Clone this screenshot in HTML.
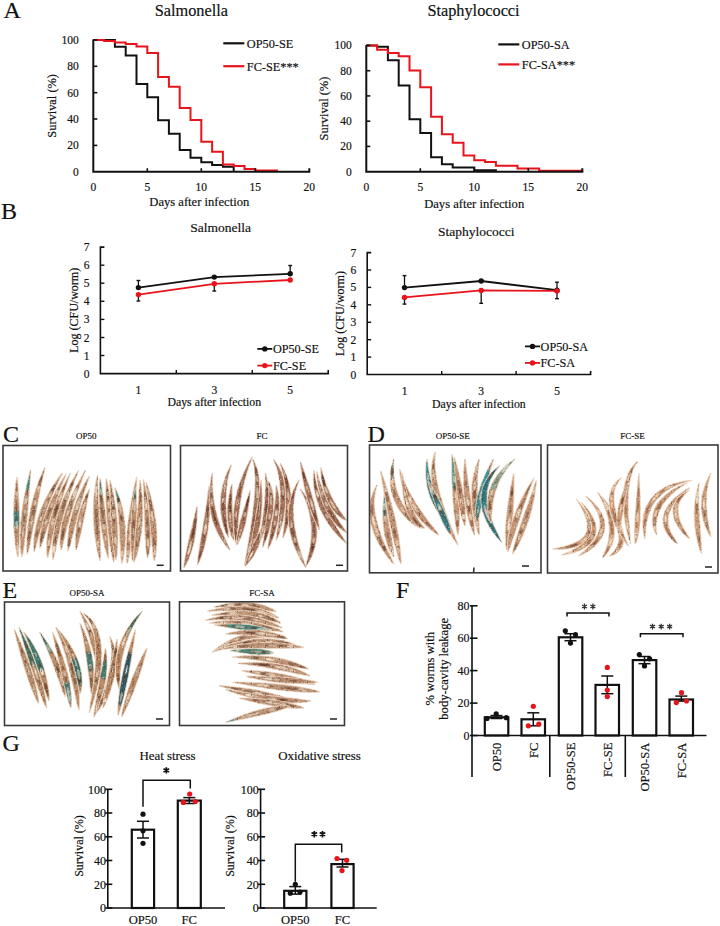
<!DOCTYPE html>
<html><head><meta charset="utf-8"><style>
html,body{margin:0;padding:0;background:#fff;}
svg{display:block;font-family:"Liberation Serif", serif;} text{stroke:#111;stroke-width:0.18px;}
</style></head><body>
<svg width="720" height="926" viewBox="0 0 720 926">
<defs><pattern id="spk" patternUnits="userSpaceOnUse" width="14" height="12"><ellipse cx="6.3" cy="6.7" rx="1.0" ry="0.6" fill="#4a2818" fill-opacity="0.38"/><ellipse cx="7.1" cy="7.0" rx="0.5" ry="0.7" fill="#4a2818" fill-opacity="0.38"/><ellipse cx="8.8" cy="9.5" rx="0.5" ry="0.6" fill="#4a2818" fill-opacity="0.38"/><ellipse cx="1.3" cy="9.7" rx="0.8" ry="0.4" fill="#4a2818" fill-opacity="0.38"/><ellipse cx="13.8" cy="11.6" rx="0.8" ry="0.7" fill="#4a2818" fill-opacity="0.38"/><ellipse cx="2.2" cy="0.2" rx="0.7" ry="0.4" fill="#4a2818" fill-opacity="0.38"/><ellipse cx="2.7" cy="2.9" rx="0.4" ry="0.6" fill="#4a2818" fill-opacity="0.38"/><ellipse cx="6.2" cy="10.1" rx="0.7" ry="0.7" fill="#4a2818" fill-opacity="0.38"/><ellipse cx="7.0" cy="7.9" rx="0.7" ry="0.5" fill="#4a2818" fill-opacity="0.38"/><ellipse cx="14.0" cy="11.9" rx="0.9" ry="0.8" fill="#4a2818" fill-opacity="0.38"/><ellipse cx="4.4" cy="2.8" rx="0.6" ry="0.4" fill="#4a2818" fill-opacity="0.38"/><ellipse cx="10.7" cy="4.8" rx="0.9" ry="0.6" fill="#4a2818" fill-opacity="0.38"/><ellipse cx="13.4" cy="10.2" rx="0.4" ry="0.5" fill="#4a2818" fill-opacity="0.38"/><ellipse cx="12.7" cy="5.6" rx="1.0" ry="0.6" fill="#4a2818" fill-opacity="0.38"/><ellipse cx="1.0" cy="7.6" rx="0.9" ry="0.5" fill="#4a2818" fill-opacity="0.38"/><ellipse cx="1.2" cy="4.0" rx="1.0" ry="0.8" fill="#4a2818" fill-opacity="0.38"/><ellipse cx="1.7" cy="3.0" rx="0.5" ry="0.4" fill="#4a2818" fill-opacity="0.38"/><ellipse cx="11.2" cy="2.1" rx="0.7" ry="0.6" fill="#4a2818" fill-opacity="0.38"/><ellipse cx="2.7" cy="8.8" rx="0.5" ry="0.7" fill="#4a2818" fill-opacity="0.38"/><ellipse cx="1.6" cy="5.0" rx="0.5" ry="0.5" fill="#4a2818" fill-opacity="0.38"/><ellipse cx="13.6" cy="9.6" rx="0.6" ry="0.8" fill="#4a2818" fill-opacity="0.38"/><ellipse cx="2.9" cy="4.7" rx="0.9" ry="0.7" fill="#4a2818" fill-opacity="0.38"/><ellipse cx="1.4" cy="11.9" rx="0.5" ry="0.4" fill="#fff" fill-opacity="0.45"/><ellipse cx="10.8" cy="3.9" rx="0.5" ry="0.3" fill="#fff" fill-opacity="0.45"/><ellipse cx="1.3" cy="7.0" rx="0.5" ry="0.6" fill="#fff" fill-opacity="0.45"/><ellipse cx="5.2" cy="5.4" rx="0.9" ry="0.5" fill="#fff" fill-opacity="0.45"/><ellipse cx="8.0" cy="10.4" rx="0.5" ry="0.4" fill="#fff" fill-opacity="0.45"/><ellipse cx="12.7" cy="9.8" rx="0.5" ry="0.4" fill="#fff" fill-opacity="0.45"/><ellipse cx="10.4" cy="11.3" rx="0.5" ry="0.8" fill="#fff" fill-opacity="0.45"/><ellipse cx="12.4" cy="7.2" rx="0.6" ry="0.4" fill="#fff" fill-opacity="0.45"/><ellipse cx="0.5" cy="11.6" rx="0.5" ry="0.7" fill="#fff" fill-opacity="0.45"/><ellipse cx="3.6" cy="9.9" rx="0.7" ry="0.4" fill="#fff" fill-opacity="0.45"/><ellipse cx="2.5" cy="8.6" rx="0.4" ry="0.4" fill="#fff" fill-opacity="0.45"/><ellipse cx="7.8" cy="10.2" rx="0.7" ry="0.4" fill="#fff" fill-opacity="0.45"/><ellipse cx="12.8" cy="2.4" rx="0.4" ry="0.4" fill="#fff" fill-opacity="0.45"/><ellipse cx="6.2" cy="0.7" rx="0.5" ry="0.5" fill="#fff" fill-opacity="0.45"/></pattern><linearGradient id="g1" gradientUnits="userSpaceOnUse" x1="17.2" y1="477.0" x2="17.9" y2="557.0"><stop offset="0" stop-color="#b88a68"/><stop offset="0.40" stop-color="#b88a68"/><stop offset="0.45" stop-color="#3f8078"/><stop offset="0.58" stop-color="#3f8078"/><stop offset="0.64" stop-color="#b88a68"/><stop offset="1" stop-color="#b88a68"/></linearGradient><linearGradient id="g2" gradientUnits="userSpaceOnUse" x1="30.7" y1="470.0" x2="21.9" y2="557.0"><stop offset="0" stop-color="#b88a68"/><stop offset="0.05" stop-color="#b88a68"/><stop offset="0.10" stop-color="#3f8078"/><stop offset="0.20" stop-color="#3f8078"/><stop offset="0.26" stop-color="#b88a68"/><stop offset="1" stop-color="#b88a68"/></linearGradient><linearGradient id="g3" gradientUnits="userSpaceOnUse" x1="100.2" y1="478.4" x2="108.3" y2="558.0"><stop offset="0" stop-color="#b88a68"/><stop offset="0.00" stop-color="#b88a68"/><stop offset="0.04" stop-color="#3f8078"/><stop offset="0.16" stop-color="#3f8078"/><stop offset="0.22" stop-color="#b88a68"/><stop offset="1" stop-color="#b88a68"/></linearGradient><linearGradient id="g4" gradientUnits="userSpaceOnUse" x1="115.0" y1="487.8" x2="121.8" y2="563.4"><stop offset="0" stop-color="#b88a68"/><stop offset="0.00" stop-color="#b88a68"/><stop offset="0.04" stop-color="#3f8078"/><stop offset="0.16" stop-color="#3f8078"/><stop offset="0.22" stop-color="#b88a68"/><stop offset="1" stop-color="#b88a68"/></linearGradient><linearGradient id="g5" gradientUnits="userSpaceOnUse" x1="135.3" y1="487.8" x2="132.6" y2="560.7"><stop offset="0" stop-color="#b88a68"/><stop offset="0.00" stop-color="#b88a68"/><stop offset="0.00" stop-color="#3f8078"/><stop offset="0.12" stop-color="#3f8078"/><stop offset="0.18" stop-color="#b88a68"/><stop offset="1" stop-color="#b88a68"/></linearGradient><linearGradient id="g6" gradientUnits="userSpaceOnUse" x1="384.3" y1="495.0" x2="393.8" y2="557.0"><stop offset="0" stop-color="#c08e6c"/><stop offset="0.00" stop-color="#c08e6c"/><stop offset="0.05" stop-color="#5a9a90"/><stop offset="0.30" stop-color="#5a9a90"/><stop offset="0.36" stop-color="#c08e6c"/><stop offset="1" stop-color="#c08e6c"/></linearGradient><linearGradient id="g7" gradientUnits="userSpaceOnUse" x1="393.8" y1="459.0" x2="419.9" y2="528.0"><stop offset="0" stop-color="#c08e6c"/><stop offset="0.00" stop-color="#c08e6c"/><stop offset="0.05" stop-color="#7aa090"/><stop offset="0.20" stop-color="#7aa090"/><stop offset="0.26" stop-color="#c08e6c"/><stop offset="1" stop-color="#c08e6c"/></linearGradient><linearGradient id="g8" gradientUnits="userSpaceOnUse" x1="427.0" y1="459.0" x2="448.4" y2="523.0"><stop offset="0" stop-color="#c08e6c"/><stop offset="0.00" stop-color="#c08e6c"/><stop offset="0.00" stop-color="#2a7a80"/><stop offset="0.75" stop-color="#2a7a80"/><stop offset="0.81" stop-color="#c08e6c"/><stop offset="1" stop-color="#c08e6c"/></linearGradient><linearGradient id="g9" gradientUnits="userSpaceOnUse" x1="428.0" y1="481.0" x2="451.0" y2="535.0"><stop offset="0" stop-color="#c08e6c"/><stop offset="0.15" stop-color="#c08e6c"/><stop offset="0.20" stop-color="#2a7a80"/><stop offset="0.90" stop-color="#2a7a80"/><stop offset="0.96" stop-color="#c08e6c"/><stop offset="1" stop-color="#c08e6c"/></linearGradient><linearGradient id="g10" gradientUnits="userSpaceOnUse" x1="452.0" y1="454.5" x2="457.9" y2="535.0"><stop offset="0" stop-color="#c08e6c"/><stop offset="0.00" stop-color="#c08e6c"/><stop offset="0.00" stop-color="#4a8f80"/><stop offset="0.40" stop-color="#4a8f80"/><stop offset="0.46" stop-color="#c08e6c"/><stop offset="1" stop-color="#c08e6c"/></linearGradient><linearGradient id="g11" gradientUnits="userSpaceOnUse" x1="493.5" y1="459.0" x2="476.9" y2="523.0"><stop offset="0" stop-color="#c08e6c"/><stop offset="0.15" stop-color="#c08e6c"/><stop offset="0.20" stop-color="#2f8a8a"/><stop offset="0.90" stop-color="#2f8a8a"/><stop offset="0.96" stop-color="#c08e6c"/><stop offset="1" stop-color="#c08e6c"/></linearGradient><linearGradient id="g12" gradientUnits="userSpaceOnUse" x1="499.5" y1="466.0" x2="501.8" y2="542.4"><stop offset="0" stop-color="#c08e6c"/><stop offset="0.00" stop-color="#c08e6c"/><stop offset="0.00" stop-color="#236e74"/><stop offset="1.00" stop-color="#236e74"/><stop offset="1.00" stop-color="#c08e6c"/><stop offset="1" stop-color="#c08e6c"/></linearGradient><linearGradient id="g13" gradientUnits="userSpaceOnUse" x1="514.9" y1="459.0" x2="491.0" y2="523.0"><stop offset="0" stop-color="#c08e6c"/><stop offset="0.00" stop-color="#c08e6c"/><stop offset="0.00" stop-color="#8aa088"/><stop offset="0.50" stop-color="#8aa088"/><stop offset="0.56" stop-color="#c08e6c"/><stop offset="1" stop-color="#c08e6c"/></linearGradient><linearGradient id="g14" gradientUnits="userSpaceOnUse" x1="19.0" y1="627.4" x2="46.6" y2="708.0"><stop offset="0" stop-color="#b5845e"/><stop offset="0.00" stop-color="#b5845e"/><stop offset="0.00" stop-color="#3a6a5a"/><stop offset="0.45" stop-color="#3a6a5a"/><stop offset="0.51" stop-color="#b5845e"/><stop offset="1" stop-color="#b5845e"/></linearGradient><linearGradient id="g15" gradientUnits="userSpaceOnUse" x1="23.6" y1="632.0" x2="49.0" y2="701.0"><stop offset="0" stop-color="#b5845e"/><stop offset="0.05" stop-color="#b5845e"/><stop offset="0.10" stop-color="#2f6a5e"/><stop offset="0.55" stop-color="#2f6a5e"/><stop offset="0.61" stop-color="#b5845e"/><stop offset="1" stop-color="#b5845e"/></linearGradient><linearGradient id="g16" gradientUnits="userSpaceOnUse" x1="39.7" y1="632.0" x2="65.1" y2="696.5"><stop offset="0" stop-color="#b5845e"/><stop offset="0.00" stop-color="#b5845e"/><stop offset="0.00" stop-color="#386e62"/><stop offset="0.30" stop-color="#386e62"/><stop offset="0.36" stop-color="#b5845e"/><stop offset="1" stop-color="#b5845e"/></linearGradient><linearGradient id="g17" gradientUnits="userSpaceOnUse" x1="52.4" y1="632.0" x2="70.9" y2="708.0"><stop offset="0" stop-color="#b5845e"/><stop offset="0.65" stop-color="#b5845e"/><stop offset="0.70" stop-color="#386e62"/><stop offset="0.90" stop-color="#386e62"/><stop offset="0.96" stop-color="#b5845e"/><stop offset="1" stop-color="#b5845e"/></linearGradient><linearGradient id="g18" gradientUnits="userSpaceOnUse" x1="58.2" y1="629.7" x2="80.0" y2="694.0"><stop offset="0" stop-color="#b5845e"/><stop offset="0.45" stop-color="#b5845e"/><stop offset="0.50" stop-color="#2a625a"/><stop offset="0.85" stop-color="#2a625a"/><stop offset="0.91" stop-color="#b5845e"/><stop offset="1" stop-color="#b5845e"/></linearGradient><linearGradient id="g19" gradientUnits="userSpaceOnUse" x1="80.0" y1="623.0" x2="91.6" y2="694.0"><stop offset="0" stop-color="#b5845e"/><stop offset="0.40" stop-color="#b5845e"/><stop offset="0.45" stop-color="#386e62"/><stop offset="0.65" stop-color="#386e62"/><stop offset="0.71" stop-color="#b5845e"/><stop offset="1" stop-color="#b5845e"/></linearGradient><linearGradient id="g20" gradientUnits="userSpaceOnUse" x1="105.4" y1="648.0" x2="94.0" y2="717.0"><stop offset="0" stop-color="#b5845e"/><stop offset="0.15" stop-color="#b5845e"/><stop offset="0.20" stop-color="#386e62"/><stop offset="0.40" stop-color="#386e62"/><stop offset="0.46" stop-color="#b5845e"/><stop offset="1" stop-color="#b5845e"/></linearGradient><linearGradient id="g21" gradientUnits="userSpaceOnUse" x1="142.3" y1="611.0" x2="119.3" y2="689.6"><stop offset="0" stop-color="#b5845e"/><stop offset="0.00" stop-color="#b5845e"/><stop offset="0.00" stop-color="#3a6e62"/><stop offset="0.25" stop-color="#3a6e62"/><stop offset="0.31" stop-color="#b5845e"/><stop offset="1" stop-color="#b5845e"/></linearGradient><linearGradient id="g22" gradientUnits="userSpaceOnUse" x1="135.4" y1="629.7" x2="118.1" y2="715.0"><stop offset="0" stop-color="#b5845e"/><stop offset="0.25" stop-color="#b5845e"/><stop offset="0.30" stop-color="#1f4e5e"/><stop offset="0.85" stop-color="#1f4e5e"/><stop offset="0.91" stop-color="#b5845e"/><stop offset="1" stop-color="#b5845e"/></linearGradient><linearGradient id="g23" gradientUnits="userSpaceOnUse" x1="214.4" y1="624.9" x2="271.7" y2="630.6"><stop offset="0" stop-color="#b88c6c"/><stop offset="0.20" stop-color="#b88c6c"/><stop offset="0.25" stop-color="#3f8078"/><stop offset="0.90" stop-color="#3f8078"/><stop offset="0.96" stop-color="#b88c6c"/><stop offset="1" stop-color="#b88c6c"/></linearGradient><linearGradient id="g24" gradientUnits="userSpaceOnUse" x1="230.4" y1="650.6" x2="274.0" y2="652.9"><stop offset="0" stop-color="#b88c6c"/><stop offset="0.00" stop-color="#b88c6c"/><stop offset="0.00" stop-color="#3f7a6a"/><stop offset="1.00" stop-color="#3f7a6a"/><stop offset="1.00" stop-color="#b88c6c"/><stop offset="1" stop-color="#b88c6c"/></linearGradient><linearGradient id="g25" gradientUnits="userSpaceOnUse" x1="225.8" y1="722.3" x2="290.0" y2="706.3"><stop offset="0" stop-color="#b88c6c"/><stop offset="0.00" stop-color="#b88c6c"/><stop offset="0.00" stop-color="#3f8078"/><stop offset="0.12" stop-color="#3f8078"/><stop offset="0.18" stop-color="#b88c6c"/><stop offset="1" stop-color="#b88c6c"/></linearGradient></defs>
<rect width="720" height="926" fill="#fff"/>
<text x="3.5" y="17.5" font-size="24" text-anchor="start" fill="#111">A</text>
<text x="1.0" y="218.5" font-size="24" text-anchor="start" fill="#111">B</text>
<text x="3.0" y="442.3" font-size="24" text-anchor="start" fill="#111">C</text>
<text x="367.5" y="442.4" font-size="24" text-anchor="start" fill="#111">D</text>
<text x="2.5" y="597.5" font-size="24" text-anchor="start" fill="#111">E</text>
<text x="396.0" y="597.5" font-size="24" text-anchor="start" fill="#111">F</text>
<text x="2.5" y="750.6" font-size="24" text-anchor="start" fill="#111">G</text>
<path d="M93.3,40.0 H114.9 V46.7 H125.7 V55.5 H136.5 V83.9 H147.3 V97.2 H158.1 V120.3 H168.9 V133.8 H179.7 V150.0 H190.5 V157.7 H201.3 V162.2 H212.1 V164.9 H222.9 V166.7 H233.7 V171.7" stroke="#111" stroke-width="2.0" fill="none" stroke-linejoin="miter"/>
<path d="M93.3,40.0 H104.1 V41.1 H114.9 V42.6 H125.7 V44.0 H136.5 V46.6 H147.3 V53.0 H158.1 V77.0 H168.9 V86.8 H179.7 V108.0 H190.5 V119.9 H201.3 V141.8 H212.1 V151.8 H222.9 V164.5 H233.7 V166.0 H244.5 V168.9 H255.3 V170.6 H276.9 V171.7" stroke="#e8141b" stroke-width="2.0" fill="none" stroke-linejoin="miter"/>
<path d="M93.3,39.5 V171.7 H309.3 v-3.5" stroke="#111" stroke-width="2.0" fill="none"/>
<line x1="93.3" y1="145.4" x2="97.3" y2="145.4" stroke="#111" stroke-width="1.6"/>
<line x1="93.3" y1="119.0" x2="97.3" y2="119.0" stroke="#111" stroke-width="1.6"/>
<line x1="93.3" y1="92.7" x2="97.3" y2="92.7" stroke="#111" stroke-width="1.6"/>
<line x1="93.3" y1="66.3" x2="97.3" y2="66.3" stroke="#111" stroke-width="1.6"/>
<line x1="93.3" y1="40.0" x2="97.3" y2="40.0" stroke="#111" stroke-width="1.6"/>
<line x1="147.3" y1="171.7" x2="147.3" y2="168.2" stroke="#111" stroke-width="1.6"/>
<line x1="201.3" y1="171.7" x2="201.3" y2="168.2" stroke="#111" stroke-width="1.6"/>
<line x1="255.3" y1="171.7" x2="255.3" y2="168.2" stroke="#111" stroke-width="1.6"/>
<text x="78.8" y="175.7" font-size="11.5" text-anchor="end" fill="#111">0</text>
<text x="78.8" y="149.4" font-size="11.5" text-anchor="end" fill="#111">20</text>
<text x="78.8" y="123.0" font-size="11.5" text-anchor="end" fill="#111">40</text>
<text x="78.8" y="96.7" font-size="11.5" text-anchor="end" fill="#111">60</text>
<text x="78.8" y="70.3" font-size="11.5" text-anchor="end" fill="#111">80</text>
<text x="78.8" y="44.0" font-size="11.5" text-anchor="end" fill="#111">100</text>
<text x="93.3" y="191.2" font-size="11.5" text-anchor="middle" fill="#111">0</text>
<text x="147.3" y="191.2" font-size="11.5" text-anchor="middle" fill="#111">5</text>
<text x="201.3" y="191.2" font-size="11.5" text-anchor="middle" fill="#111">10</text>
<text x="255.3" y="191.2" font-size="11.5" text-anchor="middle" fill="#111">15</text>
<text x="309.3" y="191.2" font-size="11.5" text-anchor="middle" fill="#111">20</text>
<text x="199.3" y="205.5" font-size="12.6" text-anchor="middle" fill="#111">Days after infection</text>
<text x="55.9" y="105.8" font-size="12.4" text-anchor="middle" fill="#111" transform="rotate(-90 55.9 105.85)">Survival (%)</text>
<text x="191.3" y="15.8" font-size="16.3" text-anchor="middle" fill="#111">Salmonella</text>
<line x1="223.3" y1="43.3" x2="244.3" y2="43.3" stroke="#111" stroke-width="2.2"/>
<text x="246.8" y="47.6" font-size="12.3" text-anchor="start" fill="#111">OP50-SE</text>
<line x1="223.3" y1="66.2" x2="244.3" y2="66.2" stroke="#e8141b" stroke-width="2.2"/>
<text x="246.8" y="70.5" font-size="12.3" text-anchor="start" fill="#111">FC-SE***</text>
<path d="M366.3,45.4 H377.1 V46.7 H387.9 V60.3 H398.7 V85.6 H409.5 V119.2 H420.3 V133.1 H431.1 V157.2 H441.9 V164.2 H452.7 V167.5 H474.3 V170.3 H495.9 V171.7" stroke="#111" stroke-width="2.0" fill="none" stroke-linejoin="miter"/>
<path d="M366.3,45.4 H377.1 V49.7 H387.9 V53.0 H398.7 V56.3 H409.5 V70.5 H420.3 V87.2 H431.1 V116.8 H441.9 V134.2 H452.7 V142.8 H463.5 V155.5 H474.3 V160.3 H485.1 V162.0 H495.9 V165.8 H517.5 V168.5 H539.1 V170.8 H582.3 V170.4" stroke="#e8141b" stroke-width="2.0" fill="none" stroke-linejoin="miter"/>
<path d="M366.3,44.9 V171.7 H582.3 v-3.5" stroke="#111" stroke-width="2.0" fill="none"/>
<line x1="366.3" y1="146.4" x2="370.3" y2="146.4" stroke="#111" stroke-width="1.6"/>
<line x1="366.3" y1="121.2" x2="370.3" y2="121.2" stroke="#111" stroke-width="1.6"/>
<line x1="366.3" y1="95.9" x2="370.3" y2="95.9" stroke="#111" stroke-width="1.6"/>
<line x1="366.3" y1="70.7" x2="370.3" y2="70.7" stroke="#111" stroke-width="1.6"/>
<line x1="366.3" y1="45.4" x2="370.3" y2="45.4" stroke="#111" stroke-width="1.6"/>
<line x1="420.3" y1="171.7" x2="420.3" y2="168.2" stroke="#111" stroke-width="1.6"/>
<line x1="474.3" y1="171.7" x2="474.3" y2="168.2" stroke="#111" stroke-width="1.6"/>
<line x1="528.3" y1="171.7" x2="528.3" y2="168.2" stroke="#111" stroke-width="1.6"/>
<text x="351.8" y="175.7" font-size="11.5" text-anchor="end" fill="#111">0</text>
<text x="351.8" y="150.4" font-size="11.5" text-anchor="end" fill="#111">20</text>
<text x="351.8" y="125.2" font-size="11.5" text-anchor="end" fill="#111">40</text>
<text x="351.8" y="99.9" font-size="11.5" text-anchor="end" fill="#111">60</text>
<text x="351.8" y="74.7" font-size="11.5" text-anchor="end" fill="#111">80</text>
<text x="351.8" y="49.4" font-size="11.5" text-anchor="end" fill="#111">100</text>
<text x="366.3" y="191.2" font-size="11.5" text-anchor="middle" fill="#111">0</text>
<text x="420.3" y="191.2" font-size="11.5" text-anchor="middle" fill="#111">5</text>
<text x="474.3" y="191.2" font-size="11.5" text-anchor="middle" fill="#111">10</text>
<text x="528.3" y="191.2" font-size="11.5" text-anchor="middle" fill="#111">15</text>
<text x="582.3" y="191.2" font-size="11.5" text-anchor="middle" fill="#111">20</text>
<text x="474.2" y="207.5" font-size="12.6" text-anchor="middle" fill="#111">Days after infection</text>
<text x="328.5" y="108.5" font-size="12.4" text-anchor="middle" fill="#111" transform="rotate(-90 328.5 108.55)">Survival (%)</text>
<text x="473.5" y="15.8" font-size="16.3" text-anchor="middle" fill="#111">Staphylococci</text>
<line x1="498.3" y1="44.4" x2="519.3" y2="44.4" stroke="#111" stroke-width="2.2"/>
<text x="521.8" y="48.7" font-size="12.3" text-anchor="start" fill="#111">OP50-SA</text>
<line x1="498.3" y1="64.4" x2="519.3" y2="64.4" stroke="#e8141b" stroke-width="2.2"/>
<text x="521.8" y="68.7" font-size="12.3" text-anchor="start" fill="#111">FC-SA***</text>
<path d="M104.4,247.1 H100.4 V373.6 H328.2 v-3.5" stroke="#111" stroke-width="1.6" fill="none"/>
<line x1="100.4" y1="355.5" x2="104.4" y2="355.5" stroke="#111" stroke-width="1.4"/>
<line x1="100.4" y1="337.5" x2="104.4" y2="337.5" stroke="#111" stroke-width="1.4"/>
<line x1="100.4" y1="319.4" x2="104.4" y2="319.4" stroke="#111" stroke-width="1.4"/>
<line x1="100.4" y1="301.3" x2="104.4" y2="301.3" stroke="#111" stroke-width="1.4"/>
<line x1="100.4" y1="283.2" x2="104.4" y2="283.2" stroke="#111" stroke-width="1.4"/>
<line x1="100.4" y1="265.2" x2="104.4" y2="265.2" stroke="#111" stroke-width="1.4"/>
<line x1="176.3" y1="373.6" x2="176.3" y2="370.1" stroke="#111" stroke-width="1.4"/>
<line x1="252.3" y1="373.6" x2="252.3" y2="370.1" stroke="#111" stroke-width="1.4"/>
<text x="89.4" y="377.6" font-size="11.5" text-anchor="end" fill="#111">0</text>
<text x="89.4" y="359.5" font-size="11.5" text-anchor="end" fill="#111">1</text>
<text x="89.4" y="341.5" font-size="11.5" text-anchor="end" fill="#111">2</text>
<text x="89.4" y="323.4" font-size="11.5" text-anchor="end" fill="#111">3</text>
<text x="89.4" y="305.3" font-size="11.5" text-anchor="end" fill="#111">4</text>
<text x="89.4" y="287.2" font-size="11.5" text-anchor="end" fill="#111">5</text>
<text x="89.4" y="269.2" font-size="11.5" text-anchor="end" fill="#111">6</text>
<text x="89.4" y="251.1" font-size="11.5" text-anchor="end" fill="#111">7</text>
<text x="138.4" y="393.6" font-size="11.5" text-anchor="middle" fill="#111">1</text>
<text x="214.3" y="393.6" font-size="11.5" text-anchor="middle" fill="#111">3</text>
<text x="290.2" y="393.6" font-size="11.5" text-anchor="middle" fill="#111">5</text>
<text x="214.3" y="405.5" font-size="11.8" text-anchor="middle" fill="#111">Days after infection</text>
<text x="77.5" y="310.4" font-size="12" text-anchor="middle" fill="#111" transform="rotate(-90 77.5 310.35)">Log (CFU/worm)</text>
<text x="220.6" y="232.2" font-size="13.5" text-anchor="middle" fill="#111">Salmonella</text>
<polyline points="138.4,287.6 214.3,277.1 290.2,273.8" stroke="#111" stroke-width="1.8" fill="none"/>
<polyline points="138.4,294.6 214.3,283.8 290.2,280.0" stroke="#e8141b" stroke-width="1.8" fill="none"/>
<line x1="138.4" y1="287.6" x2="138.4" y2="280.5" stroke="#111" stroke-width="1.3"/>
<line x1="136.5" y1="280.5" x2="140.3" y2="280.5" stroke="#111" stroke-width="1.4"/>
<line x1="290.2" y1="273.8" x2="290.2" y2="265.5" stroke="#111" stroke-width="1.3"/>
<line x1="288.3" y1="265.5" x2="292.1" y2="265.5" stroke="#111" stroke-width="1.4"/>
<line x1="138.4" y1="294.6" x2="138.4" y2="301.0" stroke="#111" stroke-width="1.3"/>
<line x1="136.5" y1="301.0" x2="140.3" y2="301.0" stroke="#111" stroke-width="1.4"/>
<line x1="214.3" y1="283.8" x2="214.3" y2="291.0" stroke="#111" stroke-width="1.3"/>
<line x1="212.4" y1="291.0" x2="216.2" y2="291.0" stroke="#111" stroke-width="1.4"/>
<circle cx="138.4" cy="287.6" r="2.7" fill="#111"/>
<circle cx="214.3" cy="277.1" r="2.7" fill="#111"/>
<circle cx="290.2" cy="273.8" r="2.7" fill="#111"/>
<circle cx="138.4" cy="294.6" r="2.7" fill="#e8141b"/>
<circle cx="214.3" cy="283.8" r="2.7" fill="#e8141b"/>
<circle cx="290.2" cy="280.0" r="2.7" fill="#e8141b"/>
<line x1="257.3" y1="348.9" x2="272.3" y2="348.9" stroke="#111" stroke-width="1.8"/>
<circle cx="264.8" cy="348.9" r="2.7" fill="#111"/>
<text x="272.9" y="353.1" font-size="12.2" text-anchor="start" fill="#111">OP50-SE</text>
<line x1="257.3" y1="365.6" x2="272.3" y2="365.6" stroke="#e8141b" stroke-width="1.8"/>
<circle cx="264.8" cy="365.6" r="2.7" fill="#e8141b"/>
<text x="272.9" y="369.8" font-size="12.2" text-anchor="start" fill="#111">FC-SE</text>
<path d="M371.2,252.6 H367.2 V374.5 H590.6 v-3.5" stroke="#111" stroke-width="1.6" fill="none"/>
<line x1="367.2" y1="357.1" x2="371.2" y2="357.1" stroke="#111" stroke-width="1.4"/>
<line x1="367.2" y1="339.7" x2="371.2" y2="339.7" stroke="#111" stroke-width="1.4"/>
<line x1="367.2" y1="322.3" x2="371.2" y2="322.3" stroke="#111" stroke-width="1.4"/>
<line x1="367.2" y1="304.8" x2="371.2" y2="304.8" stroke="#111" stroke-width="1.4"/>
<line x1="367.2" y1="287.4" x2="371.2" y2="287.4" stroke="#111" stroke-width="1.4"/>
<line x1="367.2" y1="270.0" x2="371.2" y2="270.0" stroke="#111" stroke-width="1.4"/>
<line x1="441.7" y1="374.5" x2="441.7" y2="371.0" stroke="#111" stroke-width="1.4"/>
<line x1="516.1" y1="374.5" x2="516.1" y2="371.0" stroke="#111" stroke-width="1.4"/>
<text x="356.2" y="378.5" font-size="11.5" text-anchor="end" fill="#111">0</text>
<text x="356.2" y="361.1" font-size="11.5" text-anchor="end" fill="#111">1</text>
<text x="356.2" y="343.7" font-size="11.5" text-anchor="end" fill="#111">2</text>
<text x="356.2" y="326.3" font-size="11.5" text-anchor="end" fill="#111">3</text>
<text x="356.2" y="308.8" font-size="11.5" text-anchor="end" fill="#111">4</text>
<text x="356.2" y="291.4" font-size="11.5" text-anchor="end" fill="#111">5</text>
<text x="356.2" y="274.0" font-size="11.5" text-anchor="end" fill="#111">6</text>
<text x="356.2" y="256.6" font-size="11.5" text-anchor="end" fill="#111">7</text>
<text x="404.5" y="394.5" font-size="11.5" text-anchor="middle" fill="#111">1</text>
<text x="481.2" y="394.5" font-size="11.5" text-anchor="middle" fill="#111">3</text>
<text x="557.0" y="394.5" font-size="11.5" text-anchor="middle" fill="#111">5</text>
<text x="478.9" y="408.2" font-size="11.8" text-anchor="middle" fill="#111">Days after infection</text>
<text x="344.0" y="313.6" font-size="12" text-anchor="middle" fill="#111" transform="rotate(-90 344 313.55)">Log (CFU/worm)</text>
<text x="476.2" y="236.0" font-size="13.5" text-anchor="middle" fill="#111">Staphylococci</text>
<polyline points="404.5,287.6 481.2,281.0 557.0,290.2" stroke="#111" stroke-width="1.8" fill="none"/>
<polyline points="404.5,297.4 481.2,290.4 557.0,290.9" stroke="#e8141b" stroke-width="1.8" fill="none"/>
<line x1="404.5" y1="287.6" x2="404.5" y2="275.6" stroke="#111" stroke-width="1.3"/>
<line x1="402.6" y1="275.6" x2="406.4" y2="275.6" stroke="#111" stroke-width="1.4"/>
<line x1="404.5" y1="297.4" x2="404.5" y2="304.1" stroke="#111" stroke-width="1.3"/>
<line x1="402.6" y1="304.1" x2="406.4" y2="304.1" stroke="#111" stroke-width="1.4"/>
<line x1="481.2" y1="290.4" x2="481.2" y2="303.3" stroke="#111" stroke-width="1.3"/>
<line x1="479.3" y1="303.3" x2="483.1" y2="303.3" stroke="#111" stroke-width="1.4"/>
<line x1="557.0" y1="290.9" x2="557.0" y2="282.2" stroke="#111" stroke-width="1.3"/>
<line x1="555.1" y1="282.2" x2="558.9" y2="282.2" stroke="#111" stroke-width="1.4"/>
<line x1="557.0" y1="290.9" x2="557.0" y2="298.7" stroke="#111" stroke-width="1.3"/>
<line x1="555.1" y1="298.7" x2="558.9" y2="298.7" stroke="#111" stroke-width="1.4"/>
<circle cx="404.5" cy="287.6" r="2.7" fill="#111"/>
<circle cx="481.2" cy="281.0" r="2.7" fill="#111"/>
<circle cx="557.0" cy="290.2" r="2.7" fill="#111"/>
<circle cx="404.5" cy="297.4" r="2.7" fill="#e8141b"/>
<circle cx="481.2" cy="290.4" r="2.7" fill="#e8141b"/>
<circle cx="557.0" cy="290.9" r="2.7" fill="#e8141b"/>
<line x1="525.0" y1="346.4" x2="540.0" y2="346.4" stroke="#111" stroke-width="1.8"/>
<circle cx="532.5" cy="346.4" r="2.7" fill="#111"/>
<text x="540.6" y="350.6" font-size="12.2" text-anchor="start" fill="#111">OP50-SA</text>
<line x1="525.0" y1="362.9" x2="540.0" y2="362.9" stroke="#e8141b" stroke-width="1.8"/>
<circle cx="532.5" cy="362.9" r="2.7" fill="#e8141b"/>
<text x="540.6" y="367.1" font-size="12.2" text-anchor="start" fill="#111">FC-SA</text>
<rect x="484.8" y="717.3" width="23.5" height="18.2" fill="#fff" stroke="#111" stroke-width="2.2"/>
<rect x="521.5" y="719.3" width="23.5" height="16.2" fill="#fff" stroke="#111" stroke-width="2.2"/>
<rect x="558.8" y="637.3" width="23.5" height="98.2" fill="#fff" stroke="#111" stroke-width="2.2"/>
<rect x="595.5" y="684.9" width="23.5" height="50.6" fill="#fff" stroke="#111" stroke-width="2.2"/>
<rect x="632.8" y="660.1" width="23.5" height="75.4" fill="#fff" stroke="#111" stroke-width="2.2"/>
<rect x="669.5" y="699.5" width="23.5" height="36.0" fill="#fff" stroke="#111" stroke-width="2.2"/>
<line x1="496.5" y1="718.5" x2="496.5" y2="715.6" stroke="#111" stroke-width="1.5"/>
<line x1="490.5" y1="715.6" x2="502.5" y2="715.6" stroke="#111" stroke-width="1.5"/>
<line x1="490.5" y1="718.5" x2="502.5" y2="718.5" stroke="#111" stroke-width="1.5"/>
<circle cx="487.0" cy="718.5" r="2.6" fill="#111"/>
<circle cx="496.2" cy="713.9" r="2.6" fill="#111"/>
<circle cx="506.3" cy="717.7" r="2.6" fill="#111"/>
<line x1="533.3" y1="725.8" x2="533.3" y2="712.8" stroke="#111" stroke-width="1.5"/>
<line x1="527.3" y1="712.8" x2="539.3" y2="712.8" stroke="#111" stroke-width="1.5"/>
<line x1="527.3" y1="725.8" x2="539.3" y2="725.8" stroke="#111" stroke-width="1.5"/>
<circle cx="533.3" cy="706.3" r="2.6" fill="#e8141b"/>
<circle cx="528.3" cy="725.8" r="2.6" fill="#e8141b"/>
<circle cx="538.8" cy="724.2" r="2.6" fill="#e8141b"/>
<line x1="570.5" y1="640.7" x2="570.5" y2="633.7" stroke="#111" stroke-width="1.5"/>
<line x1="564.5" y1="633.7" x2="576.5" y2="633.7" stroke="#111" stroke-width="1.5"/>
<line x1="564.5" y1="640.7" x2="576.5" y2="640.7" stroke="#111" stroke-width="1.5"/>
<circle cx="565.3" cy="630.8" r="2.6" fill="#111"/>
<circle cx="575.5" cy="634.5" r="2.6" fill="#111"/>
<circle cx="570.5" cy="643.1" r="2.6" fill="#111"/>
<line x1="607.3" y1="693.7" x2="607.3" y2="676.0" stroke="#111" stroke-width="1.5"/>
<line x1="601.3" y1="676.0" x2="613.3" y2="676.0" stroke="#111" stroke-width="1.5"/>
<line x1="601.3" y1="693.7" x2="613.3" y2="693.7" stroke="#111" stroke-width="1.5"/>
<circle cx="607.3" cy="667.4" r="2.6" fill="#e8141b"/>
<circle cx="607.3" cy="690.1" r="2.6" fill="#e8141b"/>
<circle cx="607.3" cy="696.6" r="2.6" fill="#e8141b"/>
<line x1="644.5" y1="663.7" x2="644.5" y2="656.5" stroke="#111" stroke-width="1.5"/>
<line x1="638.5" y1="656.5" x2="650.5" y2="656.5" stroke="#111" stroke-width="1.5"/>
<line x1="638.5" y1="663.7" x2="650.5" y2="663.7" stroke="#111" stroke-width="1.5"/>
<circle cx="639.3" cy="654.6" r="2.6" fill="#111"/>
<circle cx="649.6" cy="658.8" r="2.6" fill="#111"/>
<circle cx="644.5" cy="665.9" r="2.6" fill="#111"/>
<line x1="681.3" y1="701.1" x2="681.3" y2="696.1" stroke="#111" stroke-width="1.5"/>
<line x1="675.3" y1="696.1" x2="687.3" y2="696.1" stroke="#111" stroke-width="1.5"/>
<line x1="675.3" y1="701.1" x2="687.3" y2="701.1" stroke="#111" stroke-width="1.5"/>
<circle cx="681.5" cy="692.7" r="2.6" fill="#e8141b"/>
<circle cx="676.3" cy="702.6" r="2.6" fill="#e8141b"/>
<circle cx="686.5" cy="701.0" r="2.6" fill="#e8141b"/>
<path d="M472,605.8 V777 M472,735.5 H706.5 M549.8,735.5 V777 M625.3,735.5 V777" stroke="#111" stroke-width="1.6" fill="none"/>
<line x1="470.0" y1="735.5" x2="477.5" y2="735.5" stroke="#111" stroke-width="1.6"/>
<text x="469.5" y="739.7" font-size="12" text-anchor="end" fill="#111">0</text>
<line x1="470.0" y1="703.1" x2="477.5" y2="703.1" stroke="#111" stroke-width="1.6"/>
<text x="469.5" y="707.3" font-size="12" text-anchor="end" fill="#111">20</text>
<line x1="470.0" y1="670.6" x2="477.5" y2="670.6" stroke="#111" stroke-width="1.6"/>
<text x="469.5" y="674.9" font-size="12" text-anchor="end" fill="#111">40</text>
<line x1="470.0" y1="638.2" x2="477.5" y2="638.2" stroke="#111" stroke-width="1.6"/>
<text x="469.5" y="642.4" font-size="12" text-anchor="end" fill="#111">60</text>
<line x1="470.0" y1="605.8" x2="477.5" y2="605.8" stroke="#111" stroke-width="1.6"/>
<text x="469.5" y="610.0" font-size="12" text-anchor="end" fill="#111">80</text>
<text x="500.8" y="742.6" font-size="12.6" text-anchor="end" fill="#111" transform="rotate(-90 500.8 742.6)">OP50</text>
<text x="537.6" y="742.6" font-size="12.6" text-anchor="end" fill="#111" transform="rotate(-90 537.5999999999999 742.6)">FC</text>
<text x="574.8" y="742.6" font-size="12.6" text-anchor="end" fill="#111" transform="rotate(-90 574.8 742.6)">OP50-SE</text>
<text x="611.6" y="742.6" font-size="12.6" text-anchor="end" fill="#111" transform="rotate(-90 611.5999999999999 742.6)">FC-SE</text>
<text x="648.8" y="742.6" font-size="12.6" text-anchor="end" fill="#111" transform="rotate(-90 648.8 742.6)">OP50-SA</text>
<text x="685.6" y="742.6" font-size="12.6" text-anchor="end" fill="#111" transform="rotate(-90 685.5999999999999 742.6)">FC-SA</text>
<text x="434.5" y="668.8" font-size="12.6" text-anchor="middle" fill="#111" transform="rotate(-90 434.5 668.8)">% worms with</text>
<text x="448.5" y="668.8" font-size="12.6" text-anchor="middle" fill="#111" transform="rotate(-90 448.5 668.8)">body-cavity leakage</text>
<path d="M567,616.5 V613 H609 V616.5" stroke="#111" stroke-width="1.5" fill="none"/>
<path d="M640.4,637.3 V633.8 H683 V637.3" stroke="#111" stroke-width="1.5" fill="none"/>
<path d="M584.50,603.60 L584.50,609.40 M581.99,605.05 L587.01,607.95 M581.99,607.95 L587.01,605.05 " stroke="#333" stroke-width="1.3" fill="none"/>
<path d="M592.90,603.60 L592.90,609.40 M590.39,605.05 L595.41,607.95 M590.39,607.95 L595.41,605.05 " stroke="#333" stroke-width="1.3" fill="none"/>
<path d="M652.50,623.70 L652.50,629.50 M649.99,625.15 L655.01,628.05 M649.99,628.05 L655.01,625.15 " stroke="#333" stroke-width="1.3" fill="none"/>
<path d="M661.20,623.70 L661.20,629.50 M658.69,625.15 L663.71,628.05 M658.69,628.05 L663.71,625.15 " stroke="#333" stroke-width="1.3" fill="none"/>
<path d="M669.60,623.70 L669.60,629.50 M667.09,625.15 L672.11,628.05 M667.09,628.05 L672.11,625.15 " stroke="#333" stroke-width="1.3" fill="none"/>
<rect x="131.8" y="829.7" width="22.3" height="78.3" fill="#fff" stroke="#111" stroke-width="2.2"/>
<rect x="177.8" y="800.6" width="23.0" height="107.4" fill="#fff" stroke="#111" stroke-width="2.2"/>
<line x1="143.0" y1="838.0" x2="143.0" y2="821.3" stroke="#111" stroke-width="1.5"/>
<line x1="137.0" y1="821.3" x2="149.0" y2="821.3" stroke="#111" stroke-width="1.5"/>
<line x1="137.0" y1="838.0" x2="149.0" y2="838.0" stroke="#111" stroke-width="1.5"/>
<circle cx="143.0" cy="814.2" r="2.6" fill="#111"/>
<circle cx="143.0" cy="830.8" r="2.6" fill="#111"/>
<circle cx="143.0" cy="843.3" r="2.6" fill="#111"/>
<line x1="189.3" y1="803.5" x2="189.3" y2="797.6" stroke="#111" stroke-width="1.5"/>
<line x1="183.3" y1="797.6" x2="195.3" y2="797.6" stroke="#111" stroke-width="1.5"/>
<line x1="183.3" y1="803.5" x2="195.3" y2="803.5" stroke="#111" stroke-width="1.5"/>
<circle cx="189.7" cy="794.0" r="2.6" fill="#e8141b"/>
<circle cx="183.3" cy="802.4" r="2.6" fill="#e8141b"/>
<circle cx="195.3" cy="801.5" r="2.6" fill="#e8141b"/>
<path d="M107.8,789.3 V908.0 H225" stroke="#111" stroke-width="1.6" fill="none"/>
<line x1="105.3" y1="908.0" x2="112.3" y2="908.0" stroke="#111" stroke-width="1.6"/>
<text x="106.0" y="912.2" font-size="12" text-anchor="end" fill="#111">0</text>
<line x1="105.3" y1="884.3" x2="112.3" y2="884.3" stroke="#111" stroke-width="1.6"/>
<text x="106.0" y="888.5" font-size="12" text-anchor="end" fill="#111">20</text>
<line x1="105.3" y1="860.5" x2="112.3" y2="860.5" stroke="#111" stroke-width="1.6"/>
<text x="106.0" y="864.7" font-size="12" text-anchor="end" fill="#111">40</text>
<line x1="105.3" y1="836.8" x2="112.3" y2="836.8" stroke="#111" stroke-width="1.6"/>
<text x="106.0" y="841.0" font-size="12" text-anchor="end" fill="#111">60</text>
<line x1="105.3" y1="813.0" x2="112.3" y2="813.0" stroke="#111" stroke-width="1.6"/>
<text x="106.0" y="817.2" font-size="12" text-anchor="end" fill="#111">80</text>
<line x1="105.3" y1="789.3" x2="112.3" y2="789.3" stroke="#111" stroke-width="1.6"/>
<text x="106.0" y="793.5" font-size="12" text-anchor="end" fill="#111">100</text>
<text x="143.0" y="924.0" font-size="12.6" text-anchor="middle" fill="#111">OP50</text>
<text x="189.3" y="924.0" font-size="12.6" text-anchor="middle" fill="#111">FC</text>
<text x="167.5" y="760.3" font-size="12.9" text-anchor="middle" fill="#111">Heat stress</text>
<text x="83.0" y="846.0" font-size="12" text-anchor="middle" fill="#111" transform="rotate(-90 83 846)">Survival (%)</text>
<path d="M143,806.7 V780.3 H190.3 V788.6" stroke="#111" stroke-width="1.5" fill="none"/>
<path d="M166.30,767.20 L166.30,773.60 M163.53,768.80 L169.07,772.00 M163.53,772.00 L169.07,768.80 " stroke="#111" stroke-width="1.7" fill="none"/>
<rect x="284.2" y="890.8" width="22.2" height="17.2" fill="#fff" stroke="#111" stroke-width="2.2"/>
<rect x="331.4" y="864.1" width="22.2" height="43.9" fill="#fff" stroke="#111" stroke-width="2.2"/>
<line x1="295.3" y1="894.1" x2="295.3" y2="886.6" stroke="#111" stroke-width="1.5"/>
<line x1="289.3" y1="886.6" x2="301.3" y2="886.6" stroke="#111" stroke-width="1.5"/>
<line x1="289.3" y1="894.1" x2="301.3" y2="894.1" stroke="#111" stroke-width="1.5"/>
<circle cx="295.3" cy="884.3" r="2.6" fill="#111"/>
<circle cx="290.3" cy="893.2" r="2.6" fill="#111"/>
<circle cx="300.0" cy="892.1" r="2.6" fill="#111"/>
<line x1="342.5" y1="867.0" x2="342.5" y2="859.3" stroke="#111" stroke-width="1.5"/>
<line x1="336.5" y1="859.3" x2="348.5" y2="859.3" stroke="#111" stroke-width="1.5"/>
<line x1="336.5" y1="867.0" x2="348.5" y2="867.0" stroke="#111" stroke-width="1.5"/>
<circle cx="337.0" cy="858.5" r="2.6" fill="#e8141b"/>
<circle cx="346.7" cy="860.3" r="2.6" fill="#e8141b"/>
<circle cx="342.0" cy="870.6" r="2.6" fill="#e8141b"/>
<path d="M260.6,789.3 V908.0 H376.7" stroke="#111" stroke-width="1.6" fill="none"/>
<line x1="258.1" y1="908.0" x2="265.1" y2="908.0" stroke="#111" stroke-width="1.6"/>
<text x="258.8" y="912.2" font-size="12" text-anchor="end" fill="#111">0</text>
<line x1="258.1" y1="884.3" x2="265.1" y2="884.3" stroke="#111" stroke-width="1.6"/>
<text x="258.8" y="888.5" font-size="12" text-anchor="end" fill="#111">20</text>
<line x1="258.1" y1="860.5" x2="265.1" y2="860.5" stroke="#111" stroke-width="1.6"/>
<text x="258.8" y="864.7" font-size="12" text-anchor="end" fill="#111">40</text>
<line x1="258.1" y1="836.8" x2="265.1" y2="836.8" stroke="#111" stroke-width="1.6"/>
<text x="258.8" y="841.0" font-size="12" text-anchor="end" fill="#111">60</text>
<line x1="258.1" y1="813.0" x2="265.1" y2="813.0" stroke="#111" stroke-width="1.6"/>
<text x="258.8" y="817.2" font-size="12" text-anchor="end" fill="#111">80</text>
<line x1="258.1" y1="789.3" x2="265.1" y2="789.3" stroke="#111" stroke-width="1.6"/>
<text x="258.8" y="793.5" font-size="12" text-anchor="end" fill="#111">100</text>
<text x="295.3" y="924.0" font-size="12.6" text-anchor="middle" fill="#111">OP50</text>
<text x="342.5" y="924.0" font-size="12.6" text-anchor="middle" fill="#111">FC</text>
<text x="319.5" y="760.3" font-size="12.9" text-anchor="middle" fill="#111">Oxidative stress</text>
<text x="234.0" y="846.0" font-size="12" text-anchor="middle" fill="#111" transform="rotate(-90 234 846)">Survival (%)</text>
<path d="M295.3,881.7 V844.2 H341.7 V852.5" stroke="#111" stroke-width="1.5" fill="none"/>
<path d="M314.30,831.00 L314.30,837.40 M311.53,832.60 L317.07,835.80 M311.53,835.80 L317.07,832.60 " stroke="#111" stroke-width="1.7" fill="none"/>
<path d="M322.50,831.00 L322.50,837.40 M319.73,832.60 L325.27,835.80 M319.73,835.80 L325.27,832.60 " stroke="#111" stroke-width="1.7" fill="none"/>
<rect x="3" y="445.5" width="167.5" height="125.5" fill="#fff"/>
<g><polygon points="16.9,477.0 16.1,481.1 15.5,485.4 15.0,489.8 14.5,494.3 14.1,499.0 13.8,503.7 13.6,508.6 13.5,513.5 13.5,518.6 13.6,523.8 13.8,529.1 14.2,534.5 14.7,540.0 15.4,545.6 16.3,551.2 17.6,557.0 18.2,557.0 18.9,551.1 19.3,545.4 19.5,539.8 19.7,534.3 19.7,528.9 19.7,523.7 19.7,518.5 19.5,513.5 19.4,508.5 19.2,503.7 18.9,499.0 18.7,494.4 18.4,489.9 18.1,485.5 17.8,481.2 17.5,477.0" fill="url(#g1)" fill-opacity="0.92" stroke="#f2dcc8" stroke-width="0.8"/>
<ellipse cx="16.2" cy="505.6" rx="4.8" ry="0.9" transform="rotate(90 16.5 505.6)" fill="#5e3a26" fill-opacity="0.45"/>
<ellipse cx="16.4" cy="518.6" rx="2.7" ry="1.2" transform="rotate(89 16.6 518.6)" fill="#5e3a26" fill-opacity="0.45"/>
<ellipse cx="16.7" cy="489.3" rx="2.7" ry="0.9" transform="rotate(92 16.7 489.3)" fill="#5e3a26" fill-opacity="0.45"/>
<ellipse cx="16.8" cy="511.7" rx="2.9" ry="1.0" transform="rotate(90 16.5 511.7)" fill="#5e3a26" fill-opacity="0.45"/>
<ellipse cx="17.0" cy="524.4" rx="4.5" ry="1.1" transform="rotate(89 16.7 524.4)" fill="#fff6e0" fill-opacity="0.5"/>
<ellipse cx="17.1" cy="547.9" rx="5.5" ry="1.1" transform="rotate(87 17.5 547.9)" fill="#fff6e0" fill-opacity="0.5"/>
<ellipse cx="16.3" cy="495.2" rx="3.6" ry="1.4" transform="rotate(91 16.6 495.2)" fill="#fff6e0" fill-opacity="0.5"/>
<polygon points="16.9,477.0 16.1,481.1 15.5,485.4 15.0,489.8 14.5,494.3 14.1,499.0 13.8,503.7 13.6,508.6 13.5,513.5 13.5,518.6 13.6,523.8 13.8,529.1 14.2,534.5 14.7,540.0 15.4,545.6 16.3,551.2 17.6,557.0 18.2,557.0 18.9,551.1 19.3,545.4 19.5,539.8 19.7,534.3 19.7,528.9 19.7,523.7 19.7,518.5 19.5,513.5 19.4,508.5 19.2,503.7 18.9,499.0 18.7,494.4 18.4,489.9 18.1,485.5 17.8,481.2 17.5,477.0" fill="url(#spk)"/></g>
<g><polygon points="30.4,469.9 28.9,475.3 27.6,480.7 26.3,486.1 25.2,491.5 24.1,496.9 23.1,502.3 22.3,507.7 21.6,513.2 21.0,518.7 20.5,524.1 20.3,529.6 20.1,535.1 20.1,540.6 20.3,546.0 20.7,551.5 21.6,557.0 22.2,557.0 23.4,551.6 24.2,546.2 24.9,540.8 25.5,535.4 26.1,530.0 26.7,524.6 27.2,519.2 27.6,513.8 28.1,508.4 28.5,502.9 28.9,497.5 29.3,492.0 29.7,486.6 30.1,481.1 30.6,475.6 31.0,470.1" fill="url(#g2)" fill-opacity="0.92" stroke="#f2dcc8" stroke-width="0.8"/>
<ellipse cx="26.8" cy="495.2" rx="4.7" ry="1.1" transform="rotate(98 26.8 495.2)" fill="#5e3a26" fill-opacity="0.45"/>
<ellipse cx="23.6" cy="519.7" rx="2.7" ry="1.0" transform="rotate(95 24.0 519.7)" fill="#5e3a26" fill-opacity="0.45"/>
<ellipse cx="23.2" cy="528.6" rx="3.6" ry="1.3" transform="rotate(94 23.3 528.6)" fill="#5e3a26" fill-opacity="0.45"/>
<ellipse cx="24.4" cy="513.4" rx="5.3" ry="1.3" transform="rotate(96 24.6 513.4)" fill="#5e3a26" fill-opacity="0.45"/>
<ellipse cx="26.3" cy="499.4" rx="4.3" ry="1.5" transform="rotate(97 26.2 499.4)" fill="#fff6e0" fill-opacity="0.5"/>
<ellipse cx="22.9" cy="531.9" rx="5.9" ry="0.9" transform="rotate(94 23.0 531.9)" fill="#fff6e0" fill-opacity="0.5"/>
<ellipse cx="25.1" cy="511.1" rx="3.0" ry="1.2" transform="rotate(96 24.9 511.1)" fill="#fff6e0" fill-opacity="0.5"/>
<polygon points="30.4,469.9 28.9,475.3 27.6,480.7 26.3,486.1 25.2,491.5 24.1,496.9 23.1,502.3 22.3,507.7 21.6,513.2 21.0,518.7 20.5,524.1 20.3,529.6 20.1,535.1 20.1,540.6 20.3,546.0 20.7,551.5 21.6,557.0 22.2,557.0 23.4,551.6 24.2,546.2 24.9,540.8 25.5,535.4 26.1,530.0 26.7,524.6 27.2,519.2 27.6,513.8 28.1,508.4 28.5,502.9 28.9,497.5 29.3,492.0 29.7,486.6 30.1,481.1 30.6,475.6 31.0,470.1" fill="url(#spk)"/></g>
<g><polygon points="44.6,467.5 42.5,471.8 40.6,476.3 38.7,480.9 37.0,485.6 35.3,490.6 33.8,495.6 32.4,500.8 31.1,506.2 30.0,511.7 29.0,517.3 28.2,523.1 27.5,529.0 27.0,535.1 26.7,541.2 26.6,547.5 27.0,554.0 27.6,554.0 29.3,547.8 30.5,541.7 31.8,535.7 32.9,529.8 34.0,524.0 35.1,518.4 36.1,512.8 37.1,507.4 38.1,502.1 39.0,496.9 40.0,491.8 41.0,486.8 42.0,481.8 43.1,477.0 44.1,472.3 45.2,467.7" fill="#b88a68" fill-opacity="0.92" stroke="#f2dcc8" stroke-width="0.8"/>
<ellipse cx="40.7" cy="480.8" rx="5.2" ry="1.3" transform="rotate(107 40.5 480.8)" fill="#5e3a26" fill-opacity="0.45"/>
<ellipse cx="29.1" cy="536.5" rx="4.9" ry="1.3" transform="rotate(97 29.2 536.5)" fill="#5e3a26" fill-opacity="0.45"/>
<ellipse cx="32.4" cy="515.3" rx="5.4" ry="1.5" transform="rotate(100 32.5 515.3)" fill="#5e3a26" fill-opacity="0.45"/>
<ellipse cx="34.0" cy="508.1" rx="2.7" ry="1.4" transform="rotate(101 33.8 508.1)" fill="#5e3a26" fill-opacity="0.45"/>
<ellipse cx="32.1" cy="520.0" rx="5.4" ry="1.0" transform="rotate(99 31.7 520.0)" fill="#fff6e0" fill-opacity="0.5"/>
<ellipse cx="35.2" cy="502.3" rx="2.6" ry="1.2" transform="rotate(102 35.1 502.3)" fill="#fff6e0" fill-opacity="0.5"/>
<ellipse cx="38.1" cy="488.5" rx="2.7" ry="1.4" transform="rotate(105 38.4 488.5)" fill="#fff6e0" fill-opacity="0.5"/>
<polygon points="44.6,467.5 42.5,471.8 40.6,476.3 38.7,480.9 37.0,485.6 35.3,490.6 33.8,495.6 32.4,500.8 31.1,506.2 30.0,511.7 29.0,517.3 28.2,523.1 27.5,529.0 27.0,535.1 26.7,541.2 26.6,547.5 27.0,554.0 27.6,554.0 29.3,547.8 30.5,541.7 31.8,535.7 32.9,529.8 34.0,524.0 35.1,518.4 36.1,512.8 37.1,507.4 38.1,502.1 39.0,496.9 40.0,491.8 41.0,486.8 42.0,481.8 43.1,477.0 44.1,472.3 45.2,467.7" fill="url(#spk)"/></g>
<g><polygon points="62.1,472.8 58.8,477.1 55.7,481.5 52.7,486.0 49.9,490.6 47.3,495.3 44.9,500.0 42.6,504.9 40.6,509.8 38.9,514.8 37.3,519.8 36.0,524.9 35.0,530.1 34.2,535.4 33.7,540.7 33.4,546.0 33.8,551.4 34.4,551.4 36.1,546.4 37.5,541.3 38.9,536.3 40.3,531.4 41.7,526.4 43.2,521.6 44.7,516.7 46.4,511.8 48.0,507.0 49.8,502.1 51.7,497.3 53.6,492.5 55.7,487.7 57.9,482.8 60.2,478.0 62.7,473.2" fill="#b88a68" fill-opacity="0.92" stroke="#f2dcc8" stroke-width="0.8"/>
<ellipse cx="51.6" cy="491.5" rx="3.9" ry="1.5" transform="rotate(117 51.8 491.5)" fill="#5e3a26" fill-opacity="0.45"/>
<ellipse cx="53.2" cy="488.7" rx="4.4" ry="1.5" transform="rotate(118 53.2 488.7)" fill="#5e3a26" fill-opacity="0.45"/>
<ellipse cx="37.4" cy="533.3" rx="3.5" ry="1.1" transform="rotate(102 37.1 533.3)" fill="#5e3a26" fill-opacity="0.45"/>
<ellipse cx="46.0" cy="505.0" rx="5.9" ry="0.9" transform="rotate(112 45.7 505.0)" fill="#5e3a26" fill-opacity="0.45"/>
<ellipse cx="50.2" cy="494.3" rx="3.3" ry="1.2" transform="rotate(116 50.4 494.3)" fill="#fff6e0" fill-opacity="0.5"/>
<ellipse cx="40.6" cy="519.0" rx="2.5" ry="1.1" transform="rotate(107 40.8 519.0)" fill="#fff6e0" fill-opacity="0.5"/>
<ellipse cx="45.5" cy="505.7" rx="5.8" ry="1.3" transform="rotate(112 45.4 505.7)" fill="#fff6e0" fill-opacity="0.5"/>
<polygon points="62.1,472.8 58.8,477.1 55.7,481.5 52.7,486.0 49.9,490.6 47.3,495.3 44.9,500.0 42.6,504.9 40.6,509.8 38.9,514.8 37.3,519.8 36.0,524.9 35.0,530.1 34.2,535.4 33.7,540.7 33.4,546.0 33.8,551.4 34.4,551.4 36.1,546.4 37.5,541.3 38.9,536.3 40.3,531.4 41.7,526.4 43.2,521.6 44.7,516.7 46.4,511.8 48.0,507.0 49.8,502.1 51.7,497.3 53.6,492.5 55.7,487.7 57.9,482.8 60.2,478.0 62.7,473.2" fill="url(#spk)"/></g>
<g><polygon points="65.7,473.9 62.7,478.7 59.8,483.6 57.1,488.4 54.6,493.2 52.2,497.9 50.0,502.6 48.0,507.3 46.1,512.0 44.5,516.6 43.1,521.2 41.9,525.8 40.9,530.3 40.1,534.8 39.6,539.2 39.4,543.6 39.7,548.0 40.3,548.0 42.0,544.1 43.4,540.0 44.8,535.9 46.1,531.7 47.5,527.4 48.9,523.0 50.4,518.6 51.9,514.0 53.4,509.4 55.0,504.6 56.7,499.8 58.4,494.8 60.2,489.8 62.2,484.7 64.2,479.5 66.3,474.1" fill="#b88a68" fill-opacity="0.92" stroke="#f2dcc8" stroke-width="0.8"/>
<ellipse cx="47.9" cy="516.5" rx="4.9" ry="0.9" transform="rotate(108 47.8 516.5)" fill="#5e3a26" fill-opacity="0.45"/>
<ellipse cx="42.2" cy="537.4" rx="5.6" ry="1.4" transform="rotate(102 42.0 537.4)" fill="#5e3a26" fill-opacity="0.45"/>
<ellipse cx="50.2" cy="509.4" rx="2.9" ry="1.3" transform="rotate(110 50.3 509.4)" fill="#5e3a26" fill-opacity="0.45"/>
<ellipse cx="58.0" cy="489.9" rx="3.2" ry="1.0" transform="rotate(114 58.3 489.9)" fill="#5e3a26" fill-opacity="0.45"/>
<ellipse cx="51.0" cy="506.4" rx="2.5" ry="1.0" transform="rotate(111 51.4 506.4)" fill="#fff6e0" fill-opacity="0.5"/>
<ellipse cx="57.1" cy="492.3" rx="2.6" ry="1.5" transform="rotate(114 57.3 492.3)" fill="#fff6e0" fill-opacity="0.5"/>
<ellipse cx="45.8" cy="522.0" rx="3.4" ry="1.1" transform="rotate(107 46.0 522.0)" fill="#fff6e0" fill-opacity="0.5"/>
<polygon points="65.7,473.9 62.7,478.7 59.8,483.6 57.1,488.4 54.6,493.2 52.2,497.9 50.0,502.6 48.0,507.3 46.1,512.0 44.5,516.6 43.1,521.2 41.9,525.8 40.9,530.3 40.1,534.8 39.6,539.2 39.4,543.6 39.7,548.0 40.3,548.0 42.0,544.1 43.4,540.0 44.8,535.9 46.1,531.7 47.5,527.4 48.9,523.0 50.4,518.6 51.9,514.0 53.4,509.4 55.0,504.6 56.7,499.8 58.4,494.8 60.2,489.8 62.2,484.7 64.2,479.5 66.3,474.1" fill="url(#spk)"/></g>
<g><polygon points="70.2,472.9 67.2,478.1 64.4,483.4 61.7,488.7 59.3,494.0 57.0,499.4 54.9,504.7 53.0,510.1 51.4,515.4 49.9,520.8 48.7,526.1 47.8,531.5 47.1,536.8 46.6,542.2 46.5,547.5 46.6,552.8 47.3,558.0 47.9,558.0 49.2,553.0 50.3,547.9 51.4,542.8 52.4,537.7 53.6,532.6 54.7,527.4 56.0,522.2 57.2,517.0 58.6,511.7 60.0,506.4 61.5,501.0 63.2,495.5 64.9,490.0 66.8,484.4 68.7,478.8 70.8,473.1" fill="#b88a68" fill-opacity="0.92" stroke="#f2dcc8" stroke-width="0.8"/>
<ellipse cx="55.7" cy="510.3" rx="5.5" ry="1.6" transform="rotate(107 56.0 510.3)" fill="#5e3a26" fill-opacity="0.45"/>
<ellipse cx="54.1" cy="516.9" rx="2.8" ry="0.9" transform="rotate(105 54.1 516.9)" fill="#5e3a26" fill-opacity="0.45"/>
<ellipse cx="56.2" cy="508.9" rx="5.4" ry="1.0" transform="rotate(107 56.4 508.9)" fill="#5e3a26" fill-opacity="0.45"/>
<ellipse cx="64.4" cy="487.7" rx="4.3" ry="0.9" transform="rotate(112 64.0 487.7)" fill="#5e3a26" fill-opacity="0.45"/>
<ellipse cx="52.4" cy="522.0" rx="4.3" ry="1.6" transform="rotate(103 52.8 522.0)" fill="#fff6e0" fill-opacity="0.5"/>
<ellipse cx="49.1" cy="542.7" rx="3.4" ry="1.1" transform="rotate(97 49.0 542.7)" fill="#fff6e0" fill-opacity="0.5"/>
<ellipse cx="60.5" cy="497.2" rx="4.4" ry="1.4" transform="rotate(110 60.3 497.2)" fill="#fff6e0" fill-opacity="0.5"/>
<polygon points="70.2,472.9 67.2,478.1 64.4,483.4 61.7,488.7 59.3,494.0 57.0,499.4 54.9,504.7 53.0,510.1 51.4,515.4 49.9,520.8 48.7,526.1 47.8,531.5 47.1,536.8 46.6,542.2 46.5,547.5 46.6,552.8 47.3,558.0 47.9,558.0 49.2,553.0 50.3,547.9 51.4,542.8 52.4,537.7 53.6,532.6 54.7,527.4 56.0,522.2 57.2,517.0 58.6,511.7 60.0,506.4 61.5,501.0 63.2,495.5 64.9,490.0 66.8,484.4 68.7,478.8 70.8,473.1" fill="url(#spk)"/></g>
<g><polygon points="78.4,470.2 75.2,475.2 72.2,480.3 69.4,485.5 66.8,490.8 64.3,496.1 62.1,501.6 60.0,507.1 58.2,512.7 56.6,518.3 55.2,524.0 54.1,529.8 53.2,535.7 52.6,541.6 52.2,547.5 52.2,553.5 52.7,559.5 53.3,559.5 54.8,553.7 56.1,548.0 57.3,542.3 58.5,536.6 59.8,531.0 61.2,525.4 62.6,519.9 64.0,514.3 65.5,508.8 67.1,503.3 68.8,497.8 70.6,492.3 72.6,486.9 74.6,481.4 76.7,475.9 79.0,470.4" fill="#b88a68" fill-opacity="0.92" stroke="#f2dcc8" stroke-width="0.8"/>
<ellipse cx="63.5" cy="505.0" rx="5.3" ry="1.6" transform="rotate(108 63.7 505.0)" fill="#5e3a26" fill-opacity="0.45"/>
<ellipse cx="55.3" cy="541.4" rx="5.4" ry="1.4" transform="rotate(99 55.0 541.4)" fill="#5e3a26" fill-opacity="0.45"/>
<ellipse cx="66.2" cy="498.0" rx="3.7" ry="0.9" transform="rotate(110 66.2 498.0)" fill="#5e3a26" fill-opacity="0.45"/>
<ellipse cx="71.4" cy="484.8" rx="3.4" ry="1.3" transform="rotate(114 71.6 484.8)" fill="#5e3a26" fill-opacity="0.45"/>
<ellipse cx="54.0" cy="548.8" rx="5.8" ry="1.6" transform="rotate(97 54.0 548.8)" fill="#fff6e0" fill-opacity="0.5"/>
<ellipse cx="53.9" cy="548.7" rx="3.3" ry="1.0" transform="rotate(97 54.0 548.7)" fill="#fff6e0" fill-opacity="0.5"/>
<ellipse cx="66.7" cy="496.0" rx="4.7" ry="1.5" transform="rotate(111 67.0 496.0)" fill="#fff6e0" fill-opacity="0.5"/>
<polygon points="78.4,470.2 75.2,475.2 72.2,480.3 69.4,485.5 66.8,490.8 64.3,496.1 62.1,501.6 60.0,507.1 58.2,512.7 56.6,518.3 55.2,524.0 54.1,529.8 53.2,535.7 52.6,541.6 52.2,547.5 52.2,553.5 52.7,559.5 53.3,559.5 54.8,553.7 56.1,548.0 57.3,542.3 58.5,536.6 59.8,531.0 61.2,525.4 62.6,519.9 64.0,514.3 65.5,508.8 67.1,503.3 68.8,497.8 70.6,492.3 72.6,486.9 74.6,481.4 76.7,475.9 79.0,470.4" fill="url(#spk)"/></g>
<g><polygon points="85.1,470.2 81.8,475.7 78.8,481.2 75.9,486.6 73.3,491.9 70.9,497.2 68.6,502.4 66.7,507.6 64.9,512.6 63.4,517.6 62.1,522.5 61.1,527.4 60.4,532.1 60.0,536.7 59.8,541.3 60.0,545.7 60.8,550.0 61.4,550.0 62.7,545.9 63.7,541.7 64.7,537.5 65.8,533.1 66.9,528.6 68.1,524.0 69.4,519.3 70.7,514.4 72.2,509.4 73.7,504.2 75.4,498.9 77.2,493.5 79.1,488.0 81.2,482.3 83.4,476.4 85.7,470.4" fill="#b88a68" fill-opacity="0.92" stroke="#f2dcc8" stroke-width="0.8"/>
<ellipse cx="62.5" cy="536.0" rx="4.8" ry="1.4" transform="rotate(99 62.5 536.0)" fill="#5e3a26" fill-opacity="0.45"/>
<ellipse cx="76.6" cy="489.7" rx="5.7" ry="1.4" transform="rotate(113 76.5 489.7)" fill="#5e3a26" fill-opacity="0.45"/>
<ellipse cx="63.4" cy="530.9" rx="3.1" ry="1.4" transform="rotate(101 63.4 530.9)" fill="#5e3a26" fill-opacity="0.45"/>
<ellipse cx="70.5" cy="505.9" rx="5.9" ry="1.1" transform="rotate(109 70.3 505.9)" fill="#5e3a26" fill-opacity="0.45"/>
<ellipse cx="69.2" cy="510.2" rx="5.0" ry="1.0" transform="rotate(108 68.8 510.2)" fill="#fff6e0" fill-opacity="0.5"/>
<ellipse cx="75.0" cy="492.5" rx="5.7" ry="1.4" transform="rotate(112 75.3 492.5)" fill="#fff6e0" fill-opacity="0.5"/>
<ellipse cx="75.1" cy="493.8" rx="5.9" ry="1.3" transform="rotate(112 74.8 493.8)" fill="#fff6e0" fill-opacity="0.5"/>
<polygon points="85.1,470.2 81.8,475.7 78.8,481.2 75.9,486.6 73.3,491.9 70.9,497.2 68.6,502.4 66.7,507.6 64.9,512.6 63.4,517.6 62.1,522.5 61.1,527.4 60.4,532.1 60.0,536.7 59.8,541.3 60.0,545.7 60.8,550.0 61.4,550.0 62.7,545.9 63.7,541.7 64.7,537.5 65.8,533.1 66.9,528.6 68.1,524.0 69.4,519.3 70.7,514.4 72.2,509.4 73.7,504.2 75.4,498.9 77.2,493.5 79.1,488.0 81.2,482.3 83.4,476.4 85.7,470.4" fill="url(#spk)"/></g>
<g><polygon points="89.2,475.9 86.7,479.7 84.4,483.8 82.2,487.9 80.1,492.1 78.1,496.5 76.3,500.9 74.6,505.5 73.1,510.2 71.7,514.9 70.5,519.8 69.5,524.8 68.6,529.8 68.0,535.0 67.6,540.2 67.4,545.5 67.7,551.0 68.3,551.0 70.0,545.9 71.4,540.8 72.7,535.8 74.0,530.9 75.2,526.0 76.5,521.3 77.7,516.5 78.9,511.8 80.2,507.2 81.4,502.6 82.7,498.1 84.0,493.6 85.4,489.2 86.8,484.8 88.3,480.5 89.8,476.1" fill="#b88a68" fill-opacity="0.92" stroke="#f2dcc8" stroke-width="0.8"/>
<ellipse cx="77.8" cy="505.1" rx="3.0" ry="0.9" transform="rotate(108 77.8 505.1)" fill="#5e3a26" fill-opacity="0.45"/>
<ellipse cx="69.3" cy="542.4" rx="4.3" ry="1.5" transform="rotate(99 69.2 542.4)" fill="#5e3a26" fill-opacity="0.45"/>
<ellipse cx="76.7" cy="509.8" rx="5.4" ry="1.0" transform="rotate(106 76.3 509.8)" fill="#5e3a26" fill-opacity="0.45"/>
<ellipse cx="79.4" cy="499.5" rx="3.3" ry="1.3" transform="rotate(109 79.6 499.5)" fill="#5e3a26" fill-opacity="0.45"/>
<ellipse cx="79.4" cy="500.0" rx="3.0" ry="1.5" transform="rotate(109 79.5 500.0)" fill="#fff6e0" fill-opacity="0.5"/>
<ellipse cx="77.7" cy="505.2" rx="4.5" ry="1.5" transform="rotate(108 77.7 505.2)" fill="#fff6e0" fill-opacity="0.5"/>
<ellipse cx="76.9" cy="509.0" rx="4.3" ry="1.2" transform="rotate(107 76.6 509.0)" fill="#fff6e0" fill-opacity="0.5"/>
<polygon points="89.2,475.9 86.7,479.7 84.4,483.8 82.2,487.9 80.1,492.1 78.1,496.5 76.3,500.9 74.6,505.5 73.1,510.2 71.7,514.9 70.5,519.8 69.5,524.8 68.6,529.8 68.0,535.0 67.6,540.2 67.4,545.5 67.7,551.0 68.3,551.0 70.0,545.9 71.4,540.8 72.7,535.8 74.0,530.9 75.2,526.0 76.5,521.3 77.7,516.5 78.9,511.8 80.2,507.2 81.4,502.6 82.7,498.1 84.0,493.6 85.4,489.2 86.8,484.8 88.3,480.5 89.8,476.1" fill="url(#spk)"/></g>
<g><polygon points="89.2,488.9 87.6,491.7 86.0,494.7 84.6,497.8 83.2,501.0 81.9,504.4 80.7,507.9 79.5,511.6 78.5,515.3 77.6,519.2 76.9,523.3 76.2,527.4 75.8,531.7 75.4,536.1 75.2,540.6 75.2,545.2 75.7,550.0 76.3,550.0 77.9,545.5 79.1,541.1 80.1,536.8 81.1,532.6 82.0,528.4 82.9,524.4 83.7,520.5 84.5,516.7 85.2,512.9 85.9,509.3 86.5,505.7 87.2,502.2 87.8,498.8 88.5,495.5 89.2,492.3 89.8,489.1" fill="#b88a68" fill-opacity="0.92" stroke="#f2dcc8" stroke-width="0.8"/>
<ellipse cx="80.4" cy="519.3" rx="4.0" ry="1.0" transform="rotate(102 80.8 519.3)" fill="#5e3a26" fill-opacity="0.45"/>
<ellipse cx="87.0" cy="496.5" rx="3.1" ry="1.2" transform="rotate(108 86.8 496.5)" fill="#5e3a26" fill-opacity="0.45"/>
<ellipse cx="79.0" cy="529.3" rx="3.6" ry="1.2" transform="rotate(100 78.9 529.3)" fill="#5e3a26" fill-opacity="0.45"/>
<ellipse cx="80.7" cy="520.8" rx="2.9" ry="1.2" transform="rotate(101 80.5 520.8)" fill="#5e3a26" fill-opacity="0.45"/>
<ellipse cx="83.6" cy="506.7" rx="5.2" ry="1.2" transform="rotate(105 83.8 506.7)" fill="#fff6e0" fill-opacity="0.5"/>
<ellipse cx="80.6" cy="521.1" rx="5.7" ry="1.2" transform="rotate(101 80.4 521.1)" fill="#fff6e0" fill-opacity="0.5"/>
<ellipse cx="79.9" cy="523.6" rx="4.3" ry="1.3" transform="rotate(101 79.9 523.6)" fill="#fff6e0" fill-opacity="0.5"/>
<polygon points="89.2,488.9 87.6,491.7 86.0,494.7 84.6,497.8 83.2,501.0 81.9,504.4 80.7,507.9 79.5,511.6 78.5,515.3 77.6,519.2 76.9,523.3 76.2,527.4 75.8,531.7 75.4,536.1 75.2,540.6 75.2,545.2 75.7,550.0 76.3,550.0 77.9,545.5 79.1,541.1 80.1,536.8 81.1,532.6 82.0,528.4 82.9,524.4 83.7,520.5 84.5,516.7 85.2,512.9 85.9,509.3 86.5,505.7 87.2,502.2 87.8,498.8 88.5,495.5 89.2,492.3 89.8,489.1" fill="url(#spk)"/></g>
<g><polygon points="97.2,475.7 96.2,479.8 95.4,484.2 94.7,488.7 94.1,493.4 93.7,498.2 93.3,503.2 93.2,508.3 93.2,513.6 93.3,519.0 93.6,524.6 94.1,530.3 94.8,536.2 95.7,542.1 96.8,548.2 98.1,554.4 99.9,560.7 100.5,560.7 100.7,554.1 100.6,547.8 100.5,541.7 100.2,535.7 100.0,529.9 99.8,524.2 99.5,518.7 99.2,513.4 99.0,508.2 98.7,503.2 98.5,498.3 98.3,493.5 98.1,488.9 98.0,484.4 97.9,480.0 97.8,475.7" fill="#b88a68" fill-opacity="0.92" stroke="#f2dcc8" stroke-width="0.8"/>
<ellipse cx="96.2" cy="513.4" rx="4.2" ry="1.5" transform="rotate(88 96.2 513.4)" fill="#5e3a26" fill-opacity="0.45"/>
<ellipse cx="97.4" cy="530.2" rx="5.8" ry="1.0" transform="rotate(86 97.1 530.2)" fill="#5e3a26" fill-opacity="0.45"/>
<ellipse cx="96.9" cy="520.5" rx="5.4" ry="0.9" transform="rotate(87 96.5 520.5)" fill="#5e3a26" fill-opacity="0.45"/>
<ellipse cx="96.2" cy="492.9" rx="2.8" ry="1.0" transform="rotate(92 96.2 492.9)" fill="#5e3a26" fill-opacity="0.45"/>
<ellipse cx="96.5" cy="490.2" rx="5.2" ry="1.5" transform="rotate(93 96.3 490.2)" fill="#fff6e0" fill-opacity="0.5"/>
<ellipse cx="96.3" cy="494.9" rx="4.8" ry="0.9" transform="rotate(92 96.1 494.9)" fill="#fff6e0" fill-opacity="0.5"/>
<ellipse cx="98.6" cy="543.6" rx="3.3" ry="1.5" transform="rotate(84 98.2 543.6)" fill="#fff6e0" fill-opacity="0.5"/>
<polygon points="97.2,475.7 96.2,479.8 95.4,484.2 94.7,488.7 94.1,493.4 93.7,498.2 93.3,503.2 93.2,508.3 93.2,513.6 93.3,519.0 93.6,524.6 94.1,530.3 94.8,536.2 95.7,542.1 96.8,548.2 98.1,554.4 99.9,560.7 100.5,560.7 100.7,554.1 100.6,547.8 100.5,541.7 100.2,535.7 100.0,529.9 99.8,524.2 99.5,518.7 99.2,513.4 99.0,508.2 98.7,503.2 98.5,498.3 98.3,493.5 98.1,488.9 98.0,484.4 97.9,480.0 97.8,475.7" fill="url(#spk)"/></g>
<g><polygon points="99.9,478.4 99.5,482.9 99.3,487.5 99.2,492.2 99.1,496.9 99.2,501.7 99.3,506.6 99.5,511.5 99.9,516.5 100.3,521.5 100.9,526.6 101.7,531.8 102.6,536.9 103.6,542.2 104.8,547.4 106.2,552.8 108.0,558.0 108.6,558.0 108.8,552.4 108.6,546.9 108.3,541.5 108.0,536.3 107.5,531.0 107.0,525.9 106.5,520.9 105.9,515.9 105.3,511.0 104.7,506.1 104.0,501.4 103.3,496.7 102.6,492.0 101.9,487.4 101.2,482.9 100.5,478.4" fill="url(#g3)" fill-opacity="0.92" stroke="#f2dcc8" stroke-width="0.8"/>
<ellipse cx="102.5" cy="512.8" rx="6.0" ry="1.4" transform="rotate(84 102.6 512.8)" fill="#5e3a26" fill-opacity="0.45"/>
<ellipse cx="101.3" cy="498.6" rx="4.3" ry="1.1" transform="rotate(86 101.3 498.6)" fill="#5e3a26" fill-opacity="0.45"/>
<ellipse cx="101.3" cy="500.7" rx="5.0" ry="0.9" transform="rotate(86 101.5 500.7)" fill="#5e3a26" fill-opacity="0.45"/>
<ellipse cx="103.5" cy="522.3" rx="2.6" ry="1.1" transform="rotate(84 103.6 522.3)" fill="#5e3a26" fill-opacity="0.45"/>
<ellipse cx="104.1" cy="526.7" rx="2.7" ry="1.6" transform="rotate(83 104.0 526.7)" fill="#fff6e0" fill-opacity="0.5"/>
<ellipse cx="105.7" cy="537.2" rx="2.9" ry="1.0" transform="rotate(83 105.3 537.2)" fill="#fff6e0" fill-opacity="0.5"/>
<ellipse cx="101.1" cy="491.6" rx="3.4" ry="0.9" transform="rotate(86 100.9 491.6)" fill="#fff6e0" fill-opacity="0.5"/>
<polygon points="99.9,478.4 99.5,482.9 99.3,487.5 99.2,492.2 99.1,496.9 99.2,501.7 99.3,506.6 99.5,511.5 99.9,516.5 100.3,521.5 100.9,526.6 101.7,531.8 102.6,536.9 103.6,542.2 104.8,547.4 106.2,552.8 108.0,558.0 108.6,558.0 108.8,552.4 108.6,546.9 108.3,541.5 108.0,536.3 107.5,531.0 107.0,525.9 106.5,520.9 105.9,515.9 105.3,511.0 104.7,506.1 104.0,501.4 103.3,496.7 102.6,492.0 101.9,487.4 101.2,482.9 100.5,478.4" fill="url(#spk)"/></g>
<g><polygon points="106.0,478.4 105.8,482.8 105.8,487.2 105.8,491.8 105.8,496.5 105.9,501.3 106.1,506.2 106.4,511.3 106.7,516.5 107.1,521.8 107.6,527.2 108.2,532.7 108.9,538.3 109.7,544.1 110.7,550.0 111.8,556.0 113.4,562.0 114.0,562.0 114.5,555.7 114.6,549.6 114.5,543.7 114.3,537.9 114.1,532.2 113.7,526.6 113.3,521.2 112.7,515.9 112.1,510.8 111.5,505.8 110.8,500.9 110.0,496.1 109.2,491.5 108.4,487.0 107.5,482.6 106.6,478.4" fill="#b88a68" fill-opacity="0.92" stroke="#f2dcc8" stroke-width="0.8"/>
<ellipse cx="109.9" cy="514.1" rx="5.4" ry="1.0" transform="rotate(85 109.5 514.1)" fill="#5e3a26" fill-opacity="0.45"/>
<ellipse cx="108.4" cy="497.4" rx="4.5" ry="1.3" transform="rotate(85 108.0 497.4)" fill="#5e3a26" fill-opacity="0.45"/>
<ellipse cx="107.3" cy="494.0" rx="4.9" ry="1.1" transform="rotate(85 107.7 494.0)" fill="#5e3a26" fill-opacity="0.45"/>
<ellipse cx="108.0" cy="493.0" rx="4.7" ry="1.4" transform="rotate(85 107.6 493.0)" fill="#5e3a26" fill-opacity="0.45"/>
<ellipse cx="108.0" cy="493.6" rx="2.7" ry="1.5" transform="rotate(85 107.7 493.6)" fill="#fff6e0" fill-opacity="0.5"/>
<ellipse cx="109.6" cy="516.2" rx="4.4" ry="1.5" transform="rotate(85 109.7 516.2)" fill="#fff6e0" fill-opacity="0.5"/>
<ellipse cx="108.3" cy="504.5" rx="4.3" ry="1.0" transform="rotate(85 108.7 504.5)" fill="#fff6e0" fill-opacity="0.5"/>
<polygon points="106.0,478.4 105.8,482.8 105.8,487.2 105.8,491.8 105.8,496.5 105.9,501.3 106.1,506.2 106.4,511.3 106.7,516.5 107.1,521.8 107.6,527.2 108.2,532.7 108.9,538.3 109.7,544.1 110.7,550.0 111.8,556.0 113.4,562.0 114.0,562.0 114.5,555.7 114.6,549.6 114.5,543.7 114.3,537.9 114.1,532.2 113.7,526.6 113.3,521.2 112.7,515.9 112.1,510.8 111.5,505.8 110.8,500.9 110.0,496.1 109.2,491.5 108.4,487.0 107.5,482.6 106.6,478.4" fill="url(#spk)"/></g>
<g><polygon points="109.7,480.0 109.8,484.6 109.9,489.3 110.0,494.0 110.2,498.7 110.3,503.5 110.5,508.4 110.7,513.3 111.0,518.2 111.3,523.2 111.6,528.3 112.0,533.4 112.5,538.6 113.1,543.9 113.8,549.2 114.5,554.6 115.7,560.0 116.3,560.0 117.2,554.5 117.6,549.1 117.9,543.7 118.0,538.4 117.9,533.1 117.8,527.9 117.5,522.8 117.0,517.8 116.5,512.8 115.9,507.9 115.1,503.0 114.3,498.3 113.4,493.6 112.5,489.0 111.5,484.4 110.3,480.0" fill="#b88a68" fill-opacity="0.92" stroke="#f2dcc8" stroke-width="0.8"/>
<ellipse cx="111.8" cy="497.3" rx="2.7" ry="1.0" transform="rotate(84 112.1 497.3)" fill="#5e3a26" fill-opacity="0.45"/>
<ellipse cx="113.1" cy="509.3" rx="5.2" ry="1.1" transform="rotate(85 113.3 509.3)" fill="#5e3a26" fill-opacity="0.45"/>
<ellipse cx="113.9" cy="520.8" rx="3.7" ry="0.9" transform="rotate(86 114.2 520.8)" fill="#5e3a26" fill-opacity="0.45"/>
<ellipse cx="112.6" cy="505.6" rx="5.1" ry="1.2" transform="rotate(85 113.0 505.6)" fill="#5e3a26" fill-opacity="0.45"/>
<ellipse cx="112.6" cy="502.0" rx="5.8" ry="0.9" transform="rotate(84 112.6 502.0)" fill="#fff6e0" fill-opacity="0.5"/>
<ellipse cx="115.3" cy="541.1" rx="4.2" ry="1.4" transform="rotate(87 115.4 541.1)" fill="#fff6e0" fill-opacity="0.5"/>
<ellipse cx="113.7" cy="514.2" rx="4.9" ry="1.6" transform="rotate(85 113.7 514.2)" fill="#fff6e0" fill-opacity="0.5"/>
<polygon points="109.7,480.0 109.8,484.6 109.9,489.3 110.0,494.0 110.2,498.7 110.3,503.5 110.5,508.4 110.7,513.3 111.0,518.2 111.3,523.2 111.6,528.3 112.0,533.4 112.5,538.6 113.1,543.9 113.8,549.2 114.5,554.6 115.7,560.0 116.3,560.0 117.2,554.5 117.6,549.1 117.9,543.7 118.0,538.4 117.9,533.1 117.8,527.9 117.5,522.8 117.0,517.8 116.5,512.8 115.9,507.9 115.1,503.0 114.3,498.3 113.4,493.6 112.5,489.0 111.5,484.4 110.3,480.0" fill="url(#spk)"/></g>
<g><polygon points="114.7,487.9 115.4,491.8 116.1,495.8 116.7,499.9 117.2,504.1 117.7,508.4 118.1,512.8 118.4,517.3 118.8,521.9 119.1,526.6 119.4,531.4 119.7,536.4 119.9,541.5 120.2,546.7 120.5,552.1 120.8,557.7 121.5,563.4 122.1,563.4 123.5,557.8 124.4,552.3 125.0,546.8 125.4,541.5 125.5,536.3 125.5,531.2 125.3,526.2 124.8,521.3 124.2,516.6 123.4,512.0 122.4,507.6 121.3,503.3 120.0,499.1 118.6,495.2 117.0,491.3 115.3,487.7" fill="url(#g4)" fill-opacity="0.92" stroke="#f2dcc8" stroke-width="0.8"/>
<ellipse cx="121.4" cy="515.2" rx="5.0" ry="1.3" transform="rotate(83 121.1 515.2)" fill="#5e3a26" fill-opacity="0.45"/>
<ellipse cx="121.4" cy="518.7" rx="2.7" ry="0.9" transform="rotate(84 121.5 518.7)" fill="#5e3a26" fill-opacity="0.45"/>
<ellipse cx="118.8" cy="500.7" rx="3.4" ry="1.0" transform="rotate(77 118.6 500.7)" fill="#5e3a26" fill-opacity="0.45"/>
<ellipse cx="119.0" cy="501.4" rx="5.5" ry="1.3" transform="rotate(78 118.8 501.4)" fill="#5e3a26" fill-opacity="0.45"/>
<ellipse cx="120.4" cy="511.8" rx="3.5" ry="1.2" transform="rotate(82 120.7 511.8)" fill="#fff6e0" fill-opacity="0.5"/>
<ellipse cx="119.5" cy="505.1" rx="3.4" ry="1.5" transform="rotate(79 119.5 505.1)" fill="#fff6e0" fill-opacity="0.5"/>
<ellipse cx="122.4" cy="554.3" rx="3.4" ry="1.5" transform="rotate(93 122.3 554.3)" fill="#fff6e0" fill-opacity="0.5"/>
<polygon points="114.7,487.9 115.4,491.8 116.1,495.8 116.7,499.9 117.2,504.1 117.7,508.4 118.1,512.8 118.4,517.3 118.8,521.9 119.1,526.6 119.4,531.4 119.7,536.4 119.9,541.5 120.2,546.7 120.5,552.1 120.8,557.7 121.5,563.4 122.1,563.4 123.5,557.8 124.4,552.3 125.0,546.8 125.4,541.5 125.5,536.3 125.5,531.2 125.3,526.2 124.8,521.3 124.2,516.6 123.4,512.0 122.4,507.6 121.3,503.3 120.0,499.1 118.6,495.2 117.0,491.3 115.3,487.7" fill="url(#spk)"/></g>
<g><polygon points="136.4,477.0 135.1,482.3 133.9,487.6 132.8,493.0 131.8,498.3 130.8,503.7 129.9,509.1 129.0,514.5 128.3,519.9 127.6,525.3 127.1,530.7 126.7,536.1 126.4,541.5 126.2,547.0 126.2,552.4 126.3,557.9 126.9,563.4 127.5,563.4 129.0,558.1 130.0,552.8 131.0,547.4 131.8,542.1 132.5,536.7 133.2,531.3 133.8,525.9 134.3,520.5 134.8,515.1 135.2,509.7 135.6,504.3 135.9,498.9 136.2,493.4 136.5,488.0 136.8,482.5 137.0,477.0" fill="#b88a68" fill-opacity="0.92" stroke="#f2dcc8" stroke-width="0.8"/>
<ellipse cx="132.3" cy="510.6" rx="2.5" ry="1.1" transform="rotate(97 132.4 510.6)" fill="#5e3a26" fill-opacity="0.45"/>
<ellipse cx="131.2" cy="521.5" rx="3.2" ry="1.2" transform="rotate(96 131.2 521.5)" fill="#5e3a26" fill-opacity="0.45"/>
<ellipse cx="134.7" cy="490.3" rx="2.8" ry="1.1" transform="rotate(97 134.9 490.3)" fill="#5e3a26" fill-opacity="0.45"/>
<ellipse cx="134.2" cy="492.7" rx="3.6" ry="1.0" transform="rotate(97 134.6 492.7)" fill="#5e3a26" fill-opacity="0.45"/>
<ellipse cx="130.4" cy="528.9" rx="5.1" ry="1.3" transform="rotate(96 130.4 528.9)" fill="#fff6e0" fill-opacity="0.5"/>
<ellipse cx="129.8" cy="537.6" rx="3.9" ry="1.1" transform="rotate(96 129.5 537.6)" fill="#fff6e0" fill-opacity="0.5"/>
<ellipse cx="127.6" cy="555.5" rx="5.0" ry="1.3" transform="rotate(95 127.9 555.5)" fill="#fff6e0" fill-opacity="0.5"/>
<polygon points="136.4,477.0 135.1,482.3 133.9,487.6 132.8,493.0 131.8,498.3 130.8,503.7 129.9,509.1 129.0,514.5 128.3,519.9 127.6,525.3 127.1,530.7 126.7,536.1 126.4,541.5 126.2,547.0 126.2,552.4 126.3,557.9 126.9,563.4 127.5,563.4 129.0,558.1 130.0,552.8 131.0,547.4 131.8,542.1 132.5,536.7 133.2,531.3 133.8,525.9 134.3,520.5 134.8,515.1 135.2,509.7 135.6,504.3 135.9,498.9 136.2,493.4 136.5,488.0 136.8,482.5 137.0,477.0" fill="url(#spk)"/></g>
<g><polygon points="135.0,487.8 134.3,491.7 133.7,495.7 133.1,499.8 132.6,504.0 132.1,508.2 131.6,512.6 131.3,517.0 131.0,521.5 130.7,526.1 130.6,530.8 130.5,535.5 130.6,540.4 130.7,545.3 131.0,550.4 131.4,555.5 132.3,560.7 132.9,560.7 134.1,555.6 134.9,550.5 135.5,545.5 136.0,540.6 136.4,535.7 136.7,531.0 136.9,526.3 137.0,521.7 137.1,517.2 137.0,512.8 136.9,508.4 136.7,504.1 136.5,499.9 136.3,495.8 136.0,491.8 135.6,487.8" fill="url(#g5)" fill-opacity="0.92" stroke="#f2dcc8" stroke-width="0.8"/>
<ellipse cx="135.1" cy="499.6" rx="5.6" ry="1.3" transform="rotate(92 134.8 499.6)" fill="#5e3a26" fill-opacity="0.45"/>
<ellipse cx="133.7" cy="537.8" rx="3.0" ry="1.2" transform="rotate(92 133.4 537.8)" fill="#5e3a26" fill-opacity="0.45"/>
<ellipse cx="134.2" cy="524.4" rx="5.3" ry="1.4" transform="rotate(92 133.9 524.4)" fill="#5e3a26" fill-opacity="0.45"/>
<ellipse cx="134.1" cy="529.0" rx="4.9" ry="1.3" transform="rotate(92 133.7 529.0)" fill="#5e3a26" fill-opacity="0.45"/>
<ellipse cx="134.1" cy="509.3" rx="3.0" ry="1.1" transform="rotate(92 134.5 509.3)" fill="#fff6e0" fill-opacity="0.5"/>
<ellipse cx="135.0" cy="502.7" rx="4.5" ry="1.3" transform="rotate(92 134.7 502.7)" fill="#fff6e0" fill-opacity="0.5"/>
<ellipse cx="133.8" cy="531.4" rx="4.2" ry="0.8" transform="rotate(92 133.6 531.4)" fill="#fff6e0" fill-opacity="0.5"/>
<polygon points="135.0,487.8 134.3,491.7 133.7,495.7 133.1,499.8 132.6,504.0 132.1,508.2 131.6,512.6 131.3,517.0 131.0,521.5 130.7,526.1 130.6,530.8 130.5,535.5 130.6,540.4 130.7,545.3 131.0,550.4 131.4,555.5 132.3,560.7 132.9,560.7 134.1,555.6 134.9,550.5 135.5,545.5 136.0,540.6 136.4,535.7 136.7,531.0 136.9,526.3 137.0,521.7 137.1,517.2 137.0,512.8 136.9,508.4 136.7,504.1 136.5,499.9 136.3,495.8 136.0,491.8 135.6,487.8" fill="url(#spk)"/></g>
<g><polygon points="139.7,480.0 139.4,485.2 139.0,490.3 138.7,495.4 138.3,500.5 137.9,505.6 137.4,510.6 136.9,515.7 136.5,520.8 136.0,525.9 135.5,530.9 135.1,536.0 134.7,541.1 134.3,546.3 133.9,551.4 133.6,556.6 133.7,561.9 134.3,562.1 136.3,557.1 137.8,552.1 139.0,547.0 140.1,541.9 140.9,536.7 141.6,531.6 142.2,526.4 142.5,521.2 142.7,516.0 142.8,510.9 142.7,505.7 142.5,500.5 142.1,495.4 141.6,490.2 141.1,485.1 140.3,480.0" fill="#b88a68" fill-opacity="0.92" stroke="#f2dcc8" stroke-width="0.8"/>
<ellipse cx="137.4" cy="542.7" rx="4.3" ry="1.2" transform="rotate(98 137.2 542.7)" fill="#5e3a26" fill-opacity="0.45"/>
<ellipse cx="137.9" cy="533.9" rx="5.1" ry="1.0" transform="rotate(96 138.3 533.9)" fill="#5e3a26" fill-opacity="0.45"/>
<ellipse cx="140.2" cy="497.0" rx="5.1" ry="1.0" transform="rotate(90 140.4 497.0)" fill="#5e3a26" fill-opacity="0.45"/>
<ellipse cx="138.1" cy="539.0" rx="4.2" ry="1.1" transform="rotate(97 137.7 539.0)" fill="#5e3a26" fill-opacity="0.45"/>
<ellipse cx="139.5" cy="522.5" rx="5.2" ry="1.3" transform="rotate(94 139.4 522.5)" fill="#fff6e0" fill-opacity="0.5"/>
<ellipse cx="138.1" cy="532.9" rx="3.0" ry="1.0" transform="rotate(96 138.4 532.9)" fill="#fff6e0" fill-opacity="0.5"/>
<ellipse cx="137.5" cy="539.2" rx="4.5" ry="0.8" transform="rotate(97 137.7 539.2)" fill="#fff6e0" fill-opacity="0.5"/>
<polygon points="139.7,480.0 139.4,485.2 139.0,490.3 138.7,495.4 138.3,500.5 137.9,505.6 137.4,510.6 136.9,515.7 136.5,520.8 136.0,525.9 135.5,530.9 135.1,536.0 134.7,541.1 134.3,546.3 133.9,551.4 133.6,556.6 133.7,561.9 134.3,562.1 136.3,557.1 137.8,552.1 139.0,547.0 140.1,541.9 140.9,536.7 141.6,531.6 142.2,526.4 142.5,521.2 142.7,516.0 142.8,510.9 142.7,505.7 142.5,500.5 142.1,495.4 141.6,490.2 141.1,485.1 140.3,480.0" fill="url(#spk)"/></g>
<g><polygon points="143.1,479.7 143.3,485.3 143.5,490.8 143.7,496.2 143.9,501.5 144.0,506.7 144.2,511.8 144.3,516.8 144.5,521.8 144.6,526.6 144.8,531.3 145.0,535.9 145.3,540.5 145.6,545.0 145.9,549.4 146.4,553.7 147.2,558.0 147.8,558.0 149.1,553.8 149.8,549.5 150.4,545.0 150.7,540.5 150.9,535.9 151.0,531.1 150.8,526.3 150.5,521.4 150.1,516.5 149.5,511.4 148.8,506.3 148.0,501.1 147.1,495.9 146.1,490.5 145.0,485.1 143.7,479.7" fill="#b88a68" fill-opacity="0.92" stroke="#f2dcc8" stroke-width="0.8"/>
<ellipse cx="145.3" cy="496.8" rx="4.9" ry="1.3" transform="rotate(84 145.5 496.8)" fill="#5e3a26" fill-opacity="0.45"/>
<ellipse cx="147.8" cy="534.6" rx="4.3" ry="1.2" transform="rotate(89 148.0 534.6)" fill="#5e3a26" fill-opacity="0.45"/>
<ellipse cx="147.2" cy="522.3" rx="5.6" ry="1.0" transform="rotate(87 147.5 522.3)" fill="#5e3a26" fill-opacity="0.45"/>
<ellipse cx="148.2" cy="551.4" rx="2.6" ry="1.2" transform="rotate(92 147.8 551.4)" fill="#5e3a26" fill-opacity="0.45"/>
<ellipse cx="148.4" cy="542.8" rx="4.1" ry="1.0" transform="rotate(90 148.0 542.8)" fill="#fff6e0" fill-opacity="0.5"/>
<ellipse cx="146.8" cy="506.5" rx="3.2" ry="1.3" transform="rotate(85 146.4 506.5)" fill="#fff6e0" fill-opacity="0.5"/>
<ellipse cx="146.1" cy="502.1" rx="5.8" ry="0.9" transform="rotate(84 146.0 502.1)" fill="#fff6e0" fill-opacity="0.5"/>
<polygon points="143.1,479.7 143.3,485.3 143.5,490.8 143.7,496.2 143.9,501.5 144.0,506.7 144.2,511.8 144.3,516.8 144.5,521.8 144.6,526.6 144.8,531.3 145.0,535.9 145.3,540.5 145.6,545.0 145.9,549.4 146.4,553.7 147.2,558.0 147.8,558.0 149.1,553.8 149.8,549.5 150.4,545.0 150.7,540.5 150.9,535.9 151.0,531.1 150.8,526.3 150.5,521.4 150.1,516.5 149.5,511.4 148.8,506.3 148.0,501.1 147.1,495.9 146.1,490.5 145.0,485.1 143.7,479.7" fill="url(#spk)"/></g>
<g><polygon points="145.8,482.5 146.4,487.5 147.0,492.5 147.6,497.4 148.1,502.4 148.6,507.3 149.1,512.2 149.5,517.1 149.9,521.9 150.3,526.8 150.7,531.6 151.1,536.4 151.5,541.3 152.0,546.1 152.5,550.9 153.0,555.8 153.9,560.7 154.5,560.7 155.7,555.8 156.3,550.9 156.7,546.0 157.0,541.1 157.0,536.1 156.8,531.2 156.5,526.2 155.9,521.3 155.2,516.4 154.4,511.4 153.4,506.5 152.2,501.7 151.0,496.8 149.6,491.9 148.1,487.1 146.4,482.3" fill="#b88a68" fill-opacity="0.92" stroke="#f2dcc8" stroke-width="0.8"/>
<ellipse cx="154.3" cy="543.6" rx="5.6" ry="1.4" transform="rotate(89 154.3 543.6)" fill="#5e3a26" fill-opacity="0.45"/>
<ellipse cx="151.5" cy="508.1" rx="4.2" ry="0.9" transform="rotate(81 151.2 508.1)" fill="#5e3a26" fill-opacity="0.45"/>
<ellipse cx="148.8" cy="494.4" rx="4.1" ry="1.1" transform="rotate(79 148.8 494.4)" fill="#5e3a26" fill-opacity="0.45"/>
<ellipse cx="150.2" cy="502.7" rx="3.6" ry="1.5" transform="rotate(80 150.3 502.7)" fill="#5e3a26" fill-opacity="0.45"/>
<ellipse cx="148.9" cy="494.3" rx="5.4" ry="0.9" transform="rotate(79 148.7 494.3)" fill="#fff6e0" fill-opacity="0.5"/>
<ellipse cx="154.6" cy="550.0" rx="5.7" ry="1.1" transform="rotate(90 154.4 550.0)" fill="#fff6e0" fill-opacity="0.5"/>
<ellipse cx="152.3" cy="516.6" rx="6.0" ry="1.3" transform="rotate(83 152.3 516.6)" fill="#fff6e0" fill-opacity="0.5"/>
<polygon points="145.8,482.5 146.4,487.5 147.0,492.5 147.6,497.4 148.1,502.4 148.6,507.3 149.1,512.2 149.5,517.1 149.9,521.9 150.3,526.8 150.7,531.6 151.1,536.4 151.5,541.3 152.0,546.1 152.5,550.9 153.0,555.8 153.9,560.7 154.5,560.7 155.7,555.8 156.3,550.9 156.7,546.0 157.0,541.1 157.0,536.1 156.8,531.2 156.5,526.2 155.9,521.3 155.2,516.4 154.4,511.4 153.4,506.5 152.2,501.7 151.0,496.8 149.6,491.9 148.1,487.1 146.4,482.3" fill="url(#spk)"/></g>
<rect x="3" y="445.5" width="167.5" height="125.5" fill="none" stroke="#3a3a3a" stroke-width="1.6"/>
<text x="86.3" y="438.8" font-size="9" text-anchor="middle" fill="#111">OP50</text>
<line x1="156.7" y1="565.3" x2="163.7" y2="565.3" stroke="#222" stroke-width="1.5"/>
<rect x="180.5" y="445.5" width="167.0" height="125.5" fill="#fff"/>
<g><polygon points="196.6,506.7 195.7,510.6 194.8,514.5 193.9,518.3 193.0,522.1 192.1,525.9 191.1,529.7 190.2,533.5 189.3,537.2 188.4,540.9 187.6,544.7 186.8,548.4 186.0,552.2 185.3,555.9 184.6,559.7 184.0,563.5 183.7,567.4 184.3,567.6 186.4,564.2 188.1,560.7 189.6,557.1 190.9,553.5 192.1,549.8 193.2,546.0 194.1,542.2 194.9,538.4 195.5,534.5 196.1,530.6 196.5,526.7 196.9,522.7 197.1,518.8 197.2,514.8 197.3,510.8 197.2,506.7" fill="#a06a50" fill-opacity="0.92" stroke="#f0dccc" stroke-width="0.8"/>
<ellipse cx="192.9" cy="533.4" rx="3.5" ry="0.8" transform="rotate(101 193.0 533.4)" fill="#552a1c" fill-opacity="0.45"/>
<ellipse cx="195.4" cy="521.1" rx="3.5" ry="1.4" transform="rotate(98 195.1 521.1)" fill="#552a1c" fill-opacity="0.45"/>
<ellipse cx="193.8" cy="528.1" rx="4.3" ry="0.9" transform="rotate(100 194.0 528.1)" fill="#552a1c" fill-opacity="0.45"/>
<ellipse cx="193.2" cy="534.0" rx="5.6" ry="1.3" transform="rotate(101 192.9 534.0)" fill="#552a1c" fill-opacity="0.45"/>
<ellipse cx="190.5" cy="546.0" rx="5.8" ry="1.2" transform="rotate(104 190.2 546.0)" fill="#fff6e0" fill-opacity="0.5"/>
<ellipse cx="188.8" cy="550.1" rx="5.1" ry="1.1" transform="rotate(105 189.2 550.1)" fill="#fff6e0" fill-opacity="0.5"/>
<ellipse cx="188.9" cy="551.6" rx="3.5" ry="0.8" transform="rotate(105 188.8 551.6)" fill="#fff6e0" fill-opacity="0.5"/>
<polygon points="196.6,506.7 195.7,510.6 194.8,514.5 193.9,518.3 193.0,522.1 192.1,525.9 191.1,529.7 190.2,533.5 189.3,537.2 188.4,540.9 187.6,544.7 186.8,548.4 186.0,552.2 185.3,555.9 184.6,559.7 184.0,563.5 183.7,567.4 184.3,567.6 186.4,564.2 188.1,560.7 189.6,557.1 190.9,553.5 192.1,549.8 193.2,546.0 194.1,542.2 194.9,538.4 195.5,534.5 196.1,530.6 196.5,526.7 196.9,522.7 197.1,518.8 197.2,514.8 197.3,510.8 197.2,506.7" fill="url(#spk)"/></g>
<g><polygon points="208.7,486.5 208.0,491.7 207.4,496.8 206.7,501.9 205.9,506.9 205.2,511.9 204.4,516.8 203.6,521.7 202.8,526.6 202.0,531.4 201.2,536.2 200.4,541.0 199.6,545.7 198.9,550.4 198.2,555.2 197.6,559.9 197.2,564.7 197.8,564.9 200.0,560.5 201.7,556.0 203.3,551.4 204.6,546.8 205.8,542.0 206.8,537.2 207.7,532.3 208.4,527.4 209.0,522.4 209.4,517.4 209.7,512.4 209.8,507.3 209.9,502.1 209.8,496.9 209.6,491.7 209.3,486.5" fill="#a06a50" fill-opacity="0.92" stroke="#f0dccc" stroke-width="0.8"/>
<ellipse cx="199.9" cy="554.8" rx="4.2" ry="1.0" transform="rotate(104 200.2 554.8)" fill="#552a1c" fill-opacity="0.45"/>
<ellipse cx="207.0" cy="517.5" rx="5.9" ry="1.0" transform="rotate(97 206.9 517.5)" fill="#552a1c" fill-opacity="0.45"/>
<ellipse cx="203.4" cy="539.0" rx="4.5" ry="1.0" transform="rotate(101 203.6 539.0)" fill="#552a1c" fill-opacity="0.45"/>
<ellipse cx="207.4" cy="509.4" rx="3.2" ry="1.4" transform="rotate(95 207.7 509.4)" fill="#552a1c" fill-opacity="0.45"/>
<ellipse cx="205.0" cy="529.6" rx="5.7" ry="1.5" transform="rotate(99 205.2 529.6)" fill="#fff6e0" fill-opacity="0.5"/>
<ellipse cx="205.4" cy="526.7" rx="3.2" ry="0.8" transform="rotate(98 205.6 526.7)" fill="#fff6e0" fill-opacity="0.5"/>
<ellipse cx="206.2" cy="520.2" rx="3.3" ry="1.0" transform="rotate(97 206.5 520.2)" fill="#fff6e0" fill-opacity="0.5"/>
<polygon points="208.7,486.5 208.0,491.7 207.4,496.8 206.7,501.9 205.9,506.9 205.2,511.9 204.4,516.8 203.6,521.7 202.8,526.6 202.0,531.4 201.2,536.2 200.4,541.0 199.6,545.7 198.9,550.4 198.2,555.2 197.6,559.9 197.2,564.7 197.8,564.9 200.0,560.5 201.7,556.0 203.3,551.4 204.6,546.8 205.8,542.0 206.8,537.2 207.7,532.3 208.4,527.4 209.0,522.4 209.4,517.4 209.7,512.4 209.8,507.3 209.9,502.1 209.8,496.9 209.6,491.7 209.3,486.5" fill="url(#spk)"/></g>
<g><polygon points="212.1,473.0 210.9,478.2 210.1,483.4 209.5,488.6 209.2,493.8 209.2,499.0 209.5,504.1 210.1,509.1 210.9,514.1 212.1,519.1 213.6,523.9 215.5,528.7 217.6,533.3 220.1,537.8 222.9,542.1 226.0,546.3 229.6,550.2 230.2,549.8 228.1,545.0 226.0,540.4 224.1,535.8 222.3,531.2 220.6,526.7 219.1,522.1 217.7,517.5 216.5,512.9 215.4,508.2 214.5,503.4 213.7,498.6 213.1,493.7 212.8,488.7 212.6,483.6 212.6,478.4 212.7,473.0" fill="#a06a50" fill-opacity="0.92" stroke="#f0dccc" stroke-width="0.8"/>
<ellipse cx="215.8" cy="520.3" rx="5.1" ry="1.1" transform="rotate(73 215.5 520.3)" fill="#552a1c" fill-opacity="0.45"/>
<ellipse cx="213.2" cy="511.1" rx="3.8" ry="1.0" transform="rotate(79 213.2 511.1)" fill="#552a1c" fill-opacity="0.45"/>
<ellipse cx="211.0" cy="489.5" rx="5.9" ry="0.9" transform="rotate(90 211.1 489.5)" fill="#552a1c" fill-opacity="0.45"/>
<ellipse cx="214.5" cy="516.4" rx="5.5" ry="0.9" transform="rotate(76 214.4 516.4)" fill="#552a1c" fill-opacity="0.45"/>
<ellipse cx="211.6" cy="502.5" rx="3.9" ry="1.1" transform="rotate(83 211.8 502.5)" fill="#fff6e0" fill-opacity="0.5"/>
<ellipse cx="225.1" cy="541.9" rx="5.6" ry="0.8" transform="rotate(60 224.8 541.9)" fill="#fff6e0" fill-opacity="0.5"/>
<ellipse cx="211.3" cy="487.6" rx="5.6" ry="1.1" transform="rotate(91 211.2 487.6)" fill="#fff6e0" fill-opacity="0.5"/>
<polygon points="212.1,473.0 210.9,478.2 210.1,483.4 209.5,488.6 209.2,493.8 209.2,499.0 209.5,504.1 210.1,509.1 210.9,514.1 212.1,519.1 213.6,523.9 215.5,528.7 217.6,533.3 220.1,537.8 222.9,542.1 226.0,546.3 229.6,550.2 230.2,549.8 228.1,545.0 226.0,540.4 224.1,535.8 222.3,531.2 220.6,526.7 219.1,522.1 217.7,517.5 216.5,512.9 215.4,508.2 214.5,503.4 213.7,498.6 213.1,493.7 212.8,488.7 212.6,483.6 212.6,478.4 212.7,473.0" fill="url(#spk)"/></g>
<g><polygon points="231.0,464.8 228.8,468.8 226.8,473.0 225.1,477.3 223.7,481.7 222.4,486.1 221.5,490.6 220.8,495.2 220.4,499.9 220.2,504.6 220.4,509.4 220.9,514.1 221.7,518.9 222.8,523.7 224.2,528.5 226.0,533.3 228.3,537.9 228.9,537.7 228.4,532.6 227.8,527.7 227.2,522.9 226.7,518.2 226.4,513.6 226.2,509.0 226.0,504.6 226.0,500.1 226.2,495.7 226.5,491.3 226.9,486.9 227.5,482.6 228.2,478.2 229.2,473.8 230.3,469.4 231.6,465.0" fill="#a06a50" fill-opacity="0.92" stroke="#f0dccc" stroke-width="0.8"/>
<ellipse cx="222.8" cy="507.5" rx="3.9" ry="1.4" transform="rotate(88 223.2 507.5)" fill="#552a1c" fill-opacity="0.45"/>
<ellipse cx="224.9" cy="521.3" rx="5.9" ry="0.9" transform="rotate(80 224.6 521.3)" fill="#552a1c" fill-opacity="0.45"/>
<ellipse cx="225.6" cy="481.0" rx="4.3" ry="1.2" transform="rotate(104 225.8 481.0)" fill="#552a1c" fill-opacity="0.45"/>
<ellipse cx="226.2" cy="528.1" rx="4.8" ry="1.3" transform="rotate(77 226.0 528.1)" fill="#552a1c" fill-opacity="0.45"/>
<ellipse cx="223.2" cy="500.2" rx="2.6" ry="1.3" transform="rotate(92 223.2 500.2)" fill="#fff6e0" fill-opacity="0.5"/>
<ellipse cx="224.8" cy="487.7" rx="4.8" ry="1.0" transform="rotate(100 224.5 487.7)" fill="#fff6e0" fill-opacity="0.5"/>
<ellipse cx="225.4" cy="482.0" rx="4.7" ry="1.3" transform="rotate(103 225.6 482.0)" fill="#fff6e0" fill-opacity="0.5"/>
<polygon points="231.0,464.8 228.8,468.8 226.8,473.0 225.1,477.3 223.7,481.7 222.4,486.1 221.5,490.6 220.8,495.2 220.4,499.9 220.2,504.6 220.4,509.4 220.9,514.1 221.7,518.9 222.8,523.7 224.2,528.5 226.0,533.3 228.3,537.9 228.9,537.7 228.4,532.6 227.8,527.7 227.2,522.9 226.7,518.2 226.4,513.6 226.2,509.0 226.0,504.6 226.0,500.1 226.2,495.7 226.5,491.3 226.9,486.9 227.5,482.6 228.2,478.2 229.2,473.8 230.3,469.4 231.6,465.0" fill="url(#spk)"/></g>
<g><polygon points="231.7,484.0 230.6,487.7 229.7,491.5 228.9,495.2 228.3,498.9 227.8,502.6 227.4,506.3 227.2,510.0 227.2,513.6 227.3,517.2 227.6,520.7 228.1,524.2 228.7,527.7 229.6,531.1 230.7,534.4 231.9,537.6 233.7,540.6 234.3,540.4 234.4,537.0 234.2,533.6 234.0,530.3 233.8,526.9 233.5,523.6 233.3,520.2 233.1,516.8 232.8,513.4 232.6,509.9 232.5,506.4 232.3,502.8 232.2,499.2 232.2,495.5 232.2,491.8 232.2,487.9 232.3,484.0" fill="#a06a50" fill-opacity="0.92" stroke="#f0dccc" stroke-width="0.8"/>
<ellipse cx="230.0" cy="498.3" rx="4.3" ry="1.2" transform="rotate(94 230.3 498.3)" fill="#552a1c" fill-opacity="0.45"/>
<ellipse cx="229.7" cy="510.6" rx="4.6" ry="0.8" transform="rotate(89 229.9 510.6)" fill="#552a1c" fill-opacity="0.45"/>
<ellipse cx="229.9" cy="506.8" rx="5.9" ry="1.2" transform="rotate(91 229.9 506.8)" fill="#552a1c" fill-opacity="0.45"/>
<ellipse cx="232.0" cy="531.6" rx="3.3" ry="0.9" transform="rotate(79 232.0 531.6)" fill="#552a1c" fill-opacity="0.45"/>
<ellipse cx="232.8" cy="534.8" rx="3.6" ry="0.8" transform="rotate(78 232.6 534.8)" fill="#fff6e0" fill-opacity="0.5"/>
<ellipse cx="230.2" cy="515.4" rx="4.0" ry="1.0" transform="rotate(87 230.1 515.4)" fill="#fff6e0" fill-opacity="0.5"/>
<ellipse cx="231.0" cy="522.6" rx="3.3" ry="0.8" transform="rotate(84 230.6 522.6)" fill="#fff6e0" fill-opacity="0.5"/>
<polygon points="231.7,484.0 230.6,487.7 229.7,491.5 228.9,495.2 228.3,498.9 227.8,502.6 227.4,506.3 227.2,510.0 227.2,513.6 227.3,517.2 227.6,520.7 228.1,524.2 228.7,527.7 229.6,531.1 230.7,534.4 231.9,537.6 233.7,540.6 234.3,540.4 234.4,537.0 234.2,533.6 234.0,530.3 233.8,526.9 233.5,523.6 233.3,520.2 233.1,516.8 232.8,513.4 232.6,509.9 232.5,506.4 232.3,502.8 232.2,499.2 232.2,495.5 232.2,491.8 232.2,487.9 232.3,484.0" fill="url(#spk)"/></g>
<g><polygon points="251.9,456.7 249.0,461.8 246.3,467.0 243.8,472.2 241.6,477.6 239.6,483.0 237.9,488.4 236.4,493.9 235.2,499.5 234.3,505.1 233.6,510.8 233.2,516.5 233.2,522.2 233.4,527.9 234.0,533.7 234.9,539.4 236.4,545.0 237.0,545.0 237.4,539.2 237.6,533.5 237.9,527.9 238.3,522.3 238.8,516.8 239.3,511.4 240.0,505.9 240.8,500.5 241.7,495.1 242.8,489.6 244.0,484.2 245.4,478.8 246.9,473.3 248.6,467.9 250.5,462.4 252.5,456.9" fill="#a06a50" fill-opacity="0.92" stroke="#f0dccc" stroke-width="0.8"/>
<ellipse cx="239.5" cy="492.1" rx="4.9" ry="0.9" transform="rotate(103 239.6 492.1)" fill="#552a1c" fill-opacity="0.45"/>
<ellipse cx="235.9" cy="523.5" rx="4.3" ry="0.9" transform="rotate(91 235.7 523.5)" fill="#552a1c" fill-opacity="0.45"/>
<ellipse cx="235.8" cy="535.6" rx="5.4" ry="0.9" transform="rotate(87 235.9 535.6)" fill="#552a1c" fill-opacity="0.45"/>
<ellipse cx="241.8" cy="484.3" rx="3.5" ry="1.4" transform="rotate(106 241.6 484.3)" fill="#552a1c" fill-opacity="0.45"/>
<ellipse cx="237.3" cy="502.8" rx="3.3" ry="1.1" transform="rotate(99 237.5 502.8)" fill="#fff6e0" fill-opacity="0.5"/>
<ellipse cx="236.5" cy="514.4" rx="3.0" ry="1.0" transform="rotate(95 236.2 514.4)" fill="#fff6e0" fill-opacity="0.5"/>
<ellipse cx="242.1" cy="483.7" rx="3.0" ry="0.8" transform="rotate(106 241.8 483.7)" fill="#fff6e0" fill-opacity="0.5"/>
<polygon points="251.9,456.7 249.0,461.8 246.3,467.0 243.8,472.2 241.6,477.6 239.6,483.0 237.9,488.4 236.4,493.9 235.2,499.5 234.3,505.1 233.6,510.8 233.2,516.5 233.2,522.2 233.4,527.9 234.0,533.7 234.9,539.4 236.4,545.0 237.0,545.0 237.4,539.2 237.6,533.5 237.9,527.9 238.3,522.3 238.8,516.8 239.3,511.4 240.0,505.9 240.8,500.5 241.7,495.1 242.8,489.6 244.0,484.2 245.4,478.8 246.9,473.3 248.6,467.9 250.5,462.4 252.5,456.9" fill="url(#spk)"/></g>
<g><polygon points="252.6,459.6 253.5,463.5 254.2,467.6 254.7,472.1 255.0,476.9 255.0,482.1 254.9,487.6 254.6,493.5 254.1,499.8 253.4,506.5 252.5,513.5 251.5,521.0 250.4,528.9 249.0,537.2 247.6,545.9 246.0,555.1 244.5,564.7 245.1,564.9 248.4,555.7 251.1,546.7 253.4,538.1 255.4,529.8 257.0,521.9 258.2,514.3 259.1,507.1 259.7,500.2 260.0,493.7 259.9,487.6 259.5,481.9 258.9,476.5 257.9,471.6 256.6,467.1 255.1,463.0 253.2,459.4" fill="#a06a50" fill-opacity="0.92" stroke="#f0dccc" stroke-width="0.8"/>
<ellipse cx="256.3" cy="472.5" rx="5.6" ry="1.4" transform="rotate(81 256.4 472.5)" fill="#552a1c" fill-opacity="0.45"/>
<ellipse cx="254.1" cy="524.8" rx="5.8" ry="1.0" transform="rotate(100 253.7 524.8)" fill="#552a1c" fill-opacity="0.45"/>
<ellipse cx="257.5" cy="480.3" rx="5.1" ry="0.8" transform="rotate(86 257.2 480.3)" fill="#552a1c" fill-opacity="0.45"/>
<ellipse cx="254.7" cy="518.3" rx="3.8" ry="1.0" transform="rotate(99 254.7 518.3)" fill="#552a1c" fill-opacity="0.45"/>
<ellipse cx="256.7" cy="479.2" rx="3.5" ry="1.0" transform="rotate(86 257.1 479.2)" fill="#fff6e0" fill-opacity="0.5"/>
<ellipse cx="248.7" cy="547.9" rx="5.9" ry="0.9" transform="rotate(103 249.0 547.9)" fill="#fff6e0" fill-opacity="0.5"/>
<ellipse cx="257.6" cy="492.3" rx="5.4" ry="1.1" transform="rotate(92 257.3 492.3)" fill="#fff6e0" fill-opacity="0.5"/>
<polygon points="252.6,459.6 253.5,463.5 254.2,467.6 254.7,472.1 255.0,476.9 255.0,482.1 254.9,487.6 254.6,493.5 254.1,499.8 253.4,506.5 252.5,513.5 251.5,521.0 250.4,528.9 249.0,537.2 247.6,545.9 246.0,555.1 244.5,564.7 245.1,564.9 248.4,555.7 251.1,546.7 253.4,538.1 255.4,529.8 257.0,521.9 258.2,514.3 259.1,507.1 259.7,500.2 260.0,493.7 259.9,487.6 259.5,481.9 258.9,476.5 257.9,471.6 256.6,467.1 255.1,463.0 253.2,459.4" fill="url(#spk)"/></g>
<g><polygon points="249.9,490.4 248.6,494.3 247.3,498.1 246.1,501.9 244.9,505.5 243.7,509.1 242.6,512.7 241.6,516.1 240.6,519.5 239.7,522.9 238.9,526.1 238.2,529.4 237.6,532.5 237.0,535.7 236.6,538.8 236.3,541.8 236.4,544.9 237.0,545.1 238.7,542.5 240.1,539.8 241.4,536.9 242.5,533.9 243.5,530.8 244.5,527.6 245.4,524.3 246.2,520.9 246.9,517.4 247.5,513.8 248.1,510.2 248.7,506.4 249.2,502.6 249.7,498.7 250.1,494.7 250.5,490.6" fill="#a06a50" fill-opacity="0.92" stroke="#f0dccc" stroke-width="0.8"/>
<ellipse cx="247.6" cy="502.2" rx="3.8" ry="1.4" transform="rotate(103 247.6 502.2)" fill="#552a1c" fill-opacity="0.45"/>
<ellipse cx="246.0" cy="508.8" rx="5.6" ry="0.8" transform="rotate(103 246.1 508.8)" fill="#552a1c" fill-opacity="0.45"/>
<ellipse cx="244.1" cy="518.4" rx="5.2" ry="0.8" transform="rotate(104 243.9 518.4)" fill="#552a1c" fill-opacity="0.45"/>
<ellipse cx="247.4" cy="501.6" rx="5.7" ry="1.0" transform="rotate(103 247.8 501.6)" fill="#552a1c" fill-opacity="0.45"/>
<ellipse cx="240.7" cy="532.0" rx="3.7" ry="1.0" transform="rotate(105 240.4 532.0)" fill="#fff6e0" fill-opacity="0.5"/>
<ellipse cx="238.3" cy="539.8" rx="3.4" ry="1.3" transform="rotate(106 238.2 539.8)" fill="#fff6e0" fill-opacity="0.5"/>
<ellipse cx="244.7" cy="514.3" rx="2.5" ry="1.3" transform="rotate(103 244.8 514.3)" fill="#fff6e0" fill-opacity="0.5"/>
<polygon points="249.9,490.4 248.6,494.3 247.3,498.1 246.1,501.9 244.9,505.5 243.7,509.1 242.6,512.7 241.6,516.1 240.6,519.5 239.7,522.9 238.9,526.1 238.2,529.4 237.6,532.5 237.0,535.7 236.6,538.8 236.3,541.8 236.4,544.9 237.0,545.1 238.7,542.5 240.1,539.8 241.4,536.9 242.5,533.9 243.5,530.8 244.5,527.6 245.4,524.3 246.2,520.9 246.9,517.4 247.5,513.8 248.1,510.2 248.7,506.4 249.2,502.6 249.7,498.7 250.1,494.7 250.5,490.6" fill="url(#spk)"/></g>
<g><polygon points="260.7,480.0 260.1,485.0 259.6,490.0 259.0,494.9 258.3,499.9 257.6,504.8 256.8,509.7 256.0,514.6 255.2,519.6 254.3,524.5 253.5,529.5 252.6,534.4 251.8,539.4 250.9,544.5 250.1,549.5 249.2,554.7 248.7,559.9 249.3,560.1 251.7,555.3 253.6,550.5 255.3,545.5 256.7,540.6 258.0,535.6 259.1,530.5 260.1,525.5 260.8,520.4 261.4,515.4 261.8,510.3 262.1,505.2 262.2,500.1 262.2,495.1 262.0,490.0 261.8,485.0 261.3,480.0" fill="#a06a50" fill-opacity="0.92" stroke="#f0dccc" stroke-width="0.8"/>
<ellipse cx="252.3" cy="548.5" rx="5.8" ry="0.8" transform="rotate(104 252.2 548.5)" fill="#552a1c" fill-opacity="0.45"/>
<ellipse cx="259.7" cy="506.4" rx="5.8" ry="1.4" transform="rotate(96 259.7 506.4)" fill="#552a1c" fill-opacity="0.45"/>
<ellipse cx="258.4" cy="515.8" rx="4.0" ry="1.1" transform="rotate(98 258.6 515.8)" fill="#552a1c" fill-opacity="0.45"/>
<ellipse cx="251.8" cy="549.2" rx="5.3" ry="1.3" transform="rotate(105 252.0 549.2)" fill="#552a1c" fill-opacity="0.45"/>
<ellipse cx="253.8" cy="542.7" rx="4.6" ry="1.0" transform="rotate(103 253.6 542.7)" fill="#fff6e0" fill-opacity="0.5"/>
<ellipse cx="259.0" cy="511.7" rx="5.2" ry="0.8" transform="rotate(97 259.1 511.7)" fill="#fff6e0" fill-opacity="0.5"/>
<ellipse cx="260.1" cy="504.2" rx="3.4" ry="0.8" transform="rotate(95 259.9 504.2)" fill="#fff6e0" fill-opacity="0.5"/>
<polygon points="260.7,480.0 260.1,485.0 259.6,490.0 259.0,494.9 258.3,499.9 257.6,504.8 256.8,509.7 256.0,514.6 255.2,519.6 254.3,524.5 253.5,529.5 252.6,534.4 251.8,539.4 250.9,544.5 250.1,549.5 249.2,554.7 248.7,559.9 249.3,560.1 251.7,555.3 253.6,550.5 255.3,545.5 256.7,540.6 258.0,535.6 259.1,530.5 260.1,525.5 260.8,520.4 261.4,515.4 261.8,510.3 262.1,505.2 262.2,500.1 262.2,495.1 262.0,490.0 261.8,485.0 261.3,480.0" fill="url(#spk)"/></g>
<g><polygon points="265.7,519.9 264.0,523.1 262.4,526.2 260.9,529.3 259.3,532.3 257.8,535.2 256.3,538.1 254.8,541.0 253.4,543.8 252.1,546.6 250.8,549.4 249.5,552.1 248.4,554.8 247.3,557.5 246.3,560.2 245.3,563.0 244.7,565.8 245.3,566.2 247.5,564.2 249.4,562.0 251.2,559.7 252.9,557.2 254.5,554.6 255.9,551.9 257.3,549.1 258.6,546.2 259.8,543.2 260.9,540.1 262.0,537.0 262.9,533.7 263.9,530.4 264.7,527.1 265.6,523.6 266.3,520.1" fill="#a06a50" fill-opacity="0.92" stroke="#f0dccc" stroke-width="0.8"/>
<ellipse cx="262.6" cy="529.3" rx="3.6" ry="1.4" transform="rotate(111 262.6 529.3)" fill="#552a1c" fill-opacity="0.45"/>
<ellipse cx="249.2" cy="559.3" rx="3.4" ry="0.8" transform="rotate(119 248.8 559.3)" fill="#552a1c" fill-opacity="0.45"/>
<ellipse cx="261.6" cy="531.7" rx="5.0" ry="1.1" transform="rotate(112 261.6 531.7)" fill="#552a1c" fill-opacity="0.45"/>
<ellipse cx="259.4" cy="537.0" rx="4.7" ry="1.2" transform="rotate(113 259.5 537.0)" fill="#552a1c" fill-opacity="0.45"/>
<ellipse cx="251.4" cy="555.0" rx="4.8" ry="0.9" transform="rotate(117 251.2 555.0)" fill="#fff6e0" fill-opacity="0.5"/>
<ellipse cx="249.4" cy="558.0" rx="4.5" ry="1.0" transform="rotate(118 249.6 558.0)" fill="#fff6e0" fill-opacity="0.5"/>
<ellipse cx="251.1" cy="554.7" rx="3.4" ry="0.9" transform="rotate(117 251.3 554.7)" fill="#fff6e0" fill-opacity="0.5"/>
<polygon points="265.7,519.9 264.0,523.1 262.4,526.2 260.9,529.3 259.3,532.3 257.8,535.2 256.3,538.1 254.8,541.0 253.4,543.8 252.1,546.6 250.8,549.4 249.5,552.1 248.4,554.8 247.3,557.5 246.3,560.2 245.3,563.0 244.7,565.8 245.3,566.2 247.5,564.2 249.4,562.0 251.2,559.7 252.9,557.2 254.5,554.6 255.9,551.9 257.3,549.1 258.6,546.2 259.8,543.2 260.9,540.1 262.0,537.0 262.9,533.7 263.9,530.4 264.7,527.1 265.6,523.6 266.3,520.1" fill="url(#spk)"/></g>
<g><polygon points="265.1,473.0 265.2,477.3 265.3,481.6 265.3,485.8 265.2,490.0 265.0,494.2 264.7,498.3 264.4,502.4 264.0,506.6 263.5,510.7 263.0,514.9 262.5,519.0 261.9,523.2 261.3,527.4 260.7,531.7 260.1,536.0 259.7,540.5 260.3,540.7 262.5,536.7 264.2,532.6 265.7,528.4 266.9,524.2 267.9,519.9 268.7,515.6 269.3,511.3 269.6,507.0 269.8,502.7 269.7,498.4 269.5,494.1 269.1,489.8 268.5,485.6 267.7,481.3 266.8,477.1 265.7,473.0" fill="#a06a50" fill-opacity="0.92" stroke="#f0dccc" stroke-width="0.8"/>
<ellipse cx="267.5" cy="491.1" rx="4.5" ry="1.0" transform="rotate(88 267.2 491.1)" fill="#552a1c" fill-opacity="0.45"/>
<ellipse cx="267.4" cy="503.8" rx="4.3" ry="0.9" transform="rotate(93 267.0 503.8)" fill="#552a1c" fill-opacity="0.45"/>
<ellipse cx="264.2" cy="525.2" rx="6.0" ry="0.8" transform="rotate(102 264.1 525.2)" fill="#552a1c" fill-opacity="0.45"/>
<ellipse cx="267.0" cy="507.9" rx="5.4" ry="1.4" transform="rotate(95 266.7 507.9)" fill="#552a1c" fill-opacity="0.45"/>
<ellipse cx="266.7" cy="485.2" rx="2.9" ry="0.9" transform="rotate(86 266.9 485.2)" fill="#fff6e0" fill-opacity="0.5"/>
<ellipse cx="262.1" cy="533.8" rx="5.8" ry="1.0" transform="rotate(105 262.0 533.8)" fill="#fff6e0" fill-opacity="0.5"/>
<ellipse cx="263.4" cy="528.2" rx="3.4" ry="1.3" transform="rotate(103 263.4 528.2)" fill="#fff6e0" fill-opacity="0.5"/>
<polygon points="265.1,473.0 265.2,477.3 265.3,481.6 265.3,485.8 265.2,490.0 265.0,494.2 264.7,498.3 264.4,502.4 264.0,506.6 263.5,510.7 263.0,514.9 262.5,519.0 261.9,523.2 261.3,527.4 260.7,531.7 260.1,536.0 259.7,540.5 260.3,540.7 262.5,536.7 264.2,532.6 265.7,528.4 266.9,524.2 267.9,519.9 268.7,515.6 269.3,511.3 269.6,507.0 269.8,502.7 269.7,498.4 269.5,494.1 269.1,489.8 268.5,485.6 267.7,481.3 266.8,477.1 265.7,473.0" fill="url(#spk)"/></g>
<g><polygon points="267.8,481.1 268.3,483.7 268.6,486.4 268.8,489.2 268.8,492.3 268.8,495.5 268.6,499.0 268.3,502.7 268.0,506.6 267.5,510.7 266.9,515.1 266.3,519.8 265.6,524.7 264.8,529.9 264.0,535.4 263.1,541.1 262.4,547.2 263.0,547.4 265.5,541.8 267.5,536.2 269.2,530.9 270.6,525.7 271.7,520.7 272.6,516.0 273.3,511.4 273.6,507.0 273.8,502.9 273.7,499.0 273.3,495.3 272.8,491.9 272.0,488.7 271.0,485.8 269.8,483.2 268.4,480.9" fill="#a06a50" fill-opacity="0.92" stroke="#f0dccc" stroke-width="0.8"/>
<ellipse cx="265.4" cy="536.1" rx="4.6" ry="1.2" transform="rotate(104 265.7 536.1)" fill="#552a1c" fill-opacity="0.45"/>
<ellipse cx="271.0" cy="495.7" rx="3.0" ry="0.9" transform="rotate(87 271.1 495.7)" fill="#552a1c" fill-opacity="0.45"/>
<ellipse cx="271.2" cy="497.3" rx="4.8" ry="0.9" transform="rotate(89 271.1 497.3)" fill="#552a1c" fill-opacity="0.45"/>
<ellipse cx="270.0" cy="487.6" rx="4.9" ry="0.9" transform="rotate(79 270.1 487.6)" fill="#552a1c" fill-opacity="0.45"/>
<ellipse cx="270.9" cy="499.9" rx="5.3" ry="1.2" transform="rotate(91 271.1 499.9)" fill="#fff6e0" fill-opacity="0.5"/>
<ellipse cx="270.2" cy="489.5" rx="3.9" ry="1.2" transform="rotate(81 270.5 489.5)" fill="#fff6e0" fill-opacity="0.5"/>
<ellipse cx="269.3" cy="516.8" rx="3.1" ry="1.3" transform="rotate(99 269.6 516.8)" fill="#fff6e0" fill-opacity="0.5"/>
<polygon points="267.8,481.1 268.3,483.7 268.6,486.4 268.8,489.2 268.8,492.3 268.8,495.5 268.6,499.0 268.3,502.7 268.0,506.6 267.5,510.7 266.9,515.1 266.3,519.8 265.6,524.7 264.8,529.9 264.0,535.4 263.1,541.1 262.4,547.2 263.0,547.4 265.5,541.8 267.5,536.2 269.2,530.9 270.6,525.7 271.7,520.7 272.6,516.0 273.3,511.4 273.6,507.0 273.8,502.9 273.7,499.0 273.3,495.3 272.8,491.9 272.0,488.7 271.0,485.8 269.8,483.2 268.4,480.9" fill="url(#spk)"/></g>
<g><polygon points="275.9,485.2 275.8,488.5 275.7,491.7 275.5,495.1 275.3,498.5 274.9,502.0 274.4,505.6 273.9,509.3 273.4,513.1 272.8,517.1 272.1,521.1 271.4,525.3 270.7,529.7 269.9,534.1 269.1,538.8 268.3,543.6 267.8,548.6 268.4,548.8 270.8,544.3 272.6,539.7 274.3,535.2 275.6,530.8 276.8,526.4 277.8,522.2 278.5,518.0 279.0,513.9 279.3,509.9 279.5,505.9 279.4,502.2 279.2,498.5 278.8,494.9 278.2,491.5 277.4,488.3 276.5,485.2" fill="#a06a50" fill-opacity="0.92" stroke="#f0dccc" stroke-width="0.8"/>
<ellipse cx="276.3" cy="511.3" rx="3.6" ry="1.4" transform="rotate(96 276.5 511.3)" fill="#552a1c" fill-opacity="0.45"/>
<ellipse cx="276.9" cy="506.7" rx="3.8" ry="1.1" transform="rotate(94 276.9 506.7)" fill="#552a1c" fill-opacity="0.45"/>
<ellipse cx="272.4" cy="534.9" rx="3.8" ry="0.9" transform="rotate(104 272.0 534.9)" fill="#552a1c" fill-opacity="0.45"/>
<ellipse cx="273.5" cy="527.5" rx="2.5" ry="1.4" transform="rotate(102 273.8 527.5)" fill="#552a1c" fill-opacity="0.45"/>
<ellipse cx="276.6" cy="512.0" rx="3.9" ry="1.4" transform="rotate(97 276.4 512.0)" fill="#fff6e0" fill-opacity="0.5"/>
<ellipse cx="275.9" cy="513.8" rx="2.6" ry="1.2" transform="rotate(97 276.2 513.8)" fill="#fff6e0" fill-opacity="0.5"/>
<ellipse cx="275.0" cy="522.9" rx="2.8" ry="1.2" transform="rotate(101 274.7 522.9)" fill="#fff6e0" fill-opacity="0.5"/>
<polygon points="275.9,485.2 275.8,488.5 275.7,491.7 275.5,495.1 275.3,498.5 274.9,502.0 274.4,505.6 273.9,509.3 273.4,513.1 272.8,517.1 272.1,521.1 271.4,525.3 270.7,529.7 269.9,534.1 269.1,538.8 268.3,543.6 267.8,548.6 268.4,548.8 270.8,544.3 272.6,539.7 274.3,535.2 275.6,530.8 276.8,526.4 277.8,522.2 278.5,518.0 279.0,513.9 279.3,509.9 279.5,505.9 279.4,502.2 279.2,498.5 278.8,494.9 278.2,491.5 277.4,488.3 276.5,485.2" fill="url(#spk)"/></g>
<g><polygon points="273.2,459.7 274.9,463.4 276.3,467.2 277.5,471.1 278.4,475.2 279.1,479.5 279.7,483.9 280.0,488.6 280.2,493.4 280.1,498.4 280.0,503.7 279.6,509.2 279.1,514.9 278.5,520.9 277.6,527.1 276.7,533.6 275.9,540.5 276.5,540.7 279.2,534.3 281.2,527.9 282.9,521.7 284.2,515.6 285.1,509.7 285.7,504.0 285.9,498.5 285.8,493.2 285.4,488.1 284.6,483.2 283.6,478.6 282.2,474.2 280.5,470.0 278.5,466.2 276.3,462.6 273.8,459.3" fill="#a06a50" fill-opacity="0.92" stroke="#f0dccc" stroke-width="0.8"/>
<ellipse cx="282.7" cy="488.2" rx="3.0" ry="1.0" transform="rotate(85 282.7 488.2)" fill="#552a1c" fill-opacity="0.45"/>
<ellipse cx="283.4" cy="497.5" rx="2.9" ry="1.1" transform="rotate(90 283.1 497.5)" fill="#552a1c" fill-opacity="0.45"/>
<ellipse cx="281.7" cy="517.1" rx="3.2" ry="0.9" transform="rotate(99 281.4 517.1)" fill="#552a1c" fill-opacity="0.45"/>
<ellipse cx="279.8" cy="527.6" rx="4.2" ry="0.8" transform="rotate(102 279.4 527.6)" fill="#552a1c" fill-opacity="0.45"/>
<ellipse cx="279.6" cy="526.3" rx="5.7" ry="1.2" transform="rotate(102 279.7 526.3)" fill="#fff6e0" fill-opacity="0.5"/>
<ellipse cx="280.9" cy="518.6" rx="5.3" ry="0.9" transform="rotate(99 281.1 518.6)" fill="#fff6e0" fill-opacity="0.5"/>
<ellipse cx="283.1" cy="490.2" rx="5.4" ry="0.9" transform="rotate(86 282.8 490.2)" fill="#fff6e0" fill-opacity="0.5"/>
<polygon points="273.2,459.7 274.9,463.4 276.3,467.2 277.5,471.1 278.4,475.2 279.1,479.5 279.7,483.9 280.0,488.6 280.2,493.4 280.1,498.4 280.0,503.7 279.6,509.2 279.1,514.9 278.5,520.9 277.6,527.1 276.7,533.6 275.9,540.5 276.5,540.7 279.2,534.3 281.2,527.9 282.9,521.7 284.2,515.6 285.1,509.7 285.7,504.0 285.9,498.5 285.8,493.2 285.4,488.1 284.6,483.2 283.6,478.6 282.2,474.2 280.5,470.0 278.5,466.2 276.3,462.6 273.8,459.3" fill="url(#spk)"/></g>
<g><polygon points="280.0,463.7 281.3,467.8 282.4,471.8 283.4,475.9 284.1,480.0 284.7,484.3 285.1,488.6 285.4,492.9 285.6,497.4 285.6,502.0 285.4,506.7 285.2,511.5 284.9,516.4 284.4,521.5 283.8,526.7 283.2,532.2 282.7,537.8 283.3,538.0 285.6,532.7 287.4,527.5 288.8,522.2 289.9,517.1 290.7,512.0 291.2,507.0 291.4,502.0 291.2,497.2 290.8,492.5 290.1,487.9 289.2,483.4 287.9,479.1 286.5,475.0 284.8,471.0 282.8,467.1 280.6,463.5" fill="#a06a50" fill-opacity="0.92" stroke="#f0dccc" stroke-width="0.8"/>
<ellipse cx="286.9" cy="484.2" rx="4.3" ry="1.0" transform="rotate(80 287.0 484.2)" fill="#552a1c" fill-opacity="0.45"/>
<ellipse cx="285.8" cy="479.2" rx="5.0" ry="1.4" transform="rotate(76 286.0 479.2)" fill="#552a1c" fill-opacity="0.45"/>
<ellipse cx="284.9" cy="475.0" rx="5.2" ry="0.8" transform="rotate(73 284.8 475.0)" fill="#552a1c" fill-opacity="0.45"/>
<ellipse cx="286.5" cy="520.5" rx="4.6" ry="1.2" transform="rotate(99 286.8 520.5)" fill="#552a1c" fill-opacity="0.45"/>
<ellipse cx="288.1" cy="507.4" rx="4.0" ry="1.2" transform="rotate(93 288.3 507.4)" fill="#fff6e0" fill-opacity="0.5"/>
<ellipse cx="288.5" cy="495.7" rx="4.1" ry="1.1" transform="rotate(87 288.3 495.7)" fill="#fff6e0" fill-opacity="0.5"/>
<ellipse cx="284.6" cy="474.2" rx="4.2" ry="0.9" transform="rotate(72 284.5 474.2)" fill="#fff6e0" fill-opacity="0.5"/>
<polygon points="280.0,463.7 281.3,467.8 282.4,471.8 283.4,475.9 284.1,480.0 284.7,484.3 285.1,488.6 285.4,492.9 285.6,497.4 285.6,502.0 285.4,506.7 285.2,511.5 284.9,516.4 284.4,521.5 283.8,526.7 283.2,532.2 282.7,537.8 283.3,538.0 285.6,532.7 287.4,527.5 288.8,522.2 289.9,517.1 290.7,512.0 291.2,507.0 291.4,502.0 291.2,497.2 290.8,492.5 290.1,487.9 289.2,483.4 287.9,479.1 286.5,475.0 284.8,471.0 282.8,467.1 280.6,463.5" fill="url(#spk)"/></g>
<g><polygon points="298.9,479.7 296.2,484.2 293.9,488.9 291.9,493.8 290.4,498.8 289.2,504.0 288.5,509.4 288.1,514.9 288.3,520.5 288.8,526.2 289.8,532.0 291.3,537.9 293.2,543.9 295.6,549.8 298.4,555.8 301.7,561.9 305.6,567.7 306.2,567.5 303.9,560.8 301.7,554.4 299.8,548.3 298.1,542.3 296.6,536.6 295.5,530.9 294.6,525.4 293.9,520.1 293.6,514.8 293.5,509.7 293.7,504.6 294.2,499.6 295.0,494.6 296.2,489.7 297.7,484.8 299.5,479.9" fill="#a06a50" fill-opacity="0.92" stroke="#f0dccc" stroke-width="0.8"/>
<ellipse cx="295.5" cy="542.0" rx="4.1" ry="0.9" transform="rotate(73 295.3 542.0)" fill="#552a1c" fill-opacity="0.45"/>
<ellipse cx="290.9" cy="521.6" rx="2.9" ry="1.1" transform="rotate(85 291.2 521.6)" fill="#552a1c" fill-opacity="0.45"/>
<ellipse cx="292.8" cy="496.8" rx="4.3" ry="0.8" transform="rotate(103 292.8 496.8)" fill="#552a1c" fill-opacity="0.45"/>
<ellipse cx="292.6" cy="532.9" rx="5.1" ry="1.3" transform="rotate(78 292.9 532.9)" fill="#552a1c" fill-opacity="0.45"/>
<ellipse cx="291.1" cy="524.2" rx="4.3" ry="1.0" transform="rotate(83 291.5 524.2)" fill="#fff6e0" fill-opacity="0.5"/>
<ellipse cx="300.1" cy="555.8" rx="5.5" ry="1.5" transform="rotate(67 300.3 555.8)" fill="#fff6e0" fill-opacity="0.5"/>
<ellipse cx="294.9" cy="539.7" rx="3.2" ry="1.4" transform="rotate(74 294.6 539.7)" fill="#fff6e0" fill-opacity="0.5"/>
<polygon points="298.9,479.7 296.2,484.2 293.9,488.9 291.9,493.8 290.4,498.8 289.2,504.0 288.5,509.4 288.1,514.9 288.3,520.5 288.8,526.2 289.8,532.0 291.3,537.9 293.2,543.9 295.6,549.8 298.4,555.8 301.7,561.9 305.6,567.7 306.2,567.5 303.9,560.8 301.7,554.4 299.8,548.3 298.1,542.3 296.6,536.6 295.5,530.9 294.6,525.4 293.9,520.1 293.6,514.8 293.5,509.7 293.7,504.6 294.2,499.6 295.0,494.6 296.2,489.7 297.7,484.8 299.5,479.9" fill="url(#spk)"/></g>
<g><polygon points="300.2,489.4 302.7,494.3 304.8,499.1 306.6,503.8 308.1,508.6 309.3,513.3 310.2,517.9 310.8,522.6 311.2,527.2 311.3,531.8 311.1,536.5 310.8,541.2 310.2,545.9 309.3,550.7 308.2,555.7 306.9,560.7 305.6,566.1 306.2,566.3 309.3,561.7 311.7,556.9 313.6,551.9 315.1,546.9 316.2,541.9 316.9,536.9 317.1,531.8 316.8,526.8 316.2,521.8 315.1,516.9 313.6,512.0 311.8,507.3 309.6,502.6 307.0,498.0 304.1,493.4 300.8,489.0" fill="#a06a50" fill-opacity="0.92" stroke="#f0dccc" stroke-width="0.8"/>
<ellipse cx="314.5" cy="529.2" rx="5.7" ry="0.9" transform="rotate(88 314.1 529.2)" fill="#552a1c" fill-opacity="0.45"/>
<ellipse cx="312.9" cy="547.0" rx="2.7" ry="1.0" transform="rotate(102 312.5 547.0)" fill="#552a1c" fill-opacity="0.45"/>
<ellipse cx="312.7" cy="545.0" rx="5.6" ry="1.0" transform="rotate(101 312.9 545.0)" fill="#552a1c" fill-opacity="0.45"/>
<ellipse cx="311.9" cy="548.6" rx="4.3" ry="1.4" transform="rotate(103 312.2 548.6)" fill="#552a1c" fill-opacity="0.45"/>
<ellipse cx="311.2" cy="512.5" rx="4.3" ry="1.0" transform="rotate(74 311.4 512.5)" fill="#fff6e0" fill-opacity="0.5"/>
<ellipse cx="307.5" cy="502.5" rx="3.1" ry="1.4" transform="rotate(66 307.8 502.5)" fill="#fff6e0" fill-opacity="0.5"/>
<ellipse cx="313.9" cy="540.4" rx="3.1" ry="1.3" transform="rotate(97 313.6 540.4)" fill="#fff6e0" fill-opacity="0.5"/>
<polygon points="300.2,489.4 302.7,494.3 304.8,499.1 306.6,503.8 308.1,508.6 309.3,513.3 310.2,517.9 310.8,522.6 311.2,527.2 311.3,531.8 311.1,536.5 310.8,541.2 310.2,545.9 309.3,550.7 308.2,555.7 306.9,560.7 305.6,566.1 306.2,566.3 309.3,561.7 311.7,556.9 313.6,551.9 315.1,546.9 316.2,541.9 316.9,536.9 317.1,531.8 316.8,526.8 316.2,521.8 315.1,516.9 313.6,512.0 311.8,507.3 309.6,502.6 307.0,498.0 304.1,493.4 300.8,489.0" fill="url(#spk)"/></g>
<g><polygon points="300.2,462.3 300.6,466.0 301.1,469.8 301.7,473.6 302.3,477.6 303.1,481.6 303.9,485.7 304.8,489.8 305.9,494.1 307.0,498.4 308.3,502.7 309.7,507.1 311.2,511.6 312.9,516.1 314.7,520.7 316.7,525.3 319.1,529.9 319.7,529.7 319.1,524.6 318.2,519.6 317.2,514.8 316.1,510.2 315.0,505.6 313.8,501.1 312.6,496.8 311.3,492.5 310.1,488.4 308.8,484.4 307.4,480.4 306.1,476.6 304.8,472.8 303.5,469.2 302.2,465.6 300.8,462.1" fill="#a06a50" fill-opacity="0.92" stroke="#f0dccc" stroke-width="0.8"/>
<ellipse cx="304.1" cy="476.4" rx="4.7" ry="1.0" transform="rotate(75 304.0 476.4)" fill="#552a1c" fill-opacity="0.45"/>
<ellipse cx="315.3" cy="516.2" rx="4.5" ry="1.4" transform="rotate(73 315.2 516.2)" fill="#552a1c" fill-opacity="0.45"/>
<ellipse cx="304.3" cy="475.9" rx="4.7" ry="1.0" transform="rotate(75 303.9 475.9)" fill="#552a1c" fill-opacity="0.45"/>
<ellipse cx="313.8" cy="511.9" rx="6.0" ry="1.2" transform="rotate(73 314.0 511.9)" fill="#552a1c" fill-opacity="0.45"/>
<ellipse cx="307.5" cy="488.4" rx="4.0" ry="0.9" transform="rotate(75 307.3 488.4)" fill="#fff6e0" fill-opacity="0.5"/>
<ellipse cx="312.7" cy="508.9" rx="5.4" ry="1.0" transform="rotate(74 313.1 508.9)" fill="#fff6e0" fill-opacity="0.5"/>
<ellipse cx="311.8" cy="503.1" rx="4.6" ry="1.2" transform="rotate(74 311.4 503.1)" fill="#fff6e0" fill-opacity="0.5"/>
<polygon points="300.2,462.3 300.6,466.0 301.1,469.8 301.7,473.6 302.3,477.6 303.1,481.6 303.9,485.7 304.8,489.8 305.9,494.1 307.0,498.4 308.3,502.7 309.7,507.1 311.2,511.6 312.9,516.1 314.7,520.7 316.7,525.3 319.1,529.9 319.7,529.7 319.1,524.6 318.2,519.6 317.2,514.8 316.1,510.2 315.0,505.6 313.8,501.1 312.6,496.8 311.3,492.5 310.1,488.4 308.8,484.4 307.4,480.4 306.1,476.6 304.8,472.8 303.5,469.2 302.2,465.6 300.8,462.1" fill="url(#spk)"/></g>
<g><polygon points="313.7,470.3 313.3,474.9 313.3,479.6 313.5,484.3 314.1,489.0 315.0,493.7 316.2,498.5 317.7,503.2 319.5,508.0 321.7,512.7 324.2,517.3 327.0,521.9 330.1,526.5 333.6,530.9 337.4,535.3 341.6,539.5 346.3,543.5 346.7,543.1 343.5,537.9 340.3,533.1 337.3,528.3 334.4,523.6 331.7,519.0 329.2,514.5 326.9,510.1 324.7,505.6 322.7,501.3 320.9,496.9 319.3,492.5 317.9,488.1 316.7,483.7 315.7,479.3 314.9,474.8 314.3,470.3" fill="#a06a50" fill-opacity="0.92" stroke="#f0dccc" stroke-width="0.8"/>
<ellipse cx="318.5" cy="498.8" rx="2.6" ry="0.9" transform="rotate(71 318.9 498.8)" fill="#552a1c" fill-opacity="0.45"/>
<ellipse cx="326.6" cy="515.9" rx="4.3" ry="1.4" transform="rotate(61 326.6 515.9)" fill="#552a1c" fill-opacity="0.45"/>
<ellipse cx="315.8" cy="488.7" rx="4.8" ry="0.8" transform="rotate(77 316.0 488.7)" fill="#552a1c" fill-opacity="0.45"/>
<ellipse cx="314.6" cy="481.4" rx="2.9" ry="1.0" transform="rotate(82 314.7 481.4)" fill="#552a1c" fill-opacity="0.45"/>
<ellipse cx="317.4" cy="493.9" rx="4.6" ry="0.9" transform="rotate(74 317.4 493.9)" fill="#fff6e0" fill-opacity="0.5"/>
<ellipse cx="326.9" cy="516.3" rx="3.0" ry="1.4" transform="rotate(61 326.9 516.3)" fill="#fff6e0" fill-opacity="0.5"/>
<ellipse cx="317.4" cy="494.9" rx="2.8" ry="1.2" transform="rotate(73 317.7 494.9)" fill="#fff6e0" fill-opacity="0.5"/>
<polygon points="313.7,470.3 313.3,474.9 313.3,479.6 313.5,484.3 314.1,489.0 315.0,493.7 316.2,498.5 317.7,503.2 319.5,508.0 321.7,512.7 324.2,517.3 327.0,521.9 330.1,526.5 333.6,530.9 337.4,535.3 341.6,539.5 346.3,543.5 346.7,543.1 343.5,537.9 340.3,533.1 337.3,528.3 334.4,523.6 331.7,519.0 329.2,514.5 326.9,510.1 324.7,505.6 322.7,501.3 320.9,496.9 319.3,492.5 317.9,488.1 316.7,483.7 315.7,479.3 314.9,474.8 314.3,470.3" fill="url(#spk)"/></g>
<g><polygon points="316.4,471.8 316.8,476.8 317.4,481.6 318.2,486.4 319.2,491.0 320.4,495.5 321.7,499.8 323.2,504.0 324.9,508.1 326.9,511.9 329.0,515.6 331.4,519.1 333.9,522.3 336.7,525.4 339.6,528.2 342.8,530.7 346.3,532.7 346.7,532.3 344.6,528.9 342.3,525.7 340.1,522.5 338.0,519.3 336.0,516.0 333.9,512.6 332.0,509.1 330.1,505.5 328.2,501.8 326.4,498.0 324.6,494.0 322.9,489.8 321.3,485.5 319.8,481.1 318.4,476.4 317.0,471.6" fill="#a06a50" fill-opacity="0.92" stroke="#f0dccc" stroke-width="0.8"/>
<ellipse cx="339.0" cy="524.4" rx="3.9" ry="1.0" transform="rotate(50 338.8 524.4)" fill="#552a1c" fill-opacity="0.45"/>
<ellipse cx="319.4" cy="483.9" rx="4.5" ry="1.0" transform="rotate(76 319.2 483.9)" fill="#552a1c" fill-opacity="0.45"/>
<ellipse cx="332.2" cy="515.3" rx="5.8" ry="1.3" transform="rotate(58 332.2 515.3)" fill="#552a1c" fill-opacity="0.45"/>
<ellipse cx="323.5" cy="496.7" rx="2.7" ry="1.1" transform="rotate(70 323.2 496.7)" fill="#552a1c" fill-opacity="0.45"/>
<ellipse cx="326.2" cy="504.5" rx="2.7" ry="1.3" transform="rotate(65 326.4 504.5)" fill="#fff6e0" fill-opacity="0.5"/>
<ellipse cx="319.3" cy="483.9" rx="5.8" ry="0.9" transform="rotate(76 319.3 483.9)" fill="#fff6e0" fill-opacity="0.5"/>
<ellipse cx="322.4" cy="494.1" rx="4.3" ry="1.2" transform="rotate(71 322.3 494.1)" fill="#fff6e0" fill-opacity="0.5"/>
<polygon points="316.4,471.8 316.8,476.8 317.4,481.6 318.2,486.4 319.2,491.0 320.4,495.5 321.7,499.8 323.2,504.0 324.9,508.1 326.9,511.9 329.0,515.6 331.4,519.1 333.9,522.3 336.7,525.4 339.6,528.2 342.8,530.7 346.3,532.7 346.7,532.3 344.6,528.9 342.3,525.7 340.1,522.5 338.0,519.3 336.0,516.0 333.9,512.6 332.0,509.1 330.1,505.5 328.2,501.8 326.4,498.0 324.6,494.0 322.9,489.8 321.3,485.5 319.8,481.1 318.4,476.4 317.0,471.6" fill="url(#spk)"/></g>
<g><polygon points="320.5,467.7 320.8,472.5 321.3,477.1 321.9,481.6 322.8,485.9 323.7,490.0 324.8,493.9 326.2,497.7 327.6,501.2 329.3,504.6 331.2,507.7 333.3,510.6 335.5,513.3 337.9,515.6 340.5,517.7 343.3,519.4 346.3,520.5 346.7,520.1 344.9,517.5 343.0,515.0 341.2,512.6 339.5,510.1 337.8,507.4 336.1,504.7 334.4,501.8 332.8,498.8 331.1,495.5 329.6,492.1 328.0,488.6 326.5,484.8 325.1,480.8 323.7,476.6 322.4,472.2 321.1,467.5" fill="#a06a50" fill-opacity="0.92" stroke="#f0dccc" stroke-width="0.8"/>
<ellipse cx="338.1" cy="512.7" rx="3.6" ry="1.0" transform="rotate(50 338.4 512.7)" fill="#552a1c" fill-opacity="0.45"/>
<ellipse cx="323.8" cy="481.2" rx="5.2" ry="1.3" transform="rotate(76 323.5 481.2)" fill="#552a1c" fill-opacity="0.45"/>
<ellipse cx="323.2" cy="478.9" rx="5.1" ry="1.1" transform="rotate(77 323.0 478.9)" fill="#552a1c" fill-opacity="0.45"/>
<ellipse cx="336.5" cy="510.5" rx="3.3" ry="0.9" transform="rotate(53 336.6 510.5)" fill="#552a1c" fill-opacity="0.45"/>
<ellipse cx="325.8" cy="490.3" rx="3.7" ry="1.3" transform="rotate(71 326.2 490.3)" fill="#fff6e0" fill-opacity="0.5"/>
<ellipse cx="335.7" cy="508.9" rx="5.0" ry="1.0" transform="rotate(55 335.4 508.9)" fill="#fff6e0" fill-opacity="0.5"/>
<ellipse cx="332.2" cy="503.9" rx="5.3" ry="1.1" transform="rotate(60 332.2 503.9)" fill="#fff6e0" fill-opacity="0.5"/>
<polygon points="320.5,467.7 320.8,472.5 321.3,477.1 321.9,481.6 322.8,485.9 323.7,490.0 324.8,493.9 326.2,497.7 327.6,501.2 329.3,504.6 331.2,507.7 333.3,510.6 335.5,513.3 337.9,515.6 340.5,517.7 343.3,519.4 346.3,520.5 346.7,520.1 344.9,517.5 343.0,515.0 341.2,512.6 339.5,510.1 337.8,507.4 336.1,504.7 334.4,501.8 332.8,498.8 331.1,495.5 329.6,492.1 328.0,488.6 326.5,484.8 325.1,480.8 323.7,476.6 322.4,472.2 321.1,467.5" fill="url(#spk)"/></g>
<rect x="180.5" y="445.5" width="167.0" height="125.5" fill="none" stroke="#3a3a3a" stroke-width="1.6"/>
<text x="262.0" y="438.8" font-size="9" text-anchor="middle" fill="#111">FC</text>
<line x1="336.0" y1="565.3" x2="343.0" y2="565.3" stroke="#222" stroke-width="1.5"/>
<rect x="369.5" y="445" width="171.5" height="127.5" fill="#fff"/>
<g><polygon points="376.7,484.9 374.5,488.8 372.6,493.0 371.2,497.4 370.2,501.9 369.6,506.6 369.5,511.5 369.8,516.5 370.5,521.7 371.8,526.9 373.4,532.1 375.6,537.5 378.2,542.8 381.3,548.2 384.8,553.6 388.8,559.0 393.5,564.2 394.1,563.8 391.1,557.5 388.3,551.6 385.6,545.9 383.3,540.4 381.2,535.2 379.4,530.1 377.9,525.1 376.7,520.3 375.7,515.7 375.0,511.2 374.6,506.7 374.5,502.3 374.7,498.0 375.2,493.7 376.1,489.4 377.3,485.1" fill="#c08e6c" fill-opacity="0.92" stroke="#f2dcc8" stroke-width="0.8"/>
<ellipse cx="372.3" cy="509.8" rx="5.9" ry="1.0" transform="rotate(88 372.2 509.8)" fill="#6a4030" fill-opacity="0.45"/>
<ellipse cx="383.7" cy="548.4" rx="3.4" ry="1.0" transform="rotate(62 384.2 548.4)" fill="#6a4030" fill-opacity="0.45"/>
<ellipse cx="380.1" cy="539.3" rx="5.1" ry="1.1" transform="rotate(66 379.7 539.3)" fill="#6a4030" fill-opacity="0.45"/>
<ellipse cx="384.0" cy="548.4" rx="3.3" ry="1.6" transform="rotate(62 384.2 548.4)" fill="#6a4030" fill-opacity="0.45"/>
<ellipse cx="376.9" cy="532.0" rx="4.8" ry="1.6" transform="rotate(70 376.7 532.0)" fill="#fff6e0" fill-opacity="0.5"/>
<ellipse cx="374.1" cy="521.9" rx="4.9" ry="1.5" transform="rotate(77 373.8 521.9)" fill="#fff6e0" fill-opacity="0.5"/>
<ellipse cx="373.6" cy="519.9" rx="4.5" ry="1.1" transform="rotate(79 373.4 519.9)" fill="#fff6e0" fill-opacity="0.5"/>
<polygon points="376.7,484.9 374.5,488.8 372.6,493.0 371.2,497.4 370.2,501.9 369.6,506.6 369.5,511.5 369.8,516.5 370.5,521.7 371.8,526.9 373.4,532.1 375.6,537.5 378.2,542.8 381.3,548.2 384.8,553.6 388.8,559.0 393.5,564.2 394.1,563.8 391.1,557.5 388.3,551.6 385.6,545.9 383.3,540.4 381.2,535.2 379.4,530.1 377.9,525.1 376.7,520.3 375.7,515.7 375.0,511.2 374.6,506.7 374.5,502.3 374.7,498.0 375.2,493.7 376.1,489.4 377.3,485.1" fill="url(#spk)"/></g>
<g><polygon points="380.4,471.1 381.3,476.7 382.2,482.3 383.1,487.9 384.1,493.6 385.1,499.3 386.1,505.1 387.2,510.9 388.3,516.7 389.5,522.5 390.8,528.4 392.1,534.3 393.5,540.2 395.1,546.1 396.7,552.1 398.4,558.1 400.6,564.1 401.2,563.9 401.1,557.6 400.6,551.3 399.9,545.2 399.1,539.1 398.1,533.0 397.0,527.1 395.8,521.2 394.5,515.3 393.0,509.6 391.5,503.9 390.0,498.2 388.3,492.6 386.6,487.1 384.8,481.6 382.9,476.2 381.0,470.9" fill="#c08e6c" fill-opacity="0.92" stroke="#f2dcc8" stroke-width="0.8"/>
<ellipse cx="387.6" cy="498.8" rx="2.8" ry="1.6" transform="rotate(77 387.5 498.8)" fill="#6a4030" fill-opacity="0.45"/>
<ellipse cx="386.0" cy="494.1" rx="2.9" ry="1.6" transform="rotate(77 386.4 494.1)" fill="#6a4030" fill-opacity="0.45"/>
<ellipse cx="389.4" cy="508.2" rx="2.6" ry="0.9" transform="rotate(77 389.7 508.2)" fill="#6a4030" fill-opacity="0.45"/>
<ellipse cx="395.1" cy="533.3" rx="4.9" ry="1.4" transform="rotate(79 395.0 533.3)" fill="#6a4030" fill-opacity="0.45"/>
<ellipse cx="385.2" cy="488.7" rx="3.8" ry="1.5" transform="rotate(76 385.1 488.7)" fill="#fff6e0" fill-opacity="0.5"/>
<ellipse cx="397.2" cy="542.6" rx="2.7" ry="1.5" transform="rotate(79 396.9 542.6)" fill="#fff6e0" fill-opacity="0.5"/>
<ellipse cx="398.6" cy="549.7" rx="2.9" ry="1.0" transform="rotate(79 398.3 549.7)" fill="#fff6e0" fill-opacity="0.5"/>
<polygon points="380.4,471.1 381.3,476.7 382.2,482.3 383.1,487.9 384.1,493.6 385.1,499.3 386.1,505.1 387.2,510.9 388.3,516.7 389.5,522.5 390.8,528.4 392.1,534.3 393.5,540.2 395.1,546.1 396.7,552.1 398.4,558.1 400.6,564.1 401.2,563.9 401.1,557.6 400.6,551.3 399.9,545.2 399.1,539.1 398.1,533.0 397.0,527.1 395.8,521.2 394.5,515.3 393.0,509.6 391.5,503.9 390.0,498.2 388.3,492.6 386.6,487.1 384.8,481.6 382.9,476.2 381.0,470.9" fill="url(#spk)"/></g>
<g><polygon points="384.0,495.0 383.4,499.4 383.1,503.7 382.8,507.9 382.7,512.1 382.7,516.3 382.8,520.4 383.1,524.5 383.5,528.5 384.1,532.4 384.8,536.2 385.8,540.0 386.9,543.7 388.1,547.2 389.6,550.7 391.3,554.0 393.5,557.1 394.1,556.9 393.9,553.2 393.5,549.6 392.9,545.9 392.3,542.3 391.7,538.7 391.0,535.0 390.4,531.3 389.7,527.5 389.0,523.7 388.3,519.8 387.6,515.9 387.0,511.9 386.4,507.8 385.8,503.6 385.2,499.3 384.6,495.0" fill="url(#g6)" fill-opacity="0.92" stroke="#f2dcc8" stroke-width="0.8"/>
<ellipse cx="384.4" cy="511.1" rx="5.5" ry="1.5" transform="rotate(86 384.8 511.1)" fill="#6a4030" fill-opacity="0.45"/>
<ellipse cx="388.4" cy="536.4" rx="4.7" ry="1.1" transform="rotate(78 388.1 536.4)" fill="#6a4030" fill-opacity="0.45"/>
<ellipse cx="384.4" cy="510.5" rx="5.2" ry="1.0" transform="rotate(86 384.7 510.5)" fill="#6a4030" fill-opacity="0.45"/>
<ellipse cx="385.6" cy="521.4" rx="2.6" ry="1.1" transform="rotate(83 385.7 521.4)" fill="#6a4030" fill-opacity="0.45"/>
<ellipse cx="385.7" cy="519.7" rx="3.8" ry="1.1" transform="rotate(84 385.5 519.7)" fill="#fff6e0" fill-opacity="0.5"/>
<ellipse cx="391.8" cy="551.1" rx="5.5" ry="1.3" transform="rotate(73 391.8 551.1)" fill="#fff6e0" fill-opacity="0.5"/>
<ellipse cx="384.5" cy="506.9" rx="4.0" ry="1.5" transform="rotate(87 384.5 506.9)" fill="#fff6e0" fill-opacity="0.5"/>
<polygon points="384.0,495.0 383.4,499.4 383.1,503.7 382.8,507.9 382.7,512.1 382.7,516.3 382.8,520.4 383.1,524.5 383.5,528.5 384.1,532.4 384.8,536.2 385.8,540.0 386.9,543.7 388.1,547.2 389.6,550.7 391.3,554.0 393.5,557.1 394.1,556.9 393.9,553.2 393.5,549.6 392.9,545.9 392.3,542.3 391.7,538.7 391.0,535.0 390.4,531.3 389.7,527.5 389.0,523.7 388.3,519.8 387.6,515.9 387.0,511.9 386.4,507.8 385.8,503.6 385.2,499.3 384.6,495.0" fill="url(#spk)"/></g>
<g><polygon points="393.5,458.9 392.0,464.0 391.0,469.1 390.4,474.1 390.1,479.0 390.2,483.9 390.8,488.7 391.8,493.5 393.2,498.1 395.0,502.6 397.3,507.0 400.0,511.1 403.1,515.1 406.6,518.8 410.5,522.3 414.8,525.5 419.7,528.2 420.1,527.8 416.7,523.5 413.3,519.5 410.3,515.6 407.5,511.7 405.0,507.8 402.8,503.9 400.8,499.9 399.0,495.9 397.5,491.8 396.2,487.6 395.2,483.2 394.4,478.7 393.9,474.1 393.7,469.3 393.8,464.3 394.1,459.1" fill="url(#g7)" fill-opacity="0.92" stroke="#f2dcc8" stroke-width="0.8"/>
<ellipse cx="394.4" cy="491.2" rx="4.4" ry="1.0" transform="rotate(75 394.2 491.2)" fill="#6a4030" fill-opacity="0.45"/>
<ellipse cx="408.2" cy="517.3" rx="5.4" ry="1.0" transform="rotate(49 408.5 517.3)" fill="#6a4030" fill-opacity="0.45"/>
<ellipse cx="392.0" cy="471.2" rx="5.2" ry="1.6" transform="rotate(93 392.2 471.2)" fill="#6a4030" fill-opacity="0.45"/>
<ellipse cx="392.2" cy="471.4" rx="4.2" ry="1.5" transform="rotate(93 392.2 471.4)" fill="#6a4030" fill-opacity="0.45"/>
<ellipse cx="392.5" cy="482.0" rx="3.7" ry="1.5" transform="rotate(84 392.5 482.0)" fill="#fff6e0" fill-opacity="0.5"/>
<ellipse cx="393.5" cy="486.4" rx="3.5" ry="1.0" transform="rotate(80 393.2 486.4)" fill="#fff6e0" fill-opacity="0.5"/>
<ellipse cx="402.6" cy="509.5" rx="2.9" ry="1.3" transform="rotate(56 402.6 509.5)" fill="#fff6e0" fill-opacity="0.5"/>
<polygon points="393.5,458.9 392.0,464.0 391.0,469.1 390.4,474.1 390.1,479.0 390.2,483.9 390.8,488.7 391.8,493.5 393.2,498.1 395.0,502.6 397.3,507.0 400.0,511.1 403.1,515.1 406.6,518.8 410.5,522.3 414.8,525.5 419.7,528.2 420.1,527.8 416.7,523.5 413.3,519.5 410.3,515.6 407.5,511.7 405.0,507.8 402.8,503.9 400.8,499.9 399.0,495.9 397.5,491.8 396.2,487.6 395.2,483.2 394.4,478.7 393.9,474.1 393.7,469.3 393.8,464.3 394.1,459.1" fill="url(#spk)"/></g>
<g><polygon points="399.4,469.1 399.8,473.8 400.5,478.5 401.4,483.1 402.6,487.8 404.1,492.3 405.8,496.8 407.8,501.3 410.1,505.6 412.7,509.8 415.5,514.0 418.7,518.0 422.1,521.8 425.8,525.5 429.7,529.0 434.0,532.3 438.7,535.2 439.1,534.8 435.9,530.4 432.6,526.2 429.4,522.2 426.4,518.2 423.5,514.2 420.7,510.3 418.0,506.3 415.5,502.4 413.1,498.4 410.8,494.4 408.7,490.4 406.6,486.2 404.8,482.1 403.0,477.8 401.5,473.4 400.0,468.9" fill="#c08e6c" fill-opacity="0.92" stroke="#f2dcc8" stroke-width="0.8"/>
<ellipse cx="403.9" cy="484.3" rx="4.9" ry="1.5" transform="rotate(71 403.7 484.3)" fill="#6a4030" fill-opacity="0.45"/>
<ellipse cx="418.4" cy="512.7" rx="3.9" ry="1.2" transform="rotate(54 418.5 512.7)" fill="#6a4030" fill-opacity="0.45"/>
<ellipse cx="428.5" cy="525.2" rx="5.6" ry="0.9" transform="rotate(47 428.9 525.2)" fill="#6a4030" fill-opacity="0.45"/>
<ellipse cx="406.0" cy="491.1" rx="5.7" ry="1.2" transform="rotate(67 406.3 491.1)" fill="#6a4030" fill-opacity="0.45"/>
<ellipse cx="411.0" cy="500.1" rx="3.3" ry="1.2" transform="rotate(62 410.6 500.1)" fill="#fff6e0" fill-opacity="0.5"/>
<ellipse cx="415.4" cy="507.9" rx="5.1" ry="1.4" transform="rotate(57 415.2 507.9)" fill="#fff6e0" fill-opacity="0.5"/>
<ellipse cx="409.6" cy="498.6" rx="3.0" ry="1.5" transform="rotate(63 409.8 498.6)" fill="#fff6e0" fill-opacity="0.5"/>
<polygon points="399.4,469.1 399.8,473.8 400.5,478.5 401.4,483.1 402.6,487.8 404.1,492.3 405.8,496.8 407.8,501.3 410.1,505.6 412.7,509.8 415.5,514.0 418.7,518.0 422.1,521.8 425.8,525.5 429.7,529.0 434.0,532.3 438.7,535.2 439.1,534.8 435.9,530.4 432.6,526.2 429.4,522.2 426.4,518.2 423.5,514.2 420.7,510.3 418.0,506.3 415.5,502.4 413.1,498.4 410.8,494.4 408.7,490.4 406.6,486.2 404.8,482.1 403.0,477.8 401.5,473.4 400.0,468.9" fill="url(#spk)"/></g>
<g><polygon points="401.7,473.0 401.8,479.0 402.1,484.7 402.5,490.0 403.1,495.1 403.8,499.8 404.7,504.3 405.8,508.4 407.1,512.2 408.6,515.7 410.3,518.8 412.2,521.6 414.3,524.0 416.7,525.9 419.2,527.3 421.8,528.2 424.5,528.3 424.7,527.7 423.1,525.8 421.5,524.1 420.0,522.3 418.6,520.3 417.2,518.1 415.8,515.6 414.3,512.9 412.9,509.8 411.5,506.4 410.0,502.7 408.6,498.6 407.3,494.2 406.0,489.4 404.7,484.3 403.5,478.8 402.3,473.0" fill="#c08e6c" fill-opacity="0.92" stroke="#f2dcc8" stroke-width="0.8"/>
<ellipse cx="414.2" cy="518.7" rx="3.1" ry="1.2" transform="rotate(57 413.9 518.7)" fill="#6a4030" fill-opacity="0.45"/>
<ellipse cx="416.4" cy="522.0" rx="2.9" ry="1.2" transform="rotate(50 416.3 522.0)" fill="#6a4030" fill-opacity="0.45"/>
<ellipse cx="418.7" cy="524.6" rx="3.2" ry="1.1" transform="rotate(41 418.9 524.6)" fill="#6a4030" fill-opacity="0.45"/>
<ellipse cx="415.1" cy="520.0" rx="3.0" ry="1.0" transform="rotate(55 414.8 520.0)" fill="#6a4030" fill-opacity="0.45"/>
<ellipse cx="406.6" cy="501.2" rx="4.3" ry="1.0" transform="rotate(75 406.7 501.2)" fill="#fff6e0" fill-opacity="0.5"/>
<ellipse cx="407.7" cy="505.2" rx="5.9" ry="1.4" transform="rotate(72 407.9 505.2)" fill="#fff6e0" fill-opacity="0.5"/>
<ellipse cx="405.2" cy="493.0" rx="2.9" ry="1.2" transform="rotate(79 404.8 493.0)" fill="#fff6e0" fill-opacity="0.5"/>
<polygon points="401.7,473.0 401.8,479.0 402.1,484.7 402.5,490.0 403.1,495.1 403.8,499.8 404.7,504.3 405.8,508.4 407.1,512.2 408.6,515.7 410.3,518.8 412.2,521.6 414.3,524.0 416.7,525.9 419.2,527.3 421.8,528.2 424.5,528.3 424.7,527.7 423.1,525.8 421.5,524.1 420.0,522.3 418.6,520.3 417.2,518.1 415.8,515.6 414.3,512.9 412.9,509.8 411.5,506.4 410.0,502.7 408.6,498.6 407.3,494.2 406.0,489.4 404.7,484.3 403.5,478.8 402.3,473.0" fill="url(#spk)"/></g>
<g><polygon points="426.7,459.0 426.1,463.4 425.8,467.7 425.7,472.1 425.8,476.4 426.2,480.8 426.8,485.0 427.7,489.3 428.8,493.5 430.2,497.6 431.9,501.7 433.9,505.6 436.2,509.5 438.7,513.2 441.5,516.8 444.6,520.1 448.2,523.2 448.6,522.8 446.8,518.6 444.8,514.6 442.9,510.6 441.1,506.8 439.4,503.0 437.7,499.1 436.2,495.3 434.8,491.5 433.4,487.7 432.2,483.8 431.1,479.8 430.1,475.8 429.2,471.7 428.4,467.6 427.8,463.3 427.3,459.0" fill="url(#g8)" fill-opacity="0.92" stroke="#f2dcc8" stroke-width="0.8"/>
<ellipse cx="444.7" cy="517.6" rx="5.1" ry="1.2" transform="rotate(55 444.4 517.6)" fill="#6a4030" fill-opacity="0.45"/>
<ellipse cx="428.6" cy="479.5" rx="2.9" ry="1.0" transform="rotate(80 428.5 479.5)" fill="#6a4030" fill-opacity="0.45"/>
<ellipse cx="430.4" cy="489.2" rx="3.9" ry="1.5" transform="rotate(74 430.8 489.2)" fill="#6a4030" fill-opacity="0.45"/>
<ellipse cx="436.5" cy="504.1" rx="4.7" ry="1.2" transform="rotate(64 436.5 504.1)" fill="#6a4030" fill-opacity="0.45"/>
<ellipse cx="428.1" cy="476.7" rx="3.9" ry="1.4" transform="rotate(81 428.0 476.7)" fill="#fff6e0" fill-opacity="0.5"/>
<ellipse cx="442.1" cy="514.1" rx="4.5" ry="1.4" transform="rotate(58 442.1 514.1)" fill="#fff6e0" fill-opacity="0.5"/>
<ellipse cx="431.0" cy="490.9" rx="5.0" ry="1.5" transform="rotate(73 431.3 490.9)" fill="#fff6e0" fill-opacity="0.5"/>
<polygon points="426.7,459.0 426.1,463.4 425.8,467.7 425.7,472.1 425.8,476.4 426.2,480.8 426.8,485.0 427.7,489.3 428.8,493.5 430.2,497.6 431.9,501.7 433.9,505.6 436.2,509.5 438.7,513.2 441.5,516.8 444.6,520.1 448.2,523.2 448.6,522.8 446.8,518.6 444.8,514.6 442.9,510.6 441.1,506.8 439.4,503.0 437.7,499.1 436.2,495.3 434.8,491.5 433.4,487.7 432.2,483.8 431.1,479.8 430.1,475.8 429.2,471.7 428.4,467.6 427.8,463.3 427.3,459.0" fill="url(#spk)"/></g>
<g><polygon points="435.0,451.9 433.5,456.3 432.4,460.9 431.6,465.7 431.2,470.8 431.2,476.1 431.6,481.6 432.3,487.4 433.5,493.2 435.0,499.3 436.9,505.5 439.3,511.8 442.1,518.3 445.3,524.9 448.9,531.6 452.9,538.4 457.6,545.1 458.2,544.9 455.3,537.2 452.5,529.9 449.8,522.9 447.3,516.2 445.0,509.7 443.0,503.5 441.1,497.5 439.5,491.8 438.2,486.2 437.1,480.9 436.2,475.7 435.5,470.7 435.1,465.8 435.0,461.1 435.2,456.6 435.6,452.1" fill="#c08e6c" fill-opacity="0.92" stroke="#f2dcc8" stroke-width="0.8"/>
<ellipse cx="444.7" cy="516.8" rx="5.5" ry="1.4" transform="rotate(68 444.5 516.8)" fill="#6a4030" fill-opacity="0.45"/>
<ellipse cx="440.6" cy="506.4" rx="3.6" ry="1.3" transform="rotate(71 440.6 506.4)" fill="#6a4030" fill-opacity="0.45"/>
<ellipse cx="433.3" cy="468.8" rx="5.2" ry="1.4" transform="rotate(90 433.3 468.8)" fill="#6a4030" fill-opacity="0.45"/>
<ellipse cx="440.1" cy="505.5" rx="4.0" ry="1.2" transform="rotate(71 440.3 505.5)" fill="#6a4030" fill-opacity="0.45"/>
<ellipse cx="440.0" cy="504.9" rx="4.9" ry="1.6" transform="rotate(72 440.1 504.9)" fill="#fff6e0" fill-opacity="0.5"/>
<ellipse cx="433.7" cy="474.1" rx="5.2" ry="1.2" transform="rotate(86 433.5 474.1)" fill="#fff6e0" fill-opacity="0.5"/>
<ellipse cx="437.6" cy="495.0" rx="2.6" ry="1.3" transform="rotate(75 437.1 495.0)" fill="#fff6e0" fill-opacity="0.5"/>
<polygon points="435.0,451.9 433.5,456.3 432.4,460.9 431.6,465.7 431.2,470.8 431.2,476.1 431.6,481.6 432.3,487.4 433.5,493.2 435.0,499.3 436.9,505.5 439.3,511.8 442.1,518.3 445.3,524.9 448.9,531.6 452.9,538.4 457.6,545.1 458.2,544.9 455.3,537.2 452.5,529.9 449.8,522.9 447.3,516.2 445.0,509.7 443.0,503.5 441.1,497.5 439.5,491.8 438.2,486.2 437.1,480.9 436.2,475.7 435.5,470.7 435.1,465.8 435.0,461.1 435.2,456.6 435.6,452.1" fill="url(#spk)"/></g>
<g><polygon points="427.7,481.1 429.0,485.4 430.3,489.6 431.6,493.7 432.9,497.6 434.2,501.4 435.5,505.2 436.8,508.8 438.1,512.2 439.5,515.6 440.9,518.8 442.3,521.9 443.8,524.8 445.3,527.6 446.9,530.3 448.6,532.8 450.7,535.1 451.3,534.9 451.2,531.8 450.6,528.8 449.9,525.8 449.0,522.7 447.9,519.5 446.7,516.3 445.4,513.1 443.9,509.8 442.3,506.4 440.6,503.0 438.8,499.5 436.9,495.9 434.8,492.2 432.8,488.5 430.6,484.7 428.3,480.9" fill="url(#g9)" fill-opacity="0.92" stroke="#f2dcc8" stroke-width="0.8"/>
<ellipse cx="435.7" cy="498.2" rx="5.8" ry="1.3" transform="rotate(67 435.5 498.2)" fill="#6a4030" fill-opacity="0.45"/>
<ellipse cx="434.4" cy="495.4" rx="4.4" ry="1.4" transform="rotate(67 434.3 495.4)" fill="#6a4030" fill-opacity="0.45"/>
<ellipse cx="442.1" cy="513.4" rx="5.4" ry="1.3" transform="rotate(67 442.0 513.4)" fill="#6a4030" fill-opacity="0.45"/>
<ellipse cx="440.6" cy="509.1" rx="3.2" ry="1.4" transform="rotate(67 440.2 509.1)" fill="#6a4030" fill-opacity="0.45"/>
<ellipse cx="440.1" cy="508.4" rx="2.9" ry="1.6" transform="rotate(67 439.9 508.4)" fill="#fff6e0" fill-opacity="0.5"/>
<ellipse cx="438.8" cy="506.8" rx="3.5" ry="1.2" transform="rotate(67 439.2 506.8)" fill="#fff6e0" fill-opacity="0.5"/>
<ellipse cx="432.4" cy="491.3" rx="4.0" ry="1.4" transform="rotate(66 432.5 491.3)" fill="#fff6e0" fill-opacity="0.5"/>
<polygon points="427.7,481.1 429.0,485.4 430.3,489.6 431.6,493.7 432.9,497.6 434.2,501.4 435.5,505.2 436.8,508.8 438.1,512.2 439.5,515.6 440.9,518.8 442.3,521.9 443.8,524.8 445.3,527.6 446.9,530.3 448.6,532.8 450.7,535.1 451.3,534.9 451.2,531.8 450.6,528.8 449.9,525.8 449.0,522.7 447.9,519.5 446.7,516.3 445.4,513.1 443.9,509.8 442.3,506.4 440.6,503.0 438.8,499.5 436.9,495.9 434.8,492.2 432.8,488.5 430.6,484.7 428.3,480.9" fill="url(#spk)"/></g>
<g><polygon points="451.7,454.5 451.6,459.1 451.6,463.7 451.7,468.4 451.7,473.1 451.8,477.9 452.0,482.8 452.1,487.7 452.4,492.7 452.7,497.8 453.0,502.9 453.5,508.1 454.0,513.3 454.7,518.7 455.4,524.1 456.3,529.5 457.6,535.0 458.2,535.0 459.0,529.4 459.4,523.9 459.6,518.4 459.6,513.0 459.6,507.7 459.4,502.5 459.1,497.3 458.6,492.3 458.1,487.3 457.5,482.4 456.8,477.5 456.0,472.7 455.2,468.1 454.3,463.4 453.4,458.9 452.3,454.5" fill="url(#g10)" fill-opacity="0.92" stroke="#f2dcc8" stroke-width="0.8"/>
<ellipse cx="454.8" cy="486.2" rx="3.3" ry="1.4" transform="rotate(85 455.0 486.2)" fill="#6a4030" fill-opacity="0.45"/>
<ellipse cx="457.4" cy="523.8" rx="3.3" ry="1.5" transform="rotate(87 457.4 523.8)" fill="#6a4030" fill-opacity="0.45"/>
<ellipse cx="455.0" cy="488.6" rx="3.0" ry="1.5" transform="rotate(86 455.2 488.6)" fill="#6a4030" fill-opacity="0.45"/>
<ellipse cx="457.1" cy="515.2" rx="4.1" ry="1.3" transform="rotate(87 456.9 515.2)" fill="#6a4030" fill-opacity="0.45"/>
<ellipse cx="454.8" cy="478.6" rx="3.7" ry="1.4" transform="rotate(85 454.4 478.6)" fill="#fff6e0" fill-opacity="0.5"/>
<ellipse cx="457.3" cy="515.8" rx="4.1" ry="1.1" transform="rotate(87 457.0 515.8)" fill="#fff6e0" fill-opacity="0.5"/>
<ellipse cx="455.6" cy="498.4" rx="5.4" ry="1.1" transform="rotate(86 455.9 498.4)" fill="#fff6e0" fill-opacity="0.5"/>
<polygon points="451.7,454.5 451.6,459.1 451.6,463.7 451.7,468.4 451.7,473.1 451.8,477.9 452.0,482.8 452.1,487.7 452.4,492.7 452.7,497.8 453.0,502.9 453.5,508.1 454.0,513.3 454.7,518.7 455.4,524.1 456.3,529.5 457.6,535.0 458.2,535.0 459.0,529.4 459.4,523.9 459.6,518.4 459.6,513.0 459.6,507.7 459.4,502.5 459.1,497.3 458.6,492.3 458.1,487.3 457.5,482.4 456.8,477.5 456.0,472.7 455.2,468.1 454.3,463.4 453.4,458.9 452.3,454.5" fill="url(#spk)"/></g>
<g><polygon points="454.0,457.0 454.2,461.7 454.5,466.3 454.8,470.8 455.1,475.3 455.5,479.8 455.9,484.2 456.4,488.6 456.9,493.0 457.5,497.3 458.2,501.5 458.9,505.8 459.8,509.9 460.8,514.0 461.8,518.1 463.1,522.1 464.7,526.0 465.3,526.0 465.8,521.7 465.8,517.5 465.6,513.3 465.4,509.1 465.0,504.8 464.4,500.6 463.8,496.3 463.1,492.0 462.3,487.7 461.4,483.4 460.4,479.0 459.4,474.7 458.3,470.3 457.1,465.8 455.9,461.4 454.6,457.0" fill="#c08e6c" fill-opacity="0.92" stroke="#f2dcc8" stroke-width="0.8"/>
<ellipse cx="462.9" cy="513.2" rx="3.8" ry="1.1" transform="rotate(82 463.1 513.2)" fill="#6a4030" fill-opacity="0.45"/>
<ellipse cx="459.5" cy="491.0" rx="2.5" ry="1.4" transform="rotate(81 459.8 491.0)" fill="#6a4030" fill-opacity="0.45"/>
<ellipse cx="458.3" cy="483.2" rx="3.6" ry="1.2" transform="rotate(81 458.5 483.2)" fill="#6a4030" fill-opacity="0.45"/>
<ellipse cx="459.9" cy="491.1" rx="4.8" ry="1.1" transform="rotate(81 459.8 491.1)" fill="#6a4030" fill-opacity="0.45"/>
<ellipse cx="464.0" cy="517.2" rx="2.7" ry="1.5" transform="rotate(82 463.7 517.2)" fill="#fff6e0" fill-opacity="0.5"/>
<ellipse cx="463.8" cy="516.0" rx="3.0" ry="1.5" transform="rotate(82 463.5 516.0)" fill="#fff6e0" fill-opacity="0.5"/>
<ellipse cx="461.0" cy="501.9" rx="2.5" ry="1.6" transform="rotate(81 461.4 501.9)" fill="#fff6e0" fill-opacity="0.5"/>
<polygon points="454.0,457.0 454.2,461.7 454.5,466.3 454.8,470.8 455.1,475.3 455.5,479.8 455.9,484.2 456.4,488.6 456.9,493.0 457.5,497.3 458.2,501.5 458.9,505.8 459.8,509.9 460.8,514.0 461.8,518.1 463.1,522.1 464.7,526.0 465.3,526.0 465.8,521.7 465.8,517.5 465.6,513.3 465.4,509.1 465.0,504.8 464.4,500.6 463.8,496.3 463.1,492.0 462.3,487.7 461.4,483.4 460.4,479.0 459.4,474.7 458.3,470.3 457.1,465.8 455.9,461.4 454.6,457.0" fill="url(#spk)"/></g>
<g><polygon points="464.7,459.0 464.2,463.8 463.8,468.5 463.6,473.3 463.5,478.1 463.5,482.9 463.6,487.8 463.9,492.6 464.3,497.4 464.9,502.2 465.6,507.0 466.5,511.8 467.6,516.5 468.9,521.2 470.3,525.9 472.0,530.6 474.2,535.1 474.8,534.9 474.7,529.9 474.2,525.1 473.7,520.3 473.1,515.5 472.5,510.7 471.9,506.0 471.2,501.3 470.5,496.6 469.8,491.9 469.1,487.2 468.4,482.6 467.8,477.9 467.1,473.2 466.5,468.5 465.9,463.7 465.3,459.0" fill="#c08e6c" fill-opacity="0.92" stroke="#f2dcc8" stroke-width="0.8"/>
<ellipse cx="468.9" cy="508.8" rx="2.9" ry="1.0" transform="rotate(81 469.1 508.8)" fill="#6a4030" fill-opacity="0.45"/>
<ellipse cx="466.3" cy="484.1" rx="3.7" ry="1.0" transform="rotate(85 466.1 484.1)" fill="#6a4030" fill-opacity="0.45"/>
<ellipse cx="472.1" cy="523.3" rx="3.1" ry="1.5" transform="rotate(78 471.8 523.3)" fill="#6a4030" fill-opacity="0.45"/>
<ellipse cx="468.9" cy="506.0" rx="4.8" ry="1.5" transform="rotate(81 468.7 506.0)" fill="#6a4030" fill-opacity="0.45"/>
<ellipse cx="470.8" cy="516.5" rx="3.2" ry="1.4" transform="rotate(79 470.5 516.5)" fill="#fff6e0" fill-opacity="0.5"/>
<ellipse cx="468.2" cy="501.5" rx="4.0" ry="1.5" transform="rotate(82 468.0 501.5)" fill="#fff6e0" fill-opacity="0.5"/>
<ellipse cx="468.0" cy="502.9" rx="3.3" ry="1.0" transform="rotate(82 468.2 502.9)" fill="#fff6e0" fill-opacity="0.5"/>
<polygon points="464.7,459.0 464.2,463.8 463.8,468.5 463.6,473.3 463.5,478.1 463.5,482.9 463.6,487.8 463.9,492.6 464.3,497.4 464.9,502.2 465.6,507.0 466.5,511.8 467.6,516.5 468.9,521.2 470.3,525.9 472.0,530.6 474.2,535.1 474.8,534.9 474.7,529.9 474.2,525.1 473.7,520.3 473.1,515.5 472.5,510.7 471.9,506.0 471.2,501.3 470.5,496.6 469.8,491.9 469.1,487.2 468.4,482.6 467.8,477.9 467.1,473.2 466.5,468.5 465.9,463.7 465.3,459.0" fill="url(#spk)"/></g>
<g><polygon points="479.0,458.9 477.3,462.5 475.9,466.2 474.6,470.2 473.6,474.3 472.7,478.6 472.0,483.1 471.6,487.7 471.4,492.5 471.4,497.4 471.6,502.5 472.1,507.6 472.9,512.9 473.9,518.3 475.2,523.8 476.8,529.4 479.0,535.1 479.6,534.9 479.5,528.9 479.2,523.2 478.8,517.7 478.5,512.3 478.2,507.1 478.0,502.1 477.8,497.2 477.6,492.5 477.6,487.9 477.6,483.5 477.7,479.1 477.8,474.9 478.1,470.8 478.5,466.8 479.0,462.9 479.6,459.1" fill="#c08e6c" fill-opacity="0.92" stroke="#f2dcc8" stroke-width="0.8"/>
<ellipse cx="474.1" cy="494.8" rx="4.1" ry="1.0" transform="rotate(89 474.5 494.8)" fill="#6a4030" fill-opacity="0.45"/>
<ellipse cx="474.5" cy="494.7" rx="4.4" ry="1.5" transform="rotate(89 474.5 494.7)" fill="#6a4030" fill-opacity="0.45"/>
<ellipse cx="477.1" cy="468.4" rx="4.1" ry="1.3" transform="rotate(102 476.8 468.4)" fill="#6a4030" fill-opacity="0.45"/>
<ellipse cx="475.3" cy="505.3" rx="3.8" ry="1.2" transform="rotate(86 475.0 505.3)" fill="#6a4030" fill-opacity="0.45"/>
<ellipse cx="477.0" cy="524.8" rx="4.7" ry="1.3" transform="rotate(81 477.4 524.8)" fill="#fff6e0" fill-opacity="0.5"/>
<ellipse cx="476.7" cy="469.5" rx="4.9" ry="1.6" transform="rotate(101 476.6 469.5)" fill="#fff6e0" fill-opacity="0.5"/>
<ellipse cx="475.1" cy="485.4" rx="4.3" ry="1.2" transform="rotate(93 474.7 485.4)" fill="#fff6e0" fill-opacity="0.5"/>
<polygon points="479.0,458.9 477.3,462.5 475.9,466.2 474.6,470.2 473.6,474.3 472.7,478.6 472.0,483.1 471.6,487.7 471.4,492.5 471.4,497.4 471.6,502.5 472.1,507.6 472.9,512.9 473.9,518.3 475.2,523.8 476.8,529.4 479.0,535.1 479.6,534.9 479.5,528.9 479.2,523.2 478.8,517.7 478.5,512.3 478.2,507.1 478.0,502.1 477.8,497.2 477.6,492.5 477.6,487.9 477.6,483.5 477.7,479.1 477.8,474.9 478.1,470.8 478.5,466.8 479.0,462.9 479.6,459.1" fill="url(#spk)"/></g>
<g><polygon points="493.2,458.9 490.8,463.0 488.6,467.2 486.5,471.3 484.6,475.4 482.9,479.5 481.2,483.6 479.8,487.7 478.6,491.7 477.5,495.7 476.6,499.8 476.0,503.7 475.6,507.7 475.4,511.6 475.4,515.5 475.7,519.3 476.6,523.0 477.2,523.0 478.5,519.4 479.4,515.8 480.3,512.2 481.1,508.6 482.0,504.8 482.9,501.1 483.7,497.2 484.6,493.3 485.6,489.3 486.6,485.2 487.6,481.1 488.7,476.8 489.8,472.5 491.1,468.2 492.4,463.7 493.8,459.1" fill="url(#g11)" fill-opacity="0.92" stroke="#f2dcc8" stroke-width="0.8"/>
<ellipse cx="477.2" cy="513.6" rx="5.0" ry="1.3" transform="rotate(96 477.6 513.6)" fill="#6a4030" fill-opacity="0.45"/>
<ellipse cx="483.5" cy="486.7" rx="3.8" ry="1.2" transform="rotate(106 483.2 486.7)" fill="#6a4030" fill-opacity="0.45"/>
<ellipse cx="481.0" cy="496.0" rx="3.2" ry="1.2" transform="rotate(103 480.7 496.0)" fill="#6a4030" fill-opacity="0.45"/>
<ellipse cx="482.1" cy="490.9" rx="5.4" ry="1.1" transform="rotate(105 482.0 490.9)" fill="#6a4030" fill-opacity="0.45"/>
<ellipse cx="477.9" cy="510.4" rx="4.3" ry="1.1" transform="rotate(98 478.0 510.4)" fill="#fff6e0" fill-opacity="0.5"/>
<ellipse cx="481.4" cy="495.0" rx="4.8" ry="1.5" transform="rotate(104 481.0 495.0)" fill="#fff6e0" fill-opacity="0.5"/>
<ellipse cx="483.2" cy="486.4" rx="3.5" ry="1.3" transform="rotate(107 483.3 486.4)" fill="#fff6e0" fill-opacity="0.5"/>
<polygon points="493.2,458.9 490.8,463.0 488.6,467.2 486.5,471.3 484.6,475.4 482.9,479.5 481.2,483.6 479.8,487.7 478.6,491.7 477.5,495.7 476.6,499.8 476.0,503.7 475.6,507.7 475.4,511.6 475.4,515.5 475.7,519.3 476.6,523.0 477.2,523.0 478.5,519.4 479.4,515.8 480.3,512.2 481.1,508.6 482.0,504.8 482.9,501.1 483.7,497.2 484.6,493.3 485.6,489.3 486.6,485.2 487.6,481.1 488.7,476.8 489.8,472.5 491.1,468.2 492.4,463.7 493.8,459.1" fill="url(#spk)"/></g>
<g><polygon points="499.3,465.8 495.1,469.1 491.4,472.7 488.3,476.6 485.6,480.7 483.5,485.1 482.0,489.8 481.1,494.7 480.9,499.7 481.2,504.9 482.2,510.2 483.9,515.5 486.1,520.9 489.0,526.4 492.5,531.8 496.6,537.3 501.6,542.6 502.0,542.2 498.9,535.8 496.0,529.8 493.4,524.2 491.3,518.8 489.7,513.6 488.4,508.7 487.6,504.0 487.1,499.5 487.1,495.1 487.5,490.9 488.3,486.7 489.5,482.6 491.3,478.4 493.6,474.3 496.4,470.3 499.7,466.2" fill="url(#g12)" fill-opacity="0.92" stroke="#f2dcc8" stroke-width="0.8"/>
<ellipse cx="485.8" cy="510.6" rx="2.6" ry="1.4" transform="rotate(76 485.6 510.6)" fill="#6a4030" fill-opacity="0.45"/>
<ellipse cx="492.1" cy="527.0" rx="2.7" ry="1.1" transform="rotate(62 492.1 527.0)" fill="#6a4030" fill-opacity="0.45"/>
<ellipse cx="490.9" cy="475.4" rx="5.7" ry="1.3" transform="rotate(124 491.1 475.4)" fill="#6a4030" fill-opacity="0.45"/>
<ellipse cx="486.2" cy="512.0" rx="5.7" ry="1.3" transform="rotate(74 486.0 512.0)" fill="#6a4030" fill-opacity="0.45"/>
<ellipse cx="485.4" cy="509.4" rx="4.9" ry="1.3" transform="rotate(77 485.3 509.4)" fill="#fff6e0" fill-opacity="0.5"/>
<ellipse cx="486.2" cy="513.5" rx="4.8" ry="1.2" transform="rotate(73 486.4 513.5)" fill="#fff6e0" fill-opacity="0.5"/>
<ellipse cx="487.9" cy="518.8" rx="3.1" ry="0.9" transform="rotate(68 488.3 518.8)" fill="#fff6e0" fill-opacity="0.5"/>
<polygon points="499.3,465.8 495.1,469.1 491.4,472.7 488.3,476.6 485.6,480.7 483.5,485.1 482.0,489.8 481.1,494.7 480.9,499.7 481.2,504.9 482.2,510.2 483.9,515.5 486.1,520.9 489.0,526.4 492.5,531.8 496.6,537.3 501.6,542.6 502.0,542.2 498.9,535.8 496.0,529.8 493.4,524.2 491.3,518.8 489.7,513.6 488.4,508.7 487.6,504.0 487.1,499.5 487.1,495.1 487.5,490.9 488.3,486.7 489.5,482.6 491.3,478.4 493.6,474.3 496.4,470.3 499.7,466.2" fill="url(#spk)"/></g>
<g><polygon points="514.7,458.8 510.6,461.7 506.8,464.8 503.3,468.0 500.1,471.5 497.2,475.1 494.6,478.9 492.4,482.8 490.6,486.9 489.1,491.1 488.0,495.5 487.3,500.0 487.1,504.5 487.3,509.2 487.9,513.8 488.9,518.5 490.7,523.0 491.3,523.0 491.6,518.1 491.8,513.6 492.2,509.2 492.7,505.0 493.4,500.8 494.2,496.9 495.2,492.9 496.4,489.1 497.9,485.3 499.5,481.5 501.4,477.8 503.6,474.0 506.0,470.3 508.8,466.6 511.8,462.9 515.1,459.2" fill="url(#g13)" fill-opacity="0.92" stroke="#f2dcc8" stroke-width="0.8"/>
<ellipse cx="490.3" cy="504.5" rx="4.8" ry="1.1" transform="rotate(94 489.9 504.5)" fill="#6a4030" fill-opacity="0.45"/>
<ellipse cx="490.0" cy="507.1" rx="4.5" ry="1.1" transform="rotate(92 489.8 507.1)" fill="#6a4030" fill-opacity="0.45"/>
<ellipse cx="496.8" cy="480.7" rx="3.6" ry="1.2" transform="rotate(118 496.8 480.7)" fill="#6a4030" fill-opacity="0.45"/>
<ellipse cx="491.2" cy="497.5" rx="2.7" ry="1.3" transform="rotate(101 490.8 497.5)" fill="#6a4030" fill-opacity="0.45"/>
<ellipse cx="504.7" cy="468.8" rx="5.3" ry="1.3" transform="rotate(130 505.0 468.8)" fill="#fff6e0" fill-opacity="0.5"/>
<ellipse cx="489.7" cy="512.4" rx="2.5" ry="1.2" transform="rotate(88 489.8 512.4)" fill="#fff6e0" fill-opacity="0.5"/>
<ellipse cx="491.8" cy="494.9" rx="5.9" ry="1.2" transform="rotate(103 491.4 494.9)" fill="#fff6e0" fill-opacity="0.5"/>
<polygon points="514.7,458.8 510.6,461.7 506.8,464.8 503.3,468.0 500.1,471.5 497.2,475.1 494.6,478.9 492.4,482.8 490.6,486.9 489.1,491.1 488.0,495.5 487.3,500.0 487.1,504.5 487.3,509.2 487.9,513.8 488.9,518.5 490.7,523.0 491.3,523.0 491.6,518.1 491.8,513.6 492.2,509.2 492.7,505.0 493.4,500.8 494.2,496.9 495.2,492.9 496.4,489.1 497.9,485.3 499.5,481.5 501.4,477.8 503.6,474.0 506.0,470.3 508.8,466.6 511.8,462.9 515.1,459.2" fill="url(#spk)"/></g>
<g><polygon points="513.4,473.5 512.4,478.2 511.5,482.9 510.6,487.6 509.7,492.3 509.0,497.0 508.2,501.7 507.6,506.5 507.0,511.2 506.5,516.0 506.1,520.7 505.7,525.5 505.5,530.2 505.4,535.0 505.5,539.8 505.7,544.6 506.3,549.5 506.9,549.5 508.4,544.9 509.5,540.2 510.4,535.5 511.1,530.8 511.8,526.0 512.4,521.3 512.8,516.5 513.2,511.8 513.5,507.0 513.8,502.3 513.9,497.5 514.0,492.7 514.1,487.9 514.1,483.1 514.1,478.3 514.0,473.5" fill="#c08e6c" fill-opacity="0.92" stroke="#f2dcc8" stroke-width="0.8"/>
<ellipse cx="510.0" cy="509.0" rx="4.8" ry="1.0" transform="rotate(95 510.3 509.0)" fill="#6a4030" fill-opacity="0.45"/>
<ellipse cx="511.3" cy="493.8" rx="2.5" ry="1.4" transform="rotate(95 511.8 493.8)" fill="#6a4030" fill-opacity="0.45"/>
<ellipse cx="512.3" cy="492.0" rx="2.8" ry="1.5" transform="rotate(95 511.9 492.0)" fill="#6a4030" fill-opacity="0.45"/>
<ellipse cx="511.5" cy="492.4" rx="5.0" ry="1.1" transform="rotate(95 511.9 492.4)" fill="#6a4030" fill-opacity="0.45"/>
<ellipse cx="508.3" cy="527.8" rx="2.7" ry="1.5" transform="rotate(95 508.6 527.8)" fill="#fff6e0" fill-opacity="0.5"/>
<ellipse cx="509.0" cy="526.7" rx="5.1" ry="0.9" transform="rotate(95 508.7 526.7)" fill="#fff6e0" fill-opacity="0.5"/>
<ellipse cx="509.3" cy="521.7" rx="4.1" ry="1.6" transform="rotate(95 509.2 521.7)" fill="#fff6e0" fill-opacity="0.5"/>
<polygon points="513.4,473.5 512.4,478.2 511.5,482.9 510.6,487.6 509.7,492.3 509.0,497.0 508.2,501.7 507.6,506.5 507.0,511.2 506.5,516.0 506.1,520.7 505.7,525.5 505.5,530.2 505.4,535.0 505.5,539.8 505.7,544.6 506.3,549.5 506.9,549.5 508.4,544.9 509.5,540.2 510.4,535.5 511.1,530.8 511.8,526.0 512.4,521.3 512.8,516.5 513.2,511.8 513.5,507.0 513.8,502.3 513.9,497.5 514.0,492.7 514.1,487.9 514.1,483.1 514.1,478.3 514.0,473.5" fill="url(#spk)"/></g>
<g><polygon points="533.6,477.9 530.7,482.5 527.9,487.1 525.2,491.7 522.7,496.4 520.4,501.0 518.2,505.7 516.2,510.3 514.3,515.0 512.7,519.6 511.2,524.3 510.0,528.9 508.9,533.5 508.1,538.2 507.6,542.8 507.3,547.3 507.5,551.9 508.1,552.1 509.9,547.9 511.5,543.6 512.9,539.3 514.4,535.0 515.8,530.6 517.3,526.1 518.8,521.6 520.3,517.0 521.8,512.4 523.4,507.7 525.0,502.9 526.7,498.1 528.5,493.2 530.3,488.3 532.2,483.2 534.2,478.1" fill="#c08e6c" fill-opacity="0.92" stroke="#f2dcc8" stroke-width="0.8"/>
<ellipse cx="522.1" cy="504.5" rx="5.0" ry="0.9" transform="rotate(112 521.7 504.5)" fill="#6a4030" fill-opacity="0.45"/>
<ellipse cx="527.9" cy="490.5" rx="5.4" ry="0.9" transform="rotate(115 527.8 490.5)" fill="#6a4030" fill-opacity="0.45"/>
<ellipse cx="520.6" cy="507.8" rx="3.1" ry="1.5" transform="rotate(111 520.4 507.8)" fill="#6a4030" fill-opacity="0.45"/>
<ellipse cx="516.3" cy="517.8" rx="3.8" ry="1.3" transform="rotate(109 516.7 517.8)" fill="#6a4030" fill-opacity="0.45"/>
<ellipse cx="517.8" cy="515.1" rx="3.0" ry="1.5" transform="rotate(110 517.6 515.1)" fill="#fff6e0" fill-opacity="0.5"/>
<ellipse cx="519.3" cy="510.8" rx="4.7" ry="1.2" transform="rotate(111 519.2 510.8)" fill="#fff6e0" fill-opacity="0.5"/>
<ellipse cx="519.0" cy="512.1" rx="5.8" ry="1.5" transform="rotate(110 518.7 512.1)" fill="#fff6e0" fill-opacity="0.5"/>
<polygon points="533.6,477.9 530.7,482.5 527.9,487.1 525.2,491.7 522.7,496.4 520.4,501.0 518.2,505.7 516.2,510.3 514.3,515.0 512.7,519.6 511.2,524.3 510.0,528.9 508.9,533.5 508.1,538.2 507.6,542.8 507.3,547.3 507.5,551.9 508.1,552.1 509.9,547.9 511.5,543.6 512.9,539.3 514.4,535.0 515.8,530.6 517.3,526.1 518.8,521.6 520.3,517.0 521.8,512.4 523.4,507.7 525.0,502.9 526.7,498.1 528.5,493.2 530.3,488.3 532.2,483.2 534.2,478.1" fill="url(#spk)"/></g>
<g><polygon points="536.0,480.5 534.5,484.7 533.1,488.9 531.6,493.1 530.1,497.4 528.5,501.7 527.0,506.1 525.4,510.5 523.8,515.0 522.2,519.6 520.7,524.2 519.1,528.9 517.6,533.7 516.1,538.6 514.7,543.5 513.3,548.6 512.2,553.9 512.8,554.1 515.8,549.6 518.4,545.0 520.7,540.3 522.9,535.7 524.9,531.0 526.7,526.3 528.3,521.6 529.8,517.0 531.1,512.3 532.3,507.7 533.3,503.1 534.2,498.5 535.0,494.0 535.7,489.5 536.2,485.1 536.6,480.7" fill="#c08e6c" fill-opacity="0.92" stroke="#f2dcc8" stroke-width="0.8"/>
<ellipse cx="524.5" cy="522.4" rx="2.7" ry="1.6" transform="rotate(109 524.7 522.4)" fill="#6a4030" fill-opacity="0.45"/>
<ellipse cx="522.2" cy="530.2" rx="3.7" ry="1.3" transform="rotate(110 521.9 530.2)" fill="#6a4030" fill-opacity="0.45"/>
<ellipse cx="515.9" cy="546.4" rx="4.6" ry="1.1" transform="rotate(112 515.7 546.4)" fill="#6a4030" fill-opacity="0.45"/>
<ellipse cx="527.6" cy="514.5" rx="3.8" ry="1.4" transform="rotate(108 527.3 514.5)" fill="#6a4030" fill-opacity="0.45"/>
<ellipse cx="524.3" cy="524.4" rx="5.3" ry="1.1" transform="rotate(109 524.0 524.4)" fill="#fff6e0" fill-opacity="0.5"/>
<ellipse cx="533.7" cy="491.0" rx="4.0" ry="1.3" transform="rotate(104 533.9 491.0)" fill="#fff6e0" fill-opacity="0.5"/>
<ellipse cx="519.8" cy="536.8" rx="2.6" ry="1.5" transform="rotate(111 519.4 536.8)" fill="#fff6e0" fill-opacity="0.5"/>
<polygon points="536.0,480.5 534.5,484.7 533.1,488.9 531.6,493.1 530.1,497.4 528.5,501.7 527.0,506.1 525.4,510.5 523.8,515.0 522.2,519.6 520.7,524.2 519.1,528.9 517.6,533.7 516.1,538.6 514.7,543.5 513.3,548.6 512.2,553.9 512.8,554.1 515.8,549.6 518.4,545.0 520.7,540.3 522.9,535.7 524.9,531.0 526.7,526.3 528.3,521.6 529.8,517.0 531.1,512.3 532.3,507.7 533.3,503.1 534.2,498.5 535.0,494.0 535.7,489.5 536.2,485.1 536.6,480.7" fill="url(#spk)"/></g>
<rect x="369.5" y="445" width="171.5" height="127.79999999999995" fill="none" stroke="#3a3a3a" stroke-width="1.6"/>
<text x="452.7" y="438.8" font-size="9" text-anchor="middle" fill="#111">OP50-SE</text>
<line x1="522.0" y1="566.0" x2="529.0" y2="566.0" stroke="#222" stroke-width="1.5"/>
<line x1="474.0" y1="567.5" x2="473.6" y2="572.0" stroke="#333" stroke-width="1.6"/>
<rect x="547.5" y="445" width="170.5" height="128" fill="#fff"/>
<g><polygon points="576.1,499.2 579.7,505.1 582.6,510.5 584.8,515.6 586.3,520.1 587.1,524.2 587.1,527.8 586.6,530.9 585.6,533.5 584.1,535.9 581.9,538.2 579.0,540.3 575.4,542.2 570.9,544.1 565.6,545.7 559.6,547.2 552.7,548.7 552.7,549.3 559.8,549.6 566.3,549.2 572.1,548.2 577.2,546.8 581.7,544.9 585.4,542.4 588.4,539.4 590.6,535.9 591.8,532.0 592.0,527.8 591.4,523.4 589.9,518.9 587.7,514.2 584.7,509.3 581.0,504.2 576.5,498.8" fill="#c9966f" fill-opacity="0.92" stroke="#f6e6d8" stroke-width="0.8"/>
<ellipse cx="574.7" cy="545.2" rx="4.5" ry="0.9" transform="rotate(161 574.5 545.2)" fill="#7a4a30" fill-opacity="0.45"/>
<ellipse cx="572.3" cy="546.0" rx="4.9" ry="1.3" transform="rotate(164 572.1 546.0)" fill="#7a4a30" fill-opacity="0.45"/>
<ellipse cx="589.1" cy="530.3" rx="4.4" ry="1.3" transform="rotate(98 589.4 530.3)" fill="#7a4a30" fill-opacity="0.45"/>
<ellipse cx="589.3" cy="523.3" rx="5.8" ry="0.9" transform="rotate(79 589.1 523.3)" fill="#7a4a30" fill-opacity="0.45"/>
<ellipse cx="584.2" cy="540.0" rx="4.1" ry="0.9" transform="rotate(139 584.0 540.0)" fill="#fff6e0" fill-opacity="0.5"/>
<ellipse cx="589.7" cy="526.0" rx="5.3" ry="1.0" transform="rotate(85 589.5 526.0)" fill="#fff6e0" fill-opacity="0.5"/>
<ellipse cx="587.5" cy="517.2" rx="5.2" ry="0.9" transform="rotate(68 587.2 517.2)" fill="#fff6e0" fill-opacity="0.5"/>
<polygon points="576.1,499.2 579.7,505.1 582.6,510.5 584.8,515.6 586.3,520.1 587.1,524.2 587.1,527.8 586.6,530.9 585.6,533.5 584.1,535.9 581.9,538.2 579.0,540.3 575.4,542.2 570.9,544.1 565.6,545.7 559.6,547.2 552.7,548.7 552.7,549.3 559.8,549.6 566.3,549.2 572.1,548.2 577.2,546.8 581.7,544.9 585.4,542.4 588.4,539.4 590.6,535.9 591.8,532.0 592.0,527.8 591.4,523.4 589.9,518.9 587.7,514.2 584.7,509.3 581.0,504.2 576.5,498.8" fill="url(#spk)"/></g>
<g><polygon points="580.8,502.2 584.2,507.2 587.0,512.0 589.1,516.4 590.5,520.5 591.3,524.3 591.5,527.8 591.2,530.9 590.3,533.8 589.0,536.5 587.1,539.1 584.6,541.7 581.4,544.3 577.6,546.9 573.1,549.5 567.8,552.0 561.9,554.7 562.1,555.3 568.6,554.3 574.4,552.7 579.6,550.8 584.2,548.5 588.1,545.8 591.3,542.7 593.8,539.3 595.5,535.6 596.3,531.7 596.4,527.6 595.6,523.4 594.1,519.3 591.9,515.0 589.0,510.7 585.5,506.3 581.2,501.8" fill="#c9966f" fill-opacity="0.92" stroke="#f6e6d8" stroke-width="0.8"/>
<ellipse cx="590.6" cy="539.6" rx="5.6" ry="1.1" transform="rotate(126 590.3 539.6)" fill="#7a4a30" fill-opacity="0.45"/>
<ellipse cx="592.6" cy="535.6" rx="3.2" ry="0.9" transform="rotate(113 592.6 535.6)" fill="#7a4a30" fill-opacity="0.45"/>
<ellipse cx="593.3" cy="522.4" rx="3.8" ry="1.1" transform="rotate(75 593.1 522.4)" fill="#7a4a30" fill-opacity="0.45"/>
<ellipse cx="593.5" cy="532.5" rx="3.0" ry="0.8" transform="rotate(102 593.5 532.5)" fill="#7a4a30" fill-opacity="0.45"/>
<ellipse cx="569.9" cy="552.5" rx="2.9" ry="1.2" transform="rotate(160 570.0 552.5)" fill="#fff6e0" fill-opacity="0.5"/>
<ellipse cx="582.2" cy="546.7" rx="4.6" ry="1.0" transform="rotate(147 582.4 546.7)" fill="#fff6e0" fill-opacity="0.5"/>
<ellipse cx="591.4" cy="537.3" rx="2.6" ry="1.4" transform="rotate(119 591.7 537.3)" fill="#fff6e0" fill-opacity="0.5"/>
<polygon points="580.8,502.2 584.2,507.2 587.0,512.0 589.1,516.4 590.5,520.5 591.3,524.3 591.5,527.8 591.2,530.9 590.3,533.8 589.0,536.5 587.1,539.1 584.6,541.7 581.4,544.3 577.6,546.9 573.1,549.5 567.8,552.0 561.9,554.7 562.1,555.3 568.6,554.3 574.4,552.7 579.6,550.8 584.2,548.5 588.1,545.8 591.3,542.7 593.8,539.3 595.5,535.6 596.3,531.7 596.4,527.6 595.6,523.4 594.1,519.3 591.9,515.0 589.0,510.7 585.5,506.3 581.2,501.8" fill="url(#spk)"/></g>
<g><polygon points="585.6,496.2 589.5,500.7 592.8,505.0 595.4,509.1 597.4,513.1 598.8,516.9 599.6,520.5 599.8,524.0 599.6,527.3 598.9,530.5 597.6,533.8 595.9,537.2 593.6,540.6 590.7,544.2 587.2,547.8 583.1,551.6 578.5,555.7 578.9,556.3 584.5,553.6 589.5,550.6 593.8,547.3 597.4,543.8 600.4,540.1 602.7,536.2 604.2,532.1 605.0,527.9 605.0,523.7 604.3,519.5 602.9,515.4 600.7,511.3 598.0,507.4 594.6,503.4 590.6,499.6 586.0,495.8" fill="#c9966f" fill-opacity="0.92" stroke="#f6e6d8" stroke-width="0.8"/>
<ellipse cx="592.0" cy="546.0" rx="4.5" ry="0.9" transform="rotate(136 592.0 546.0)" fill="#7a4a30" fill-opacity="0.45"/>
<ellipse cx="595.5" cy="542.2" rx="5.8" ry="1.2" transform="rotate(130 595.5 542.2)" fill="#7a4a30" fill-opacity="0.45"/>
<ellipse cx="594.3" cy="543.9" rx="3.4" ry="0.8" transform="rotate(133 594.0 543.9)" fill="#7a4a30" fill-opacity="0.45"/>
<ellipse cx="600.4" cy="515.6" rx="2.8" ry="0.8" transform="rotate(69 600.6 515.6)" fill="#7a4a30" fill-opacity="0.45"/>
<ellipse cx="601.5" cy="532.3" rx="4.1" ry="1.4" transform="rotate(109 601.2 532.3)" fill="#fff6e0" fill-opacity="0.5"/>
<ellipse cx="589.6" cy="547.9" rx="4.6" ry="1.0" transform="rotate(139 590.0 547.9)" fill="#fff6e0" fill-opacity="0.5"/>
<ellipse cx="599.1" cy="511.7" rx="3.4" ry="1.1" transform="rotate(62 598.8 511.7)" fill="#fff6e0" fill-opacity="0.5"/>
<polygon points="585.6,496.2 589.5,500.7 592.8,505.0 595.4,509.1 597.4,513.1 598.8,516.9 599.6,520.5 599.8,524.0 599.6,527.3 598.9,530.5 597.6,533.8 595.9,537.2 593.6,540.6 590.7,544.2 587.2,547.8 583.1,551.6 578.5,555.7 578.9,556.3 584.5,553.6 589.5,550.6 593.8,547.3 597.4,543.8 600.4,540.1 602.7,536.2 604.2,532.1 605.0,527.9 605.0,523.7 604.3,519.5 602.9,515.4 600.7,511.3 598.0,507.4 594.6,503.4 590.6,499.6 586.0,495.8" fill="url(#spk)"/></g>
<g><polygon points="597.3,492.2 600.0,497.1 602.3,502.0 604.3,506.6 605.9,511.2 607.2,515.5 608.1,519.8 608.7,523.8 609.1,527.8 609.1,531.6 608.9,535.4 608.4,539.1 607.7,542.7 606.6,546.4 605.3,550.1 603.8,553.8 602.1,557.8 602.5,558.2 605.8,555.1 608.5,551.7 610.6,548.0 612.4,544.2 613.6,540.2 614.4,536.0 614.7,531.7 614.5,527.4 613.9,523.0 612.8,518.6 611.3,514.2 609.4,509.7 607.1,505.3 604.4,500.8 601.3,496.3 597.9,491.8" fill="#c9966f" fill-opacity="0.92" stroke="#f6e6d8" stroke-width="0.8"/>
<ellipse cx="611.8" cy="536.8" rx="4.8" ry="1.0" transform="rotate(98 611.5 536.8)" fill="#7a4a30" fill-opacity="0.45"/>
<ellipse cx="611.5" cy="527.3" rx="5.9" ry="1.4" transform="rotate(86 611.8 527.3)" fill="#7a4a30" fill-opacity="0.45"/>
<ellipse cx="609.1" cy="515.4" rx="3.4" ry="1.0" transform="rotate(73 609.4 515.4)" fill="#7a4a30" fill-opacity="0.45"/>
<ellipse cx="608.1" cy="549.1" rx="5.4" ry="0.8" transform="rotate(115 607.8 549.1)" fill="#7a4a30" fill-opacity="0.45"/>
<ellipse cx="610.1" cy="543.8" rx="4.8" ry="1.4" transform="rotate(108 609.9 543.8)" fill="#fff6e0" fill-opacity="0.5"/>
<ellipse cx="605.6" cy="506.4" rx="5.1" ry="1.4" transform="rotate(65 605.9 506.4)" fill="#fff6e0" fill-opacity="0.5"/>
<ellipse cx="611.1" cy="538.6" rx="4.6" ry="1.2" transform="rotate(100 611.2 538.6)" fill="#fff6e0" fill-opacity="0.5"/>
<polygon points="597.3,492.2 600.0,497.1 602.3,502.0 604.3,506.6 605.9,511.2 607.2,515.5 608.1,519.8 608.7,523.8 609.1,527.8 609.1,531.6 608.9,535.4 608.4,539.1 607.7,542.7 606.6,546.4 605.3,550.1 603.8,553.8 602.1,557.8 602.5,558.2 605.8,555.1 608.5,551.7 610.6,548.0 612.4,544.2 613.6,540.2 614.4,536.0 614.7,531.7 614.5,527.4 613.9,523.0 612.8,518.6 611.3,514.2 609.4,509.7 607.1,505.3 604.4,500.8 601.3,496.3 597.9,491.8" fill="url(#spk)"/></g>
<g><polygon points="602.1,497.2 605.7,503.1 608.9,508.6 611.6,513.8 613.9,518.8 615.7,523.3 617.0,527.6 618.0,531.5 618.5,535.0 618.6,538.2 618.4,541.1 617.9,543.7 617.0,546.2 615.7,548.6 614.1,550.9 611.9,553.2 609.3,555.7 609.5,556.3 613.2,555.3 616.4,553.5 619.1,551.3 621.3,548.6 622.9,545.5 623.9,542.0 624.2,538.3 623.9,534.4 623.1,530.3 621.7,526.0 619.7,521.6 617.3,517.0 614.3,512.3 610.9,507.3 607.0,502.2 602.5,496.8" fill="#c9966f" fill-opacity="0.92" stroke="#f6e6d8" stroke-width="0.8"/>
<ellipse cx="614.7" cy="516.5" rx="3.4" ry="0.8" transform="rotate(62 614.9 516.5)" fill="#7a4a30" fill-opacity="0.45"/>
<ellipse cx="621.1" cy="535.9" rx="3.3" ry="0.8" transform="rotate(85 621.3 535.9)" fill="#7a4a30" fill-opacity="0.45"/>
<ellipse cx="620.2" cy="543.9" rx="5.0" ry="0.9" transform="rotate(106 620.6 543.9)" fill="#7a4a30" fill-opacity="0.45"/>
<ellipse cx="612.9" cy="512.3" rx="3.3" ry="1.4" transform="rotate(60 612.5 512.3)" fill="#7a4a30" fill-opacity="0.45"/>
<ellipse cx="617.6" cy="550.1" rx="3.0" ry="1.0" transform="rotate(130 617.3 550.1)" fill="#fff6e0" fill-opacity="0.5"/>
<ellipse cx="614.9" cy="516.0" rx="5.4" ry="1.2" transform="rotate(62 614.6 516.0)" fill="#fff6e0" fill-opacity="0.5"/>
<ellipse cx="621.1" cy="534.6" rx="5.4" ry="1.1" transform="rotate(83 621.2 534.6)" fill="#fff6e0" fill-opacity="0.5"/>
<polygon points="602.1,497.2 605.7,503.1 608.9,508.6 611.6,513.8 613.9,518.8 615.7,523.3 617.0,527.6 618.0,531.5 618.5,535.0 618.6,538.2 618.4,541.1 617.9,543.7 617.0,546.2 615.7,548.6 614.1,550.9 611.9,553.2 609.3,555.7 609.5,556.3 613.2,555.3 616.4,553.5 619.1,551.3 621.3,548.6 622.9,545.5 623.9,542.0 624.2,538.3 623.9,534.4 623.1,530.3 621.7,526.0 619.7,521.6 617.3,517.0 614.3,512.3 610.9,507.3 607.0,502.2 602.5,496.8" fill="url(#spk)"/></g>
<g><polygon points="621.0,477.8 618.0,479.8 615.5,482.3 613.3,485.1 611.5,488.4 610.2,491.9 609.3,495.8 608.9,499.9 609.1,504.3 609.7,508.9 610.8,513.7 612.4,518.7 614.5,523.9 617.1,529.3 620.2,534.8 623.7,540.5 628.0,546.1 628.6,545.9 625.9,539.3 623.3,533.2 621.1,527.5 619.1,522.1 617.5,517.0 616.2,512.3 615.2,507.9 614.5,503.7 614.2,499.8 614.1,496.2 614.4,492.8 615.0,489.6 616.0,486.6 617.4,483.7 619.2,480.9 621.4,478.2" fill="#c9966f" fill-opacity="0.92" stroke="#f6e6d8" stroke-width="0.8"/>
<ellipse cx="613.4" cy="513.7" rx="3.3" ry="0.8" transform="rotate(75 613.7 513.7)" fill="#7a4a30" fill-opacity="0.45"/>
<ellipse cx="615.3" cy="518.8" rx="3.0" ry="1.3" transform="rotate(71 615.3 518.8)" fill="#7a4a30" fill-opacity="0.45"/>
<ellipse cx="611.8" cy="494.8" rx="3.0" ry="0.9" transform="rotate(98 611.9 494.8)" fill="#7a4a30" fill-opacity="0.45"/>
<ellipse cx="618.3" cy="527.0" rx="3.1" ry="1.1" transform="rotate(67 618.5 527.0)" fill="#7a4a30" fill-opacity="0.45"/>
<ellipse cx="611.9" cy="497.2" rx="2.9" ry="1.4" transform="rotate(94 611.6 497.2)" fill="#fff6e0" fill-opacity="0.5"/>
<ellipse cx="614.8" cy="486.2" rx="4.8" ry="0.9" transform="rotate(117 614.5 486.2)" fill="#fff6e0" fill-opacity="0.5"/>
<ellipse cx="611.8" cy="505.2" rx="3.4" ry="0.9" transform="rotate(83 611.9 505.2)" fill="#fff6e0" fill-opacity="0.5"/>
<polygon points="621.0,477.8 618.0,479.8 615.5,482.3 613.3,485.1 611.5,488.4 610.2,491.9 609.3,495.8 608.9,499.9 609.1,504.3 609.7,508.9 610.8,513.7 612.4,518.7 614.5,523.9 617.1,529.3 620.2,534.8 623.7,540.5 628.0,546.1 628.6,545.9 625.9,539.3 623.3,533.2 621.1,527.5 619.1,522.1 617.5,517.0 616.2,512.3 615.2,507.9 614.5,503.7 614.2,499.8 614.1,496.2 614.4,492.8 615.0,489.6 616.0,486.6 617.4,483.7 619.2,480.9 621.4,478.2" fill="url(#spk)"/></g>
<g><polygon points="637.5,461.3 634.7,463.6 632.2,466.5 630.0,469.7 628.0,473.4 626.4,477.4 625.0,481.9 624.0,486.6 623.3,491.8 622.9,497.2 622.8,503.0 623.2,509.1 623.8,515.5 624.8,522.2 626.2,529.2 627.9,536.5 630.3,544.1 630.9,543.9 630.3,536.1 629.7,528.7 629.1,521.7 628.7,515.1 628.5,508.8 628.4,503.0 628.5,497.4 628.7,492.2 629.2,487.4 629.8,482.9 630.6,478.7 631.6,474.7 632.8,471.1 634.3,467.7 636.0,464.6 637.9,461.7" fill="#c9966f" fill-opacity="0.92" stroke="#f6e6d8" stroke-width="0.8"/>
<ellipse cx="627.0" cy="486.5" rx="6.0" ry="1.4" transform="rotate(99 626.7 486.5)" fill="#7a4a30" fill-opacity="0.45"/>
<ellipse cx="630.3" cy="472.6" rx="5.6" ry="0.8" transform="rotate(113 630.4 472.6)" fill="#7a4a30" fill-opacity="0.45"/>
<ellipse cx="625.8" cy="511.2" rx="5.9" ry="0.8" transform="rotate(86 625.9 511.2)" fill="#7a4a30" fill-opacity="0.45"/>
<ellipse cx="626.4" cy="517.6" rx="3.0" ry="0.8" transform="rotate(84 626.5 517.6)" fill="#7a4a30" fill-opacity="0.45"/>
<ellipse cx="626.7" cy="519.6" rx="3.2" ry="1.0" transform="rotate(84 626.7 519.6)" fill="#fff6e0" fill-opacity="0.5"/>
<ellipse cx="627.3" cy="526.4" rx="4.5" ry="0.8" transform="rotate(82 627.5 526.4)" fill="#fff6e0" fill-opacity="0.5"/>
<ellipse cx="629.2" cy="476.5" rx="5.0" ry="0.9" transform="rotate(108 629.0 476.5)" fill="#fff6e0" fill-opacity="0.5"/>
<polygon points="637.5,461.3 634.7,463.6 632.2,466.5 630.0,469.7 628.0,473.4 626.4,477.4 625.0,481.9 624.0,486.6 623.3,491.8 622.9,497.2 622.8,503.0 623.2,509.1 623.8,515.5 624.8,522.2 626.2,529.2 627.9,536.5 630.3,544.1 630.9,543.9 630.3,536.1 629.7,528.7 629.1,521.7 628.7,515.1 628.5,508.8 628.4,503.0 628.5,497.4 628.7,492.2 629.2,487.4 629.8,482.9 630.6,478.7 631.6,474.7 632.8,471.1 634.3,467.7 636.0,464.6 637.9,461.7" fill="url(#spk)"/></g>
<g><polygon points="638.6,473.0 638.0,479.2 637.5,485.1 637.0,490.8 636.5,496.3 636.1,501.6 635.7,506.6 635.3,511.3 635.0,515.9 634.7,520.2 634.5,524.2 634.3,528.1 634.2,531.7 634.2,535.1 634.3,538.2 634.5,541.2 635.1,544.0 635.7,544.0 637.0,541.5 637.8,538.6 638.5,535.5 639.1,532.1 639.6,528.5 640.0,524.6 640.3,520.5 640.4,516.1 640.5,511.6 640.5,506.7 640.5,501.7 640.3,496.4 640.1,490.9 639.9,485.2 639.6,479.2 639.2,473.0" fill="#c9966f" fill-opacity="0.92" stroke="#f6e6d8" stroke-width="0.8"/>
<ellipse cx="638.2" cy="493.0" rx="4.6" ry="1.1" transform="rotate(91 638.5 493.0)" fill="#7a4a30" fill-opacity="0.45"/>
<ellipse cx="637.9" cy="505.5" rx="4.6" ry="1.2" transform="rotate(92 638.1 505.5)" fill="#7a4a30" fill-opacity="0.45"/>
<ellipse cx="636.6" cy="533.3" rx="3.2" ry="0.8" transform="rotate(95 636.6 533.3)" fill="#7a4a30" fill-opacity="0.45"/>
<ellipse cx="636.8" cy="529.8" rx="5.0" ry="0.8" transform="rotate(94 636.8 529.8)" fill="#7a4a30" fill-opacity="0.45"/>
<ellipse cx="636.5" cy="533.2" rx="5.4" ry="1.3" transform="rotate(95 636.6 533.2)" fill="#fff6e0" fill-opacity="0.5"/>
<ellipse cx="637.2" cy="518.1" rx="5.7" ry="1.1" transform="rotate(93 637.6 518.1)" fill="#fff6e0" fill-opacity="0.5"/>
<ellipse cx="636.2" cy="535.7" rx="3.2" ry="1.3" transform="rotate(95 636.3 535.7)" fill="#fff6e0" fill-opacity="0.5"/>
<polygon points="638.6,473.0 638.0,479.2 637.5,485.1 637.0,490.8 636.5,496.3 636.1,501.6 635.7,506.6 635.3,511.3 635.0,515.9 634.7,520.2 634.5,524.2 634.3,528.1 634.2,531.7 634.2,535.1 634.3,538.2 634.5,541.2 635.1,544.0 635.7,544.0 637.0,541.5 637.8,538.6 638.5,535.5 639.1,532.1 639.6,528.5 640.0,524.6 640.3,520.5 640.4,516.1 640.5,511.6 640.5,506.7 640.5,501.7 640.3,496.4 640.1,490.9 639.9,485.2 639.6,479.2 639.2,473.0" fill="url(#spk)"/></g>
<g><polygon points="628.0,482.9 626.4,485.2 625.0,487.8 623.6,490.4 622.3,493.2 621.2,496.1 620.2,499.1 619.3,502.3 618.5,505.5 617.9,508.9 617.4,512.3 617.1,515.9 617.0,519.5 617.0,523.3 617.2,527.1 617.6,531.0 618.5,535.0 619.1,535.0 620.1,531.1 620.7,527.3 621.3,523.6 621.9,520.0 622.4,516.5 622.9,513.0 623.4,509.7 623.9,506.5 624.4,503.3 624.9,500.3 625.4,497.3 626.0,494.3 626.6,491.4 627.2,488.6 627.9,485.9 628.6,483.1" fill="#c9966f" fill-opacity="0.92" stroke="#f6e6d8" stroke-width="0.8"/>
<ellipse cx="621.6" cy="502.6" rx="3.8" ry="1.1" transform="rotate(102 621.9 502.6)" fill="#7a4a30" fill-opacity="0.45"/>
<ellipse cx="625.6" cy="489.4" rx="4.1" ry="1.1" transform="rotate(110 625.6 489.4)" fill="#7a4a30" fill-opacity="0.45"/>
<ellipse cx="624.4" cy="493.4" rx="5.4" ry="1.3" transform="rotate(107 624.3 493.4)" fill="#7a4a30" fill-opacity="0.45"/>
<ellipse cx="622.4" cy="500.8" rx="3.8" ry="1.2" transform="rotate(103 622.3 500.8)" fill="#7a4a30" fill-opacity="0.45"/>
<ellipse cx="625.2" cy="491.4" rx="5.8" ry="1.1" transform="rotate(109 624.9 491.4)" fill="#fff6e0" fill-opacity="0.5"/>
<ellipse cx="620.8" cy="508.4" rx="4.4" ry="0.8" transform="rotate(99 620.8 508.4)" fill="#fff6e0" fill-opacity="0.5"/>
<ellipse cx="618.7" cy="528.4" rx="3.1" ry="0.8" transform="rotate(92 618.9 528.4)" fill="#fff6e0" fill-opacity="0.5"/>
<polygon points="628.0,482.9 626.4,485.2 625.0,487.8 623.6,490.4 622.3,493.2 621.2,496.1 620.2,499.1 619.3,502.3 618.5,505.5 617.9,508.9 617.4,512.3 617.1,515.9 617.0,519.5 617.0,523.3 617.2,527.1 617.6,531.0 618.5,535.0 619.1,535.0 620.1,531.1 620.7,527.3 621.3,523.6 621.9,520.0 622.4,516.5 622.9,513.0 623.4,509.7 623.9,506.5 624.4,503.3 624.9,500.3 625.4,497.3 626.0,494.3 626.6,491.4 627.2,488.6 627.9,485.9 628.6,483.1" fill="url(#spk)"/></g>
<g><polygon points="691.9,480.1 685.5,480.8 679.5,481.9 673.8,483.4 668.6,485.3 663.7,487.7 659.3,490.4 655.3,493.6 651.9,497.3 648.9,501.3 646.5,505.8 644.7,510.6 643.4,515.8 642.7,521.2 642.6,526.9 643.2,532.9 644.5,539.0 645.1,539.0 645.6,532.8 646.2,527.1 647.0,521.8 648.2,516.9 649.7,512.4 651.5,508.2 653.6,504.3 656.1,500.7 659.0,497.4 662.3,494.3 666.0,491.4 670.2,488.7 674.9,486.3 680.1,484.2 685.8,482.3 692.1,480.7" fill="#c9966f" fill-opacity="0.92" stroke="#f6e6d8" stroke-width="0.8"/>
<ellipse cx="663.1" cy="490.8" rx="2.6" ry="0.8" transform="rotate(145 662.8 490.8)" fill="#7a4a30" fill-opacity="0.45"/>
<ellipse cx="646.9" cy="511.5" rx="2.6" ry="1.1" transform="rotate(109 647.2 511.5)" fill="#7a4a30" fill-opacity="0.45"/>
<ellipse cx="650.1" cy="504.9" rx="5.0" ry="0.8" transform="rotate(119 650.1 504.9)" fill="#7a4a30" fill-opacity="0.45"/>
<ellipse cx="645.0" cy="522.1" rx="2.7" ry="0.8" transform="rotate(97 644.8 522.1)" fill="#7a4a30" fill-opacity="0.45"/>
<ellipse cx="652.6" cy="500.8" rx="3.5" ry="0.8" transform="rotate(126 652.6 500.8)" fill="#fff6e0" fill-opacity="0.5"/>
<ellipse cx="655.6" cy="496.9" rx="4.6" ry="1.3" transform="rotate(133 655.9 496.9)" fill="#fff6e0" fill-opacity="0.5"/>
<ellipse cx="668.4" cy="487.5" rx="5.1" ry="0.9" transform="rotate(153 668.4 487.5)" fill="#fff6e0" fill-opacity="0.5"/>
<polygon points="691.9,480.1 685.5,480.8 679.5,481.9 673.8,483.4 668.6,485.3 663.7,487.7 659.3,490.4 655.3,493.6 651.9,497.3 648.9,501.3 646.5,505.8 644.7,510.6 643.4,515.8 642.7,521.2 642.6,526.9 643.2,532.9 644.5,539.0 645.1,539.0 645.6,532.8 646.2,527.1 647.0,521.8 648.2,516.9 649.7,512.4 651.5,508.2 653.6,504.3 656.1,500.7 659.0,497.4 662.3,494.3 666.0,491.4 670.2,488.7 674.9,486.3 680.1,484.2 685.8,482.3 692.1,480.7" fill="url(#spk)"/></g>
<g><polygon points="687.2,482.5 682.0,484.7 677.2,487.0 672.7,489.5 668.7,492.2 665.1,495.0 661.8,498.0 659.0,501.2 656.6,504.6 654.7,508.2 653.3,511.9 652.5,515.7 652.1,519.6 652.3,523.5 653.0,527.4 654.3,531.3 656.3,535.1 656.9,534.9 656.7,530.8 656.5,527.0 656.6,523.4 657.0,520.0 657.7,516.7 658.6,513.6 659.8,510.5 661.4,507.4 663.2,504.3 665.5,501.3 668.1,498.2 671.1,495.1 674.6,492.1 678.4,489.1 682.7,486.1 687.4,483.1" fill="#c9966f" fill-opacity="0.92" stroke="#f6e6d8" stroke-width="0.8"/>
<ellipse cx="654.8" cy="521.9" rx="3.9" ry="1.0" transform="rotate(91 654.5 521.9)" fill="#7a4a30" fill-opacity="0.45"/>
<ellipse cx="654.5" cy="522.5" rx="3.9" ry="1.4" transform="rotate(90 654.5 522.5)" fill="#7a4a30" fill-opacity="0.45"/>
<ellipse cx="654.5" cy="519.7" rx="3.3" ry="1.0" transform="rotate(95 654.6 519.7)" fill="#7a4a30" fill-opacity="0.45"/>
<ellipse cx="659.8" cy="505.2" rx="5.3" ry="1.3" transform="rotate(122 659.5 505.2)" fill="#7a4a30" fill-opacity="0.45"/>
<ellipse cx="654.7" cy="521.4" rx="2.7" ry="1.1" transform="rotate(92 654.5 521.4)" fill="#fff6e0" fill-opacity="0.5"/>
<ellipse cx="655.2" cy="528.0" rx="3.4" ry="1.0" transform="rotate(81 654.9 528.0)" fill="#fff6e0" fill-opacity="0.5"/>
<ellipse cx="655.7" cy="513.4" rx="4.4" ry="0.8" transform="rotate(107 655.8 513.4)" fill="#fff6e0" fill-opacity="0.5"/>
<polygon points="687.2,482.5 682.0,484.7 677.2,487.0 672.7,489.5 668.7,492.2 665.1,495.0 661.8,498.0 659.0,501.2 656.6,504.6 654.7,508.2 653.3,511.9 652.5,515.7 652.1,519.6 652.3,523.5 653.0,527.4 654.3,531.3 656.3,535.1 656.9,534.9 656.7,530.8 656.5,527.0 656.6,523.4 657.0,520.0 657.7,516.7 658.6,513.6 659.8,510.5 661.4,507.4 663.2,504.3 665.5,501.3 668.1,498.2 671.1,495.1 674.6,492.1 678.4,489.1 682.7,486.1 687.4,483.1" fill="url(#spk)"/></g>
<g><polygon points="689.5,487.3 684.3,490.5 679.6,493.8 675.5,497.1 671.9,500.6 668.9,504.1 666.4,507.8 664.6,511.6 663.3,515.4 662.7,519.4 662.9,523.3 663.7,527.2 665.2,531.0 667.4,534.7 670.2,538.1 673.6,541.3 677.7,544.2 678.1,543.8 675.4,539.7 673.0,536.0 671.1,532.5 669.8,529.1 668.9,525.9 668.4,522.8 668.3,519.7 668.7,516.6 669.5,513.4 670.7,510.0 672.5,506.6 674.9,503.0 677.8,499.3 681.2,495.6 685.3,491.7 689.9,487.7" fill="#c9966f" fill-opacity="0.92" stroke="#f6e6d8" stroke-width="0.8"/>
<ellipse cx="666.2" cy="515.1" rx="2.6" ry="0.8" transform="rotate(104 666.2 515.1)" fill="#7a4a30" fill-opacity="0.45"/>
<ellipse cx="672.7" cy="538.3" rx="5.8" ry="1.2" transform="rotate(51 672.5 538.3)" fill="#7a4a30" fill-opacity="0.45"/>
<ellipse cx="668.4" cy="531.4" rx="5.6" ry="0.8" transform="rotate(64 668.1 531.4)" fill="#7a4a30" fill-opacity="0.45"/>
<ellipse cx="665.6" cy="524.1" rx="4.9" ry="0.9" transform="rotate(81 665.8 524.1)" fill="#7a4a30" fill-opacity="0.45"/>
<ellipse cx="665.8" cy="519.8" rx="4.7" ry="0.9" transform="rotate(92 665.5 519.8)" fill="#fff6e0" fill-opacity="0.5"/>
<ellipse cx="665.5" cy="518.9" rx="5.8" ry="0.9" transform="rotate(95 665.6 518.9)" fill="#fff6e0" fill-opacity="0.5"/>
<ellipse cx="668.4" cy="509.5" rx="2.9" ry="1.1" transform="rotate(116 668.3 509.5)" fill="#fff6e0" fill-opacity="0.5"/>
<polygon points="689.5,487.3 684.3,490.5 679.6,493.8 675.5,497.1 671.9,500.6 668.9,504.1 666.4,507.8 664.6,511.6 663.3,515.4 662.7,519.4 662.9,523.3 663.7,527.2 665.2,531.0 667.4,534.7 670.2,538.1 673.6,541.3 677.7,544.2 678.1,543.8 675.4,539.7 673.0,536.0 671.1,532.5 669.8,529.1 668.9,525.9 668.4,522.8 668.3,519.7 668.7,516.6 669.5,513.4 670.7,510.0 672.5,506.6 674.9,503.0 677.8,499.3 681.2,495.6 685.3,491.7 689.9,487.7" fill="url(#spk)"/></g>
<g><polygon points="689.5,489.7 685.9,491.5 682.7,493.6 679.9,496.0 677.5,498.5 675.5,501.3 674.1,504.4 673.1,507.6 672.8,511.0 673.0,514.5 673.7,518.1 675.0,521.7 676.9,525.3 679.2,528.8 682.1,532.4 685.4,535.9 689.5,539.2 689.9,538.8 687.3,534.4 684.9,530.3 682.9,526.6 681.2,523.0 680.0,519.7 679.1,516.6 678.5,513.7 678.2,511.0 678.3,508.4 678.7,505.8 679.5,503.2 680.6,500.6 682.2,498.0 684.3,495.4 686.8,492.8 689.9,490.1" fill="#c9966f" fill-opacity="0.92" stroke="#f6e6d8" stroke-width="0.8"/>
<ellipse cx="684.0" cy="532.0" rx="3.4" ry="1.1" transform="rotate(54 684.0 532.0)" fill="#7a4a30" fill-opacity="0.45"/>
<ellipse cx="675.4" cy="514.0" rx="2.9" ry="0.8" transform="rotate(82 675.7 514.0)" fill="#7a4a30" fill-opacity="0.45"/>
<ellipse cx="676.3" cy="505.1" rx="3.5" ry="0.9" transform="rotate(107 676.4 505.1)" fill="#7a4a30" fill-opacity="0.45"/>
<ellipse cx="680.1" cy="498.2" rx="5.4" ry="1.1" transform="rotate(128 680.0 498.2)" fill="#7a4a30" fill-opacity="0.45"/>
<ellipse cx="676.1" cy="515.5" rx="3.2" ry="1.2" transform="rotate(79 676.0 515.5)" fill="#fff6e0" fill-opacity="0.5"/>
<ellipse cx="675.5" cy="511.2" rx="4.6" ry="1.1" transform="rotate(89 675.5 511.2)" fill="#fff6e0" fill-opacity="0.5"/>
<ellipse cx="676.0" cy="505.7" rx="3.3" ry="1.1" transform="rotate(105 676.2 505.7)" fill="#fff6e0" fill-opacity="0.5"/>
<polygon points="689.5,489.7 685.9,491.5 682.7,493.6 679.9,496.0 677.5,498.5 675.5,501.3 674.1,504.4 673.1,507.6 672.8,511.0 673.0,514.5 673.7,518.1 675.0,521.7 676.9,525.3 679.2,528.8 682.1,532.4 685.4,535.9 689.5,539.2 689.9,538.8 687.3,534.4 684.9,530.3 682.9,526.6 681.2,523.0 680.0,519.7 679.1,516.6 678.5,513.7 678.2,511.0 678.3,508.4 678.7,505.8 679.5,503.2 680.6,500.6 682.2,498.0 684.3,495.4 686.8,492.8 689.9,490.1" fill="url(#spk)"/></g>
<g><polygon points="698.7,482.8 697.6,486.6 696.6,490.5 695.8,494.6 695.1,498.7 694.6,502.9 694.3,507.3 694.1,511.6 694.1,516.1 694.2,520.6 694.6,525.2 695.1,529.9 695.8,534.6 696.8,539.3 697.9,544.1 699.3,548.9 701.2,553.7 701.8,553.5 701.7,548.4 701.4,543.5 701.1,538.7 700.7,533.9 700.4,529.3 700.1,524.8 699.8,520.3 699.5,515.9 699.3,511.6 699.1,507.3 699.0,503.1 698.9,499.0 698.9,494.9 699.0,490.8 699.1,486.8 699.3,482.8" fill="#c9966f" fill-opacity="0.92" stroke="#f6e6d8" stroke-width="0.8"/>
<ellipse cx="696.8" cy="512.1" rx="2.5" ry="1.0" transform="rotate(89 696.7 512.1)" fill="#7a4a30" fill-opacity="0.45"/>
<ellipse cx="698.7" cy="539.1" rx="4.4" ry="1.1" transform="rotate(82 698.9 539.1)" fill="#7a4a30" fill-opacity="0.45"/>
<ellipse cx="697.1" cy="506.9" rx="3.5" ry="1.3" transform="rotate(91 696.7 506.9)" fill="#7a4a30" fill-opacity="0.45"/>
<ellipse cx="696.6" cy="500.3" rx="5.5" ry="1.0" transform="rotate(93 696.9 500.3)" fill="#7a4a30" fill-opacity="0.45"/>
<ellipse cx="697.2" cy="495.4" rx="4.0" ry="1.2" transform="rotate(95 697.3 495.4)" fill="#fff6e0" fill-opacity="0.5"/>
<ellipse cx="696.9" cy="497.8" rx="5.9" ry="1.2" transform="rotate(94 697.1 497.8)" fill="#fff6e0" fill-opacity="0.5"/>
<ellipse cx="696.8" cy="500.1" rx="3.7" ry="1.2" transform="rotate(93 697.0 500.1)" fill="#fff6e0" fill-opacity="0.5"/>
<polygon points="698.7,482.8 697.6,486.6 696.6,490.5 695.8,494.6 695.1,498.7 694.6,502.9 694.3,507.3 694.1,511.6 694.1,516.1 694.2,520.6 694.6,525.2 695.1,529.9 695.8,534.6 696.8,539.3 697.9,544.1 699.3,548.9 701.2,553.7 701.8,553.5 701.7,548.4 701.4,543.5 701.1,538.7 700.7,533.9 700.4,529.3 700.1,524.8 699.8,520.3 699.5,515.9 699.3,511.6 699.1,507.3 699.0,503.1 698.9,499.0 698.9,494.9 699.0,490.8 699.1,486.8 699.3,482.8" fill="url(#spk)"/></g>
<g><polygon points="710.6,473.2 708.5,476.7 706.7,480.4 705.1,484.1 703.8,487.9 702.7,491.9 701.9,495.8 701.4,499.9 701.2,504.0 701.2,508.2 701.6,512.3 702.3,516.5 703.2,520.7 704.5,524.9 706.2,529.1 708.1,533.2 710.6,537.1 711.2,536.9 710.4,532.3 709.5,528.0 708.7,523.8 708.1,519.7 707.5,515.7 707.1,511.7 706.8,507.8 706.6,504.0 706.6,500.2 706.8,496.4 707.0,492.6 707.5,488.8 708.1,485.0 709.0,481.2 710.0,477.3 711.2,473.4" fill="#c9966f" fill-opacity="0.92" stroke="#f6e6d8" stroke-width="0.8"/>
<ellipse cx="704.6" cy="512.0" rx="5.4" ry="1.1" transform="rotate(84 704.3 512.0)" fill="#7a4a30" fill-opacity="0.45"/>
<ellipse cx="705.4" cy="518.2" rx="5.2" ry="1.1" transform="rotate(79 705.2 518.2)" fill="#7a4a30" fill-opacity="0.45"/>
<ellipse cx="705.9" cy="520.5" rx="5.7" ry="0.8" transform="rotate(78 705.7 520.5)" fill="#7a4a30" fill-opacity="0.45"/>
<ellipse cx="706.4" cy="524.9" rx="5.2" ry="1.1" transform="rotate(75 706.8 524.9)" fill="#7a4a30" fill-opacity="0.45"/>
<ellipse cx="704.3" cy="506.1" rx="4.5" ry="1.0" transform="rotate(88 703.9 506.1)" fill="#fff6e0" fill-opacity="0.5"/>
<ellipse cx="706.0" cy="520.4" rx="4.6" ry="1.0" transform="rotate(78 705.7 520.4)" fill="#fff6e0" fill-opacity="0.5"/>
<ellipse cx="703.9" cy="503.9" rx="5.0" ry="0.9" transform="rotate(90 703.9 503.9)" fill="#fff6e0" fill-opacity="0.5"/>
<polygon points="710.6,473.2 708.5,476.7 706.7,480.4 705.1,484.1 703.8,487.9 702.7,491.9 701.9,495.8 701.4,499.9 701.2,504.0 701.2,508.2 701.6,512.3 702.3,516.5 703.2,520.7 704.5,524.9 706.2,529.1 708.1,533.2 710.6,537.1 711.2,536.9 710.4,532.3 709.5,528.0 708.7,523.8 708.1,519.7 707.5,515.7 707.1,511.7 706.8,507.8 706.6,504.0 706.6,500.2 706.8,496.4 707.0,492.6 707.5,488.8 708.1,485.0 709.0,481.2 710.0,477.3 711.2,473.4" fill="url(#spk)"/></g>
<rect x="547.5" y="445" width="170.5" height="128" fill="none" stroke="#3a3a3a" stroke-width="1.6"/>
<text x="632.5" y="438.8" font-size="9" text-anchor="middle" fill="#111">FC-SE</text>
<line x1="705.0" y1="567.0" x2="712.0" y2="567.0" stroke="#222" stroke-width="1.5"/>
<rect x="4.5" y="602" width="165.0" height="123.5" fill="#fff"/>
<g><polygon points="14.1,629.8 15.3,634.6 16.5,639.4 17.7,644.1 18.9,648.8 20.2,653.5 21.5,658.2 22.8,662.9 24.2,667.5 25.7,672.2 27.2,676.8 28.7,681.3 30.4,685.9 32.1,690.4 34.0,694.8 35.9,699.3 38.3,703.6 38.9,703.4 38.5,698.5 37.7,693.7 36.7,689.0 35.6,684.2 34.4,679.6 33.0,674.9 31.6,670.3 30.0,665.7 28.3,661.1 26.6,656.5 24.8,652.0 22.9,647.5 20.9,643.0 18.9,638.5 16.9,634.0 14.7,629.6" fill="#b5845e" fill-opacity="0.92" stroke="#f2dcc8" stroke-width="0.8"/>
<ellipse cx="26.0" cy="663.0" rx="3.8" ry="1.1" transform="rotate(72 25.9 663.0)" fill="#553420" fill-opacity="0.45"/>
<ellipse cx="33.4" cy="685.5" rx="4.2" ry="1.2" transform="rotate(73 33.1 685.5)" fill="#553420" fill-opacity="0.45"/>
<ellipse cx="21.8" cy="651.2" rx="3.0" ry="1.3" transform="rotate(71 22.0 651.2)" fill="#553420" fill-opacity="0.45"/>
<ellipse cx="29.1" cy="673.8" rx="5.7" ry="1.1" transform="rotate(72 29.4 673.8)" fill="#553420" fill-opacity="0.45"/>
<ellipse cx="34.4" cy="688.7" rx="5.9" ry="1.0" transform="rotate(73 34.1 688.7)" fill="#fff6e0" fill-opacity="0.5"/>
<ellipse cx="26.9" cy="665.0" rx="2.5" ry="0.9" transform="rotate(72 26.6 665.0)" fill="#fff6e0" fill-opacity="0.5"/>
<ellipse cx="29.1" cy="672.9" rx="5.7" ry="1.4" transform="rotate(72 29.1 672.9)" fill="#fff6e0" fill-opacity="0.5"/>
<polygon points="14.1,629.8 15.3,634.6 16.5,639.4 17.7,644.1 18.9,648.8 20.2,653.5 21.5,658.2 22.8,662.9 24.2,667.5 25.7,672.2 27.2,676.8 28.7,681.3 30.4,685.9 32.1,690.4 34.0,694.8 35.9,699.3 38.3,703.6 38.9,703.4 38.5,698.5 37.7,693.7 36.7,689.0 35.6,684.2 34.4,679.6 33.0,674.9 31.6,670.3 30.0,665.7 28.3,661.1 26.6,656.5 24.8,652.0 22.9,647.5 20.9,643.0 18.9,638.5 16.9,634.0 14.7,629.6" fill="url(#spk)"/></g>
<g><polygon points="18.7,627.5 20.2,632.6 21.8,637.7 23.3,642.7 24.8,647.8 26.4,652.8 27.9,657.9 29.5,662.9 31.1,668.0 32.8,673.0 34.5,678.1 36.2,683.1 38.0,688.1 39.9,693.1 41.8,698.2 43.9,703.2 46.3,708.1 46.9,707.9 46.4,702.4 45.5,697.1 44.4,691.8 43.2,686.5 41.8,681.3 40.3,676.2 38.6,671.1 36.9,666.0 35.0,661.0 33.0,656.1 30.9,651.1 28.8,646.3 26.5,641.5 24.2,636.7 21.8,632.0 19.3,627.3" fill="url(#g14)" fill-opacity="0.92" stroke="#f2dcc8" stroke-width="0.8"/>
<ellipse cx="36.2" cy="672.2" rx="4.3" ry="1.2" transform="rotate(72 35.8 672.2)" fill="#553420" fill-opacity="0.45"/>
<ellipse cx="38.7" cy="681.4" rx="3.8" ry="1.3" transform="rotate(72 38.8 681.4)" fill="#553420" fill-opacity="0.45"/>
<ellipse cx="32.1" cy="660.6" rx="4.9" ry="1.2" transform="rotate(71 31.8 660.6)" fill="#553420" fill-opacity="0.45"/>
<ellipse cx="26.0" cy="645.1" rx="3.9" ry="1.2" transform="rotate(69 26.1 645.1)" fill="#553420" fill-opacity="0.45"/>
<ellipse cx="36.8" cy="674.4" rx="5.9" ry="1.2" transform="rotate(72 36.5 674.4)" fill="#fff6e0" fill-opacity="0.5"/>
<ellipse cx="33.8" cy="666.1" rx="6.0" ry="1.1" transform="rotate(71 33.7 666.1)" fill="#fff6e0" fill-opacity="0.5"/>
<ellipse cx="35.9" cy="671.7" rx="3.1" ry="1.1" transform="rotate(72 35.6 671.7)" fill="#fff6e0" fill-opacity="0.5"/>
<polygon points="18.7,627.5 20.2,632.6 21.8,637.7 23.3,642.7 24.8,647.8 26.4,652.8 27.9,657.9 29.5,662.9 31.1,668.0 32.8,673.0 34.5,678.1 36.2,683.1 38.0,688.1 39.9,693.1 41.8,698.2 43.9,703.2 46.3,708.1 46.9,707.9 46.4,702.4 45.5,697.1 44.4,691.8 43.2,686.5 41.8,681.3 40.3,676.2 38.6,671.1 36.9,666.0 35.0,661.0 33.0,656.1 30.9,651.1 28.8,646.3 26.5,641.5 24.2,636.7 21.8,632.0 19.3,627.3" fill="url(#spk)"/></g>
<g><polygon points="23.3,632.2 25.0,635.7 26.7,639.3 28.3,643.0 29.8,646.8 31.3,650.7 32.8,654.7 34.3,658.8 35.7,663.0 37.2,667.4 38.7,671.8 40.2,676.4 41.7,681.1 43.3,685.9 44.9,690.8 46.6,695.9 48.7,701.1 49.3,700.9 49.3,695.4 48.7,690.0 48.0,684.8 47.0,679.7 45.9,674.8 44.6,670.0 43.1,665.4 41.5,661.0 39.7,656.7 37.8,652.6 35.7,648.7 33.5,644.9 31.3,641.4 28.9,638.0 26.4,634.8 23.9,631.8" fill="url(#g15)" fill-opacity="0.92" stroke="#f2dcc8" stroke-width="0.8"/>
<ellipse cx="47.6" cy="692.8" rx="4.3" ry="0.9" transform="rotate(78 47.3 692.8)" fill="#553420" fill-opacity="0.45"/>
<ellipse cx="46.3" cy="687.4" rx="5.4" ry="1.6" transform="rotate(77 46.1 687.4)" fill="#553420" fill-opacity="0.45"/>
<ellipse cx="46.0" cy="687.0" rx="3.0" ry="1.1" transform="rotate(77 46.1 687.0)" fill="#553420" fill-opacity="0.45"/>
<ellipse cx="39.7" cy="665.1" rx="3.2" ry="1.0" transform="rotate(71 39.7 665.1)" fill="#553420" fill-opacity="0.45"/>
<ellipse cx="42.0" cy="671.7" rx="3.7" ry="1.6" transform="rotate(73 41.9 671.7)" fill="#fff6e0" fill-opacity="0.5"/>
<ellipse cx="41.6" cy="672.0" rx="3.9" ry="1.4" transform="rotate(73 42.0 672.0)" fill="#fff6e0" fill-opacity="0.5"/>
<ellipse cx="35.8" cy="654.4" rx="2.5" ry="1.1" transform="rotate(67 35.6 654.4)" fill="#fff6e0" fill-opacity="0.5"/>
<polygon points="23.3,632.2 25.0,635.7 26.7,639.3 28.3,643.0 29.8,646.8 31.3,650.7 32.8,654.7 34.3,658.8 35.7,663.0 37.2,667.4 38.7,671.8 40.2,676.4 41.7,681.1 43.3,685.9 44.9,690.8 46.6,695.9 48.7,701.1 49.3,700.9 49.3,695.4 48.7,690.0 48.0,684.8 47.0,679.7 45.9,674.8 44.6,670.0 43.1,665.4 41.5,661.0 39.7,656.7 37.8,652.6 35.7,648.7 33.5,644.9 31.3,641.4 28.9,638.0 26.4,634.8 23.9,631.8" fill="url(#spk)"/></g>
<g><polygon points="39.4,632.2 41.6,637.0 43.7,641.7 45.7,646.3 47.6,650.8 49.4,655.2 51.1,659.5 52.7,663.7 54.2,667.7 55.6,671.7 57.0,675.5 58.3,679.2 59.6,682.8 60.8,686.4 62.0,689.8 63.3,693.2 64.8,696.5 65.4,696.5 65.9,692.8 65.8,689.1 65.5,685.3 64.8,681.4 63.9,677.5 62.8,673.5 61.4,669.5 59.8,665.5 58.0,661.4 56.0,657.3 53.8,653.1 51.4,649.0 48.8,644.7 46.0,640.5 43.1,636.2 40.0,631.8" fill="url(#g16)" fill-opacity="0.92" stroke="#f2dcc8" stroke-width="0.8"/>
<ellipse cx="63.0" cy="685.0" rx="4.8" ry="1.0" transform="rotate(76 62.9 685.0)" fill="#553420" fill-opacity="0.45"/>
<ellipse cx="57.9" cy="668.7" rx="3.4" ry="1.3" transform="rotate(69 57.8 668.7)" fill="#553420" fill-opacity="0.45"/>
<ellipse cx="58.9" cy="670.4" rx="4.5" ry="1.1" transform="rotate(70 58.4 670.4)" fill="#553420" fill-opacity="0.45"/>
<ellipse cx="49.0" cy="649.4" rx="5.2" ry="0.9" transform="rotate(63 49.3 649.4)" fill="#553420" fill-opacity="0.45"/>
<ellipse cx="48.4" cy="648.3" rx="4.3" ry="1.4" transform="rotate(63 48.7 648.3)" fill="#fff6e0" fill-opacity="0.5"/>
<ellipse cx="60.1" cy="674.3" rx="2.7" ry="0.8" transform="rotate(71 59.8 674.3)" fill="#fff6e0" fill-opacity="0.5"/>
<ellipse cx="61.9" cy="681.7" rx="5.0" ry="1.1" transform="rotate(75 62.1 681.7)" fill="#fff6e0" fill-opacity="0.5"/>
<polygon points="39.4,632.2 41.6,637.0 43.7,641.7 45.7,646.3 47.6,650.8 49.4,655.2 51.1,659.5 52.7,663.7 54.2,667.7 55.6,671.7 57.0,675.5 58.3,679.2 59.6,682.8 60.8,686.4 62.0,689.8 63.3,693.2 64.8,696.5 65.4,696.5 65.9,692.8 65.8,689.1 65.5,685.3 64.8,681.4 63.9,677.5 62.8,673.5 61.4,669.5 59.8,665.5 58.0,661.4 56.0,657.3 53.8,653.1 51.4,649.0 48.8,644.7 46.0,640.5 43.1,636.2 40.0,631.8" fill="url(#spk)"/></g>
<g><polygon points="52.1,632.1 53.3,637.3 54.5,642.3 55.7,647.4 56.8,652.3 57.9,657.3 58.9,662.1 60.0,667.0 61.0,671.7 62.1,676.4 63.2,681.1 64.2,685.7 65.4,690.2 66.5,694.8 67.7,699.2 69.0,703.7 70.6,708.0 71.2,708.0 71.6,703.3 71.5,698.6 71.2,694.0 70.7,689.3 70.0,684.5 69.2,679.8 68.1,675.0 67.0,670.3 65.6,665.5 64.1,660.7 62.5,655.9 60.8,651.2 58.9,646.4 57.0,641.5 54.9,636.7 52.7,631.9" fill="url(#g17)" fill-opacity="0.92" stroke="#f2dcc8" stroke-width="0.8"/>
<ellipse cx="59.3" cy="654.1" rx="2.8" ry="1.5" transform="rotate(74 59.5 654.1)" fill="#553420" fill-opacity="0.45"/>
<ellipse cx="65.6" cy="678.4" rx="4.1" ry="1.1" transform="rotate(78 65.7 678.4)" fill="#553420" fill-opacity="0.45"/>
<ellipse cx="57.7" cy="647.2" rx="4.5" ry="1.5" transform="rotate(73 57.4 647.2)" fill="#553420" fill-opacity="0.45"/>
<ellipse cx="63.9" cy="670.1" rx="3.4" ry="0.9" transform="rotate(76 63.8 670.1)" fill="#553420" fill-opacity="0.45"/>
<ellipse cx="69.8" cy="698.3" rx="3.6" ry="1.5" transform="rotate(81 69.5 698.3)" fill="#fff6e0" fill-opacity="0.5"/>
<ellipse cx="68.3" cy="691.8" rx="4.6" ry="1.5" transform="rotate(80 68.4 691.8)" fill="#fff6e0" fill-opacity="0.5"/>
<ellipse cx="65.0" cy="673.4" rx="3.4" ry="1.1" transform="rotate(77 64.6 673.4)" fill="#fff6e0" fill-opacity="0.5"/>
<polygon points="52.1,632.1 53.3,637.3 54.5,642.3 55.7,647.4 56.8,652.3 57.9,657.3 58.9,662.1 60.0,667.0 61.0,671.7 62.1,676.4 63.2,681.1 64.2,685.7 65.4,690.2 66.5,694.8 67.7,699.2 69.0,703.7 70.6,708.0 71.2,708.0 71.6,703.3 71.5,698.6 71.2,694.0 70.7,689.3 70.0,684.5 69.2,679.8 68.1,675.0 67.0,670.3 65.6,665.5 64.1,660.7 62.5,655.9 60.8,651.2 58.9,646.4 57.0,641.5 54.9,636.7 52.7,631.9" fill="url(#spk)"/></g>
<g><polygon points="55.6,627.5 57.4,631.9 59.1,636.2 60.8,640.7 62.3,645.3 63.8,650.0 65.3,654.8 66.6,659.8 68.0,664.8 69.3,670.0 70.6,675.3 71.8,680.7 73.1,686.3 74.4,692.0 75.6,697.9 77.0,703.9 78.6,710.0 79.2,710.0 79.6,703.6 79.5,697.4 79.1,691.3 78.5,685.4 77.6,679.6 76.6,673.9 75.3,668.5 73.8,663.2 72.2,658.1 70.4,653.1 68.4,648.3 66.2,643.7 63.9,639.3 61.5,635.1 58.9,631.1 56.2,627.3" fill="#b5845e" fill-opacity="0.92" stroke="#f2dcc8" stroke-width="0.8"/>
<ellipse cx="74.8" cy="681.6" rx="3.6" ry="1.5" transform="rotate(79 75.0 681.6)" fill="#553420" fill-opacity="0.45"/>
<ellipse cx="71.7" cy="665.9" rx="3.4" ry="1.0" transform="rotate(75 71.4 665.9)" fill="#553420" fill-opacity="0.45"/>
<ellipse cx="68.9" cy="658.0" rx="5.9" ry="1.1" transform="rotate(73 69.1 658.0)" fill="#553420" fill-opacity="0.45"/>
<ellipse cx="72.4" cy="670.9" rx="4.4" ry="1.1" transform="rotate(76 72.7 670.9)" fill="#553420" fill-opacity="0.45"/>
<ellipse cx="69.6" cy="660.8" rx="2.9" ry="1.4" transform="rotate(73 70.0 660.8)" fill="#fff6e0" fill-opacity="0.5"/>
<ellipse cx="68.8" cy="657.5" rx="3.2" ry="1.0" transform="rotate(72 69.0 657.5)" fill="#fff6e0" fill-opacity="0.5"/>
<ellipse cx="66.3" cy="650.7" rx="4.8" ry="1.1" transform="rotate(70 66.7 650.7)" fill="#fff6e0" fill-opacity="0.5"/>
<polygon points="55.6,627.5 57.4,631.9 59.1,636.2 60.8,640.7 62.3,645.3 63.8,650.0 65.3,654.8 66.6,659.8 68.0,664.8 69.3,670.0 70.6,675.3 71.8,680.7 73.1,686.3 74.4,692.0 75.6,697.9 77.0,703.9 78.6,710.0 79.2,710.0 79.6,703.6 79.5,697.4 79.1,691.3 78.5,685.4 77.6,679.6 76.6,673.9 75.3,668.5 73.8,663.2 72.2,658.1 70.4,653.1 68.4,648.3 66.2,643.7 63.9,639.3 61.5,635.1 58.9,631.1 56.2,627.3" fill="url(#spk)"/></g>
<g><polygon points="58.0,629.9 60.4,634.2 62.6,638.5 64.7,642.7 66.6,646.9 68.3,651.0 69.9,655.0 71.3,659.0 72.6,663.0 73.8,666.9 74.8,670.7 75.8,674.6 76.7,678.4 77.4,682.3 78.1,686.1 78.8,690.0 79.7,694.0 80.3,694.0 81.5,690.0 82.0,685.9 82.2,681.8 82.0,677.7 81.6,673.5 80.8,669.3 79.7,665.2 78.4,661.0 76.7,656.9 74.8,652.9 72.7,648.9 70.3,644.9 67.7,641.0 64.8,637.1 61.8,633.3 58.4,629.5" fill="url(#g18)" fill-opacity="0.92" stroke="#f2dcc8" stroke-width="0.8"/>
<ellipse cx="69.3" cy="647.2" rx="2.8" ry="1.0" transform="rotate(63 69.1 647.2)" fill="#553420" fill-opacity="0.45"/>
<ellipse cx="79.4" cy="680.8" rx="4.1" ry="1.4" transform="rotate(84 79.7 680.8)" fill="#553420" fill-opacity="0.45"/>
<ellipse cx="79.2" cy="679.3" rx="3.7" ry="1.4" transform="rotate(83 79.5 679.3)" fill="#553420" fill-opacity="0.45"/>
<ellipse cx="74.5" cy="658.2" rx="3.2" ry="1.5" transform="rotate(69 74.1 658.2)" fill="#553420" fill-opacity="0.45"/>
<ellipse cx="76.1" cy="664.5" rx="4.1" ry="0.9" transform="rotate(73 76.3 664.5)" fill="#fff6e0" fill-opacity="0.5"/>
<ellipse cx="78.6" cy="674.5" rx="5.6" ry="1.3" transform="rotate(80 78.8 674.5)" fill="#fff6e0" fill-opacity="0.5"/>
<ellipse cx="73.7" cy="657.7" rx="4.6" ry="1.0" transform="rotate(69 73.9 657.7)" fill="#fff6e0" fill-opacity="0.5"/>
<polygon points="58.0,629.9 60.4,634.2 62.6,638.5 64.7,642.7 66.6,646.9 68.3,651.0 69.9,655.0 71.3,659.0 72.6,663.0 73.8,666.9 74.8,670.7 75.8,674.6 76.7,678.4 77.4,682.3 78.1,686.1 78.8,690.0 79.7,694.0 80.3,694.0 81.5,690.0 82.0,685.9 82.2,681.8 82.0,677.7 81.6,673.5 80.8,669.3 79.7,665.2 78.4,661.0 76.7,656.9 74.8,652.9 72.7,648.9 70.3,644.9 67.7,641.0 64.8,637.1 61.8,633.3 58.4,629.5" fill="url(#spk)"/></g>
<g><polygon points="79.7,611.1 81.4,615.3 83.0,619.5 84.5,623.7 86.0,627.8 87.4,632.0 88.7,636.1 89.9,640.3 91.1,644.4 92.3,648.5 93.4,652.7 94.5,656.8 95.6,661.0 96.7,665.2 97.9,669.5 99.0,673.7 100.5,678.0 101.1,678.0 101.7,673.4 101.7,668.9 101.4,664.4 101.0,660.0 100.3,655.6 99.4,651.2 98.2,646.9 96.9,642.6 95.4,638.4 93.7,634.3 91.8,630.2 89.8,626.2 87.7,622.2 85.3,618.4 82.9,614.6 80.3,610.9" fill="#b5845e" fill-opacity="0.92" stroke="#f2dcc8" stroke-width="0.8"/>
<ellipse cx="98.9" cy="665.5" rx="4.3" ry="1.2" transform="rotate(81 99.2 665.5)" fill="#553420" fill-opacity="0.45"/>
<ellipse cx="91.0" cy="634.1" rx="3.8" ry="1.3" transform="rotate(69 90.8 634.1)" fill="#553420" fill-opacity="0.45"/>
<ellipse cx="95.5" cy="649.4" rx="3.9" ry="0.9" transform="rotate(75 95.7 649.4)" fill="#553420" fill-opacity="0.45"/>
<ellipse cx="89.2" cy="629.4" rx="3.6" ry="1.3" transform="rotate(68 88.9 629.4)" fill="#553420" fill-opacity="0.45"/>
<ellipse cx="87.5" cy="626.0" rx="3.8" ry="1.2" transform="rotate(66 87.4 626.0)" fill="#fff6e0" fill-opacity="0.5"/>
<ellipse cx="90.9" cy="635.4" rx="3.6" ry="1.0" transform="rotate(70 91.3 635.4)" fill="#fff6e0" fill-opacity="0.5"/>
<ellipse cx="88.0" cy="626.8" rx="3.5" ry="1.1" transform="rotate(67 87.8 626.8)" fill="#fff6e0" fill-opacity="0.5"/>
<polygon points="79.7,611.1 81.4,615.3 83.0,619.5 84.5,623.7 86.0,627.8 87.4,632.0 88.7,636.1 89.9,640.3 91.1,644.4 92.3,648.5 93.4,652.7 94.5,656.8 95.6,661.0 96.7,665.2 97.9,669.5 99.0,673.7 100.5,678.0 101.1,678.0 101.7,673.4 101.7,668.9 101.4,664.4 101.0,660.0 100.3,655.6 99.4,651.2 98.2,646.9 96.9,642.6 95.4,638.4 93.7,634.3 91.8,630.2 89.8,626.2 87.7,622.2 85.3,618.4 82.9,614.6 80.3,610.9" fill="url(#spk)"/></g>
<g><polygon points="79.7,623.1 80.7,627.5 81.7,631.8 82.7,636.1 83.5,640.5 84.3,644.8 85.0,649.2 85.7,653.5 86.3,657.9 86.9,662.3 87.5,666.7 88.0,671.1 88.6,675.6 89.2,680.1 89.7,684.7 90.4,689.3 91.3,694.0 91.9,694.0 93.0,689.3 93.6,684.6 93.9,679.9 94.0,675.3 93.9,670.6 93.6,666.0 93.0,661.4 92.3,656.9 91.4,652.4 90.3,648.0 89.0,643.7 87.5,639.4 86.0,635.2 84.2,631.0 82.3,626.9 80.3,622.9" fill="url(#g19)" fill-opacity="0.92" stroke="#f2dcc8" stroke-width="0.8"/>
<ellipse cx="91.9" cy="682.8" rx="5.6" ry="1.5" transform="rotate(89 91.6 682.8)" fill="#553420" fill-opacity="0.45"/>
<ellipse cx="85.4" cy="640.0" rx="2.6" ry="1.3" transform="rotate(75 85.6 640.0)" fill="#553420" fill-opacity="0.45"/>
<ellipse cx="90.7" cy="668.9" rx="3.9" ry="1.3" transform="rotate(84 90.8 668.9)" fill="#553420" fill-opacity="0.45"/>
<ellipse cx="90.8" cy="670.9" rx="5.5" ry="1.1" transform="rotate(85 91.0 670.9)" fill="#553420" fill-opacity="0.45"/>
<ellipse cx="90.3" cy="667.0" rx="2.9" ry="1.5" transform="rotate(84 90.6 667.0)" fill="#fff6e0" fill-opacity="0.5"/>
<ellipse cx="91.3" cy="672.9" rx="2.6" ry="0.9" transform="rotate(86 91.1 672.9)" fill="#fff6e0" fill-opacity="0.5"/>
<ellipse cx="85.7" cy="641.6" rx="3.6" ry="1.1" transform="rotate(75 86.0 641.6)" fill="#fff6e0" fill-opacity="0.5"/>
<polygon points="79.7,623.1 80.7,627.5 81.7,631.8 82.7,636.1 83.5,640.5 84.3,644.8 85.0,649.2 85.7,653.5 86.3,657.9 86.9,662.3 87.5,666.7 88.0,671.1 88.6,675.6 89.2,680.1 89.7,684.7 90.4,689.3 91.3,694.0 91.9,694.0 93.0,689.3 93.6,684.6 93.9,679.9 94.0,675.3 93.9,670.6 93.6,666.0 93.0,661.4 92.3,656.9 91.4,652.4 90.3,648.0 89.0,643.7 87.5,639.4 86.0,635.2 84.2,631.0 82.3,626.9 80.3,622.9" fill="url(#spk)"/></g>
<g><polygon points="83.3,613.7 86.1,616.8 88.5,620.1 90.5,623.8 92.1,627.8 93.4,632.3 94.4,637.1 95.1,642.4 95.5,648.2 95.6,654.4 95.4,661.2 95.0,668.4 94.2,676.2 93.2,684.4 92.0,693.2 90.5,702.6 89.0,712.5 89.6,712.7 93.1,703.2 95.8,694.0 97.9,685.3 99.6,676.9 100.8,669.0 101.5,661.5 101.8,654.4 101.5,647.8 100.8,641.7 99.6,636.0 98.0,630.8 95.9,626.2 93.4,622.0 90.5,618.5 87.3,615.6 83.7,613.3" fill="#b5845e" fill-opacity="0.92" stroke="#f2dcc8" stroke-width="0.8"/>
<ellipse cx="91.5" cy="622.5" rx="4.7" ry="1.0" transform="rotate(59 91.7 622.5)" fill="#553420" fill-opacity="0.45"/>
<ellipse cx="96.0" cy="682.7" rx="5.0" ry="1.0" transform="rotate(100 96.0 682.7)" fill="#553420" fill-opacity="0.45"/>
<ellipse cx="98.6" cy="646.5" rx="3.7" ry="0.8" transform="rotate(86 98.4 646.5)" fill="#553420" fill-opacity="0.45"/>
<ellipse cx="96.3" cy="682.1" rx="3.5" ry="0.9" transform="rotate(100 96.1 682.1)" fill="#553420" fill-opacity="0.45"/>
<ellipse cx="95.8" cy="684.2" rx="2.7" ry="1.0" transform="rotate(100 95.7 684.2)" fill="#fff6e0" fill-opacity="0.5"/>
<ellipse cx="93.8" cy="626.0" rx="3.2" ry="1.5" transform="rotate(65 93.6 626.0)" fill="#fff6e0" fill-opacity="0.5"/>
<ellipse cx="97.0" cy="673.6" rx="4.9" ry="1.1" transform="rotate(97 97.3 673.6)" fill="#fff6e0" fill-opacity="0.5"/>
<polygon points="83.3,613.7 86.1,616.8 88.5,620.1 90.5,623.8 92.1,627.8 93.4,632.3 94.4,637.1 95.1,642.4 95.5,648.2 95.6,654.4 95.4,661.2 95.0,668.4 94.2,676.2 93.2,684.4 92.0,693.2 90.5,702.6 89.0,712.5 89.6,712.7 93.1,703.2 95.8,694.0 97.9,685.3 99.6,676.9 100.8,669.0 101.5,661.5 101.8,654.4 101.5,647.8 100.8,641.7 99.6,636.0 98.0,630.8 95.9,626.2 93.4,622.0 90.5,618.5 87.3,615.6 83.7,613.3" fill="url(#spk)"/></g>
<g><polygon points="105.1,648.0 104.6,651.3 104.1,654.6 103.6,658.1 102.9,661.7 102.3,665.4 101.6,669.3 100.8,673.3 100.0,677.5 99.2,681.8 98.4,686.3 97.5,690.9 96.7,695.8 95.8,700.8 95.0,705.9 94.2,711.3 93.7,716.9 94.3,717.1 96.8,712.0 98.7,706.9 100.5,701.9 102.0,697.0 103.3,692.2 104.4,687.5 105.3,682.9 106.0,678.5 106.5,674.2 106.9,670.0 107.1,665.9 107.1,662.0 107.0,658.3 106.7,654.7 106.3,651.3 105.7,648.0" fill="url(#g20)" fill-opacity="0.92" stroke="#f2dcc8" stroke-width="0.8"/>
<ellipse cx="100.0" cy="694.5" rx="3.5" ry="0.9" transform="rotate(103 99.8 694.5)" fill="#553420" fill-opacity="0.45"/>
<ellipse cx="96.7" cy="706.7" rx="5.8" ry="1.3" transform="rotate(105 96.8 706.7)" fill="#553420" fill-opacity="0.45"/>
<ellipse cx="100.2" cy="694.0" rx="4.7" ry="1.2" transform="rotate(103 99.9 694.0)" fill="#553420" fill-opacity="0.45"/>
<ellipse cx="105.4" cy="658.4" rx="4.0" ry="1.2" transform="rotate(93 105.3 658.4)" fill="#553420" fill-opacity="0.45"/>
<ellipse cx="96.8" cy="705.6" rx="5.2" ry="0.9" transform="rotate(104 97.1 705.6)" fill="#fff6e0" fill-opacity="0.5"/>
<ellipse cx="100.6" cy="691.8" rx="3.4" ry="1.2" transform="rotate(102 100.3 691.8)" fill="#fff6e0" fill-opacity="0.5"/>
<ellipse cx="96.5" cy="708.2" rx="4.4" ry="1.0" transform="rotate(105 96.4 708.2)" fill="#fff6e0" fill-opacity="0.5"/>
<polygon points="105.1,648.0 104.6,651.3 104.1,654.6 103.6,658.1 102.9,661.7 102.3,665.4 101.6,669.3 100.8,673.3 100.0,677.5 99.2,681.8 98.4,686.3 97.5,690.9 96.7,695.8 95.8,700.8 95.0,705.9 94.2,711.3 93.7,716.9 94.3,717.1 96.8,712.0 98.7,706.9 100.5,701.9 102.0,697.0 103.3,692.2 104.4,687.5 105.3,682.9 106.0,678.5 106.5,674.2 106.9,670.0 107.1,665.9 107.1,662.0 107.0,658.3 106.7,654.7 106.3,651.3 105.7,648.0" fill="url(#spk)"/></g>
<g><polygon points="109.7,636.7 110.5,640.7 111.1,644.8 111.4,648.8 111.4,653.0 111.3,657.2 110.9,661.5 110.2,665.9 109.4,670.5 108.4,675.1 107.1,679.9 105.7,684.9 104.1,690.1 102.3,695.4 100.2,701.0 98.1,706.7 95.9,712.9 96.5,713.1 100.4,707.9 103.7,702.6 106.6,697.3 109.2,692.0 111.3,686.8 113.0,681.6 114.4,676.5 115.4,671.5 116.0,666.6 116.2,661.9 116.1,657.2 115.6,652.7 114.8,648.4 113.6,644.2 112.1,640.2 110.3,636.5" fill="#b5845e" fill-opacity="0.92" stroke="#f2dcc8" stroke-width="0.8"/>
<ellipse cx="113.0" cy="649.2" rx="3.9" ry="1.0" transform="rotate(83 113.2 649.2)" fill="#553420" fill-opacity="0.45"/>
<ellipse cx="113.2" cy="662.7" rx="5.0" ry="1.3" transform="rotate(94 113.5 662.7)" fill="#553420" fill-opacity="0.45"/>
<ellipse cx="113.4" cy="658.7" rx="4.3" ry="1.2" transform="rotate(91 113.7 658.7)" fill="#553420" fill-opacity="0.45"/>
<ellipse cx="102.1" cy="701.4" rx="3.5" ry="1.5" transform="rotate(115 102.2 701.4)" fill="#553420" fill-opacity="0.45"/>
<ellipse cx="113.6" cy="653.5" rx="3.7" ry="1.4" transform="rotate(87 113.6 653.5)" fill="#fff6e0" fill-opacity="0.5"/>
<ellipse cx="111.4" cy="676.6" rx="3.1" ry="1.3" transform="rotate(104 111.2 676.6)" fill="#fff6e0" fill-opacity="0.5"/>
<ellipse cx="110.4" cy="679.7" rx="5.2" ry="1.4" transform="rotate(105 110.4 679.7)" fill="#fff6e0" fill-opacity="0.5"/>
<polygon points="109.7,636.7 110.5,640.7 111.1,644.8 111.4,648.8 111.4,653.0 111.3,657.2 110.9,661.5 110.2,665.9 109.4,670.5 108.4,675.1 107.1,679.9 105.7,684.9 104.1,690.1 102.3,695.4 100.2,701.0 98.1,706.7 95.9,712.9 96.5,713.1 100.4,707.9 103.7,702.6 106.6,697.3 109.2,692.0 111.3,686.8 113.0,681.6 114.4,676.5 115.4,671.5 116.0,666.6 116.2,661.9 116.1,657.2 115.6,652.7 114.8,648.4 113.6,644.2 112.1,640.2 110.3,636.5" fill="url(#spk)"/></g>
<g><polygon points="116.7,639.0 115.8,642.6 115.0,646.4 114.1,650.2 113.2,654.1 112.3,658.0 111.4,662.1 110.4,666.2 109.4,670.4 108.5,674.7 107.5,679.1 106.6,683.6 105.7,688.2 104.8,692.9 103.9,697.8 103.2,702.7 102.7,707.9 103.3,708.1 105.7,703.5 107.7,698.8 109.4,694.2 110.9,689.5 112.3,685.0 113.5,680.5 114.5,676.0 115.4,671.6 116.1,667.3 116.6,663.0 117.1,658.8 117.4,654.7 117.5,650.6 117.6,646.7 117.5,642.8 117.3,639.0" fill="#b5845e" fill-opacity="0.92" stroke="#f2dcc8" stroke-width="0.8"/>
<ellipse cx="115.2" cy="653.6" rx="3.8" ry="1.0" transform="rotate(98 115.4 653.6)" fill="#553420" fill-opacity="0.45"/>
<ellipse cx="115.6" cy="651.0" rx="3.2" ry="1.4" transform="rotate(97 115.8 651.0)" fill="#553420" fill-opacity="0.45"/>
<ellipse cx="112.1" cy="670.7" rx="3.6" ry="1.2" transform="rotate(101 112.5 670.7)" fill="#553420" fill-opacity="0.45"/>
<ellipse cx="113.1" cy="666.2" rx="2.8" ry="0.8" transform="rotate(101 113.3 666.2)" fill="#553420" fill-opacity="0.45"/>
<ellipse cx="105.2" cy="701.3" rx="2.8" ry="1.4" transform="rotate(106 105.0 701.3)" fill="#fff6e0" fill-opacity="0.5"/>
<ellipse cx="105.2" cy="700.6" rx="2.9" ry="1.2" transform="rotate(106 105.2 700.6)" fill="#fff6e0" fill-opacity="0.5"/>
<ellipse cx="112.4" cy="669.9" rx="4.4" ry="0.8" transform="rotate(101 112.6 669.9)" fill="#fff6e0" fill-opacity="0.5"/>
<polygon points="116.7,639.0 115.8,642.6 115.0,646.4 114.1,650.2 113.2,654.1 112.3,658.0 111.4,662.1 110.4,666.2 109.4,670.4 108.5,674.7 107.5,679.1 106.6,683.6 105.7,688.2 104.8,692.9 103.9,697.8 103.2,702.7 102.7,707.9 103.3,708.1 105.7,703.5 107.7,698.8 109.4,694.2 110.9,689.5 112.3,685.0 113.5,680.5 114.5,676.0 115.4,671.6 116.1,667.3 116.6,663.0 117.1,658.8 117.4,654.7 117.5,650.6 117.6,646.7 117.5,642.8 117.3,639.0" fill="url(#spk)"/></g>
<g><polygon points="142.1,610.8 138.0,614.8 134.3,619.1 130.9,623.4 127.8,627.9 125.0,632.5 122.6,637.3 120.5,642.2 118.7,647.1 117.3,652.3 116.3,657.5 115.7,662.7 115.4,668.1 115.6,673.5 116.2,678.9 117.3,684.3 119.0,689.6 119.6,689.6 119.9,684.0 120.1,678.7 120.4,673.5 120.9,668.4 121.5,663.4 122.3,658.5 123.3,653.6 124.5,648.9 125.9,644.1 127.5,639.4 129.4,634.6 131.5,629.9 133.8,625.3 136.5,620.6 139.4,615.9 142.5,611.2" fill="url(#g21)" fill-opacity="0.92" stroke="#f2dcc8" stroke-width="0.8"/>
<ellipse cx="118.2" cy="677.3" rx="4.7" ry="1.5" transform="rotate(88 118.1 677.3)" fill="#553420" fill-opacity="0.45"/>
<ellipse cx="118.7" cy="660.2" rx="3.4" ry="0.9" transform="rotate(98 118.9 660.2)" fill="#553420" fill-opacity="0.45"/>
<ellipse cx="133.4" cy="623.2" rx="5.4" ry="1.1" transform="rotate(123 133.1 623.2)" fill="#553420" fill-opacity="0.45"/>
<ellipse cx="128.1" cy="632.1" rx="5.5" ry="1.5" transform="rotate(117 127.9 632.1)" fill="#553420" fill-opacity="0.45"/>
<ellipse cx="128.7" cy="631.1" rx="5.4" ry="1.4" transform="rotate(118 128.5 631.1)" fill="#fff6e0" fill-opacity="0.5"/>
<ellipse cx="124.0" cy="640.4" rx="5.4" ry="1.1" transform="rotate(111 124.2 640.4)" fill="#fff6e0" fill-opacity="0.5"/>
<ellipse cx="123.3" cy="642.8" rx="3.8" ry="1.4" transform="rotate(110 123.3 642.8)" fill="#fff6e0" fill-opacity="0.5"/>
<polygon points="142.1,610.8 138.0,614.8 134.3,619.1 130.9,623.4 127.8,627.9 125.0,632.5 122.6,637.3 120.5,642.2 118.7,647.1 117.3,652.3 116.3,657.5 115.7,662.7 115.4,668.1 115.6,673.5 116.2,678.9 117.3,684.3 119.0,689.6 119.6,689.6 119.9,684.0 120.1,678.7 120.4,673.5 120.9,668.4 121.5,663.4 122.3,658.5 123.3,653.6 124.5,648.9 125.9,644.1 127.5,639.4 129.4,634.6 131.5,629.9 133.8,625.3 136.5,620.6 139.4,615.9 142.5,611.2" fill="url(#spk)"/></g>
<g><polygon points="135.1,629.6 133.4,634.5 131.7,639.5 130.1,644.5 128.6,649.6 127.2,654.7 125.8,659.9 124.5,665.1 123.2,670.4 122.1,675.8 121.1,681.2 120.1,686.6 119.3,692.2 118.7,697.8 118.1,703.4 117.7,709.1 117.8,715.0 118.4,715.0 120.4,709.6 121.9,704.1 123.4,698.6 124.7,693.2 125.9,687.7 127.1,682.3 128.2,677.0 129.2,671.6 130.1,666.3 131.0,661.0 131.9,655.7 132.7,650.5 133.5,645.3 134.3,640.1 135.0,634.9 135.7,629.8" fill="url(#g22)" fill-opacity="0.92" stroke="#f2dcc8" stroke-width="0.8"/>
<ellipse cx="128.7" cy="657.0" rx="4.5" ry="1.3" transform="rotate(102 129.1 657.0)" fill="#553420" fill-opacity="0.45"/>
<ellipse cx="121.7" cy="695.4" rx="5.7" ry="1.5" transform="rotate(100 121.5 695.4)" fill="#553420" fill-opacity="0.45"/>
<ellipse cx="125.7" cy="673.6" rx="3.1" ry="1.1" transform="rotate(101 125.7 673.6)" fill="#553420" fill-opacity="0.45"/>
<ellipse cx="124.2" cy="679.4" rx="4.9" ry="1.0" transform="rotate(101 124.5 679.4)" fill="#553420" fill-opacity="0.45"/>
<ellipse cx="126.7" cy="670.3" rx="2.8" ry="0.9" transform="rotate(102 126.4 670.3)" fill="#fff6e0" fill-opacity="0.5"/>
<ellipse cx="126.1" cy="670.0" rx="5.0" ry="0.8" transform="rotate(102 126.4 670.0)" fill="#fff6e0" fill-opacity="0.5"/>
<ellipse cx="121.5" cy="696.8" rx="5.3" ry="1.1" transform="rotate(100 121.2 696.8)" fill="#fff6e0" fill-opacity="0.5"/>
<polygon points="135.1,629.6 133.4,634.5 131.7,639.5 130.1,644.5 128.6,649.6 127.2,654.7 125.8,659.9 124.5,665.1 123.2,670.4 122.1,675.8 121.1,681.2 120.1,686.6 119.3,692.2 118.7,697.8 118.1,703.4 117.7,709.1 117.8,715.0 118.4,715.0 120.4,709.6 121.9,704.1 123.4,698.6 124.7,693.2 125.9,687.7 127.1,682.3 128.2,677.0 129.2,671.6 130.1,666.3 131.0,661.0 131.9,655.7 132.7,650.5 133.5,645.3 134.3,640.1 135.0,634.9 135.7,629.8" fill="url(#spk)"/></g>
<g><polygon points="146.7,647.9 144.9,650.9 143.1,654.2 141.3,657.6 139.5,661.1 137.8,664.8 136.0,668.7 134.3,672.7 132.5,677.0 130.9,681.3 129.3,685.9 127.7,690.6 126.2,695.5 124.8,700.5 123.4,705.8 122.2,711.2 121.3,716.9 121.9,717.1 124.7,712.1 127.1,707.0 129.3,702.1 131.3,697.3 133.3,692.6 135.0,687.9 136.7,683.4 138.3,679.0 139.7,674.8 141.0,670.6 142.3,666.6 143.4,662.6 144.5,658.8 145.5,655.1 146.5,651.6 147.3,648.1" fill="#b5845e" fill-opacity="0.92" stroke="#f2dcc8" stroke-width="0.8"/>
<ellipse cx="138.8" cy="669.2" rx="4.3" ry="1.1" transform="rotate(111 138.7 669.2)" fill="#553420" fill-opacity="0.45"/>
<ellipse cx="137.6" cy="672.0" rx="4.8" ry="1.4" transform="rotate(111 137.6 672.0)" fill="#553420" fill-opacity="0.45"/>
<ellipse cx="125.8" cy="704.0" rx="3.5" ry="1.2" transform="rotate(109 126.1 704.0)" fill="#553420" fill-opacity="0.45"/>
<ellipse cx="133.1" cy="683.9" rx="3.2" ry="0.9" transform="rotate(110 133.2 683.9)" fill="#553420" fill-opacity="0.45"/>
<ellipse cx="137.9" cy="671.2" rx="5.9" ry="1.5" transform="rotate(111 137.9 671.2)" fill="#fff6e0" fill-opacity="0.5"/>
<ellipse cx="127.3" cy="701.6" rx="5.9" ry="1.3" transform="rotate(109 126.9 701.6)" fill="#fff6e0" fill-opacity="0.5"/>
<ellipse cx="127.7" cy="698.3" rx="4.9" ry="1.3" transform="rotate(109 128.1 698.3)" fill="#fff6e0" fill-opacity="0.5"/>
<polygon points="146.7,647.9 144.9,650.9 143.1,654.2 141.3,657.6 139.5,661.1 137.8,664.8 136.0,668.7 134.3,672.7 132.5,677.0 130.9,681.3 129.3,685.9 127.7,690.6 126.2,695.5 124.8,700.5 123.4,705.8 122.2,711.2 121.3,716.9 121.9,717.1 124.7,712.1 127.1,707.0 129.3,702.1 131.3,697.3 133.3,692.6 135.0,687.9 136.7,683.4 138.3,679.0 139.7,674.8 141.0,670.6 142.3,666.6 143.4,662.6 144.5,658.8 145.5,655.1 146.5,651.6 147.3,648.1" fill="url(#spk)"/></g>
<rect x="4.5" y="602" width="165.0" height="123.5" fill="none" stroke="#3a3a3a" stroke-width="1.6"/>
<text x="87.0" y="595.8" font-size="9" text-anchor="middle" fill="#111">OP50-SA</text>
<line x1="156.0" y1="719.0" x2="163.0" y2="719.0" stroke="#222" stroke-width="1.5"/>
<rect x="179.5" y="601.8" width="165.0" height="123.70000000000005" fill="#fff"/>
<g><polygon points="214.4,607.3 218.6,607.2 222.8,607.1 226.8,607.0 230.8,607.1 234.8,607.3 238.6,607.5 242.5,607.8 246.2,608.1 250.0,608.5 253.7,609.0 257.4,609.5 261.1,610.0 264.8,610.5 268.5,611.1 272.2,611.6 276.1,611.9 276.3,611.3 273.0,609.1 269.5,607.4 265.9,606.0 262.2,604.8 258.4,603.8 254.5,603.1 250.6,602.6 246.7,602.3 242.7,602.2 238.7,602.3 234.6,602.6 230.6,603.1 226.5,603.7 222.5,604.5 218.4,605.5 214.3,606.7" fill="#b88c6c" fill-opacity="0.92" stroke="#f2dcc8" stroke-width="0.8"/>
<ellipse cx="238.9" cy="604.9" rx="5.8" ry="1.1" transform="rotate(1 238.9 604.9)" fill="#5e3a28" fill-opacity="0.45"/>
<ellipse cx="255.4" cy="606.3" rx="3.7" ry="1.4" transform="rotate(9 255.5 606.3)" fill="#5e3a28" fill-opacity="0.45"/>
<ellipse cx="225.4" cy="605.5" rx="4.9" ry="1.1" transform="rotate(-6 225.6 605.5)" fill="#5e3a28" fill-opacity="0.45"/>
<ellipse cx="228.6" cy="605.2" rx="3.8" ry="1.2" transform="rotate(-4 228.5 605.2)" fill="#5e3a28" fill-opacity="0.45"/>
<ellipse cx="244.7" cy="605.1" rx="4.5" ry="1.1" transform="rotate(3 244.6 605.1)" fill="#fff6e0" fill-opacity="0.5"/>
<ellipse cx="229.7" cy="605.1" rx="5.6" ry="1.2" transform="rotate(-4 229.9 605.1)" fill="#fff6e0" fill-opacity="0.5"/>
<ellipse cx="230.1" cy="605.1" rx="3.4" ry="0.9" transform="rotate(-4 229.8 605.1)" fill="#fff6e0" fill-opacity="0.5"/>
<polygon points="214.4,607.3 218.6,607.2 222.8,607.1 226.8,607.0 230.8,607.1 234.8,607.3 238.6,607.5 242.5,607.8 246.2,608.1 250.0,608.5 253.7,609.0 257.4,609.5 261.1,610.0 264.8,610.5 268.5,611.1 272.2,611.6 276.1,611.9 276.3,611.3 273.0,609.1 269.5,607.4 265.9,606.0 262.2,604.8 258.4,603.8 254.5,603.1 250.6,602.6 246.7,602.3 242.7,602.2 238.7,602.3 234.6,602.6 230.6,603.1 226.5,603.7 222.5,604.5 218.4,605.5 214.3,606.7" fill="url(#spk)"/></g>
<g><polygon points="207.5,611.5 212.9,611.2 218.0,611.0 223.0,610.9 227.9,611.0 232.7,611.1 237.3,611.4 241.8,611.8 246.2,612.3 250.4,612.8 254.6,613.4 258.7,614.1 262.7,614.9 266.6,615.7 270.5,616.6 274.4,617.6 278.4,618.3 278.7,617.8 275.4,615.2 271.8,613.1 268.0,611.3 264.0,609.8 259.9,608.6 255.6,607.6 251.2,606.9 246.7,606.4 242.1,606.2 237.4,606.2 232.6,606.4 227.7,606.9 222.8,607.6 217.7,608.5 212.6,609.5 207.5,610.9" fill="#b88c6c" fill-opacity="0.92" stroke="#f2dcc8" stroke-width="0.8"/>
<ellipse cx="250.4" cy="609.8" rx="4.2" ry="1.2" transform="rotate(8 250.6 609.8)" fill="#5e3a28" fill-opacity="0.45"/>
<ellipse cx="233.6" cy="608.8" rx="2.9" ry="1.2" transform="rotate(-0 233.6 608.8)" fill="#5e3a28" fill-opacity="0.45"/>
<ellipse cx="253.3" cy="610.3" rx="3.9" ry="0.9" transform="rotate(9 253.6 610.3)" fill="#5e3a28" fill-opacity="0.45"/>
<ellipse cx="245.9" cy="609.3" rx="4.4" ry="1.3" transform="rotate(5 245.6 609.3)" fill="#5e3a28" fill-opacity="0.45"/>
<ellipse cx="261.9" cy="612.1" rx="6.0" ry="1.3" transform="rotate(14 262.2 612.1)" fill="#fff6e0" fill-opacity="0.5"/>
<ellipse cx="226.4" cy="609.0" rx="3.9" ry="0.9" transform="rotate(-3 226.2 609.0)" fill="#fff6e0" fill-opacity="0.5"/>
<ellipse cx="272.1" cy="615.2" rx="5.2" ry="0.9" transform="rotate(21 272.0 615.2)" fill="#fff6e0" fill-opacity="0.5"/>
<polygon points="207.5,611.5 212.9,611.2 218.0,611.0 223.0,610.9 227.9,611.0 232.7,611.1 237.3,611.4 241.8,611.8 246.2,612.3 250.4,612.8 254.6,613.4 258.7,614.1 262.7,614.9 266.6,615.7 270.5,616.6 274.4,617.6 278.4,618.3 278.7,617.8 275.4,615.2 271.8,613.1 268.0,611.3 264.0,609.8 259.9,608.6 255.6,607.6 251.2,606.9 246.7,606.4 242.1,606.2 237.4,606.2 232.6,606.4 227.7,606.9 222.8,607.6 217.7,608.5 212.6,609.5 207.5,610.9" fill="url(#spk)"/></g>
<g><polygon points="212.1,615.6 217.0,615.4 221.8,615.2 226.5,615.2 231.1,615.3 235.5,615.5 239.9,615.9 244.2,616.3 248.4,616.8 252.5,617.4 256.6,618.1 260.6,618.9 264.6,619.7 268.6,620.6 272.6,621.6 276.6,622.6 280.7,623.4 280.9,622.8 277.6,620.2 273.9,618.0 270.1,616.2 266.1,614.6 262.0,613.3 257.8,612.3 253.5,611.5 249.1,611.0 244.6,610.7 240.1,610.7 235.5,610.9 230.9,611.3 226.2,611.9 221.5,612.7 216.8,613.7 212.0,615.0" fill="#b88c6c" fill-opacity="0.92" stroke="#f2dcc8" stroke-width="0.8"/>
<ellipse cx="264.8" cy="617.1" rx="3.3" ry="1.1" transform="rotate(16 265.2 617.1)" fill="#5e3a28" fill-opacity="0.45"/>
<ellipse cx="224.5" cy="613.7" rx="3.2" ry="1.0" transform="rotate(-5 224.4 613.7)" fill="#5e3a28" fill-opacity="0.45"/>
<ellipse cx="261.7" cy="616.2" rx="5.6" ry="1.2" transform="rotate(14 261.8 616.2)" fill="#5e3a28" fill-opacity="0.45"/>
<ellipse cx="270.0" cy="618.6" rx="5.7" ry="1.4" transform="rotate(19 269.9 618.6)" fill="#5e3a28" fill-opacity="0.45"/>
<ellipse cx="233.3" cy="613.2" rx="3.7" ry="1.3" transform="rotate(-1 233.1 613.2)" fill="#fff6e0" fill-opacity="0.5"/>
<ellipse cx="260.7" cy="615.9" rx="2.9" ry="1.1" transform="rotate(13 260.4 615.9)" fill="#fff6e0" fill-opacity="0.5"/>
<ellipse cx="263.6" cy="616.6" rx="5.0" ry="0.8" transform="rotate(15 263.3 616.6)" fill="#fff6e0" fill-opacity="0.5"/>
<polygon points="212.1,615.6 217.0,615.4 221.8,615.2 226.5,615.2 231.1,615.3 235.5,615.5 239.9,615.9 244.2,616.3 248.4,616.8 252.5,617.4 256.6,618.1 260.6,618.9 264.6,619.7 268.6,620.6 272.6,621.6 276.6,622.6 280.7,623.4 280.9,622.8 277.6,620.2 273.9,618.0 270.1,616.2 266.1,614.6 262.0,613.3 257.8,612.3 253.5,611.5 249.1,611.0 244.6,610.7 240.1,610.7 235.5,610.9 230.9,611.3 226.2,611.9 221.5,612.7 216.8,613.7 212.0,615.0" fill="url(#spk)"/></g>
<g><polygon points="205.3,620.6 209.8,620.2 214.2,619.9 218.7,619.7 223.2,619.7 227.8,619.8 232.3,620.1 236.9,620.5 241.6,621.0 246.3,621.6 251.1,622.3 255.9,623.0 260.9,623.9 265.9,624.9 271.1,625.9 276.4,627.0 281.9,627.9 282.1,627.4 277.2,624.6 272.2,622.3 267.1,620.4 262.1,618.8 257.1,617.5 252.1,616.4 247.1,615.6 242.1,615.1 237.3,614.9 232.4,614.9 227.7,615.2 223.0,615.7 218.4,616.4 213.9,617.4 209.4,618.6 205.1,620.0" fill="#b88c6c" fill-opacity="0.92" stroke="#f2dcc8" stroke-width="0.8"/>
<ellipse cx="250.5" cy="619.2" rx="4.4" ry="1.4" transform="rotate(9 250.8 619.2)" fill="#5e3a28" fill-opacity="0.45"/>
<ellipse cx="222.5" cy="617.8" rx="4.9" ry="1.0" transform="rotate(-4 222.2 617.8)" fill="#5e3a28" fill-opacity="0.45"/>
<ellipse cx="226.7" cy="617.5" rx="5.4" ry="1.2" transform="rotate(-2 226.7 617.5)" fill="#5e3a28" fill-opacity="0.45"/>
<ellipse cx="221.8" cy="617.8" rx="2.9" ry="1.4" transform="rotate(-4 222.2 617.8)" fill="#5e3a28" fill-opacity="0.45"/>
<ellipse cx="226.3" cy="617.5" rx="3.5" ry="1.3" transform="rotate(-2 226.2 617.5)" fill="#fff6e0" fill-opacity="0.5"/>
<ellipse cx="237.2" cy="617.7" rx="5.6" ry="1.2" transform="rotate(3 237.5 617.7)" fill="#fff6e0" fill-opacity="0.5"/>
<ellipse cx="256.2" cy="620.1" rx="5.8" ry="0.8" transform="rotate(11 256.0 620.1)" fill="#fff6e0" fill-opacity="0.5"/>
<polygon points="205.3,620.6 209.8,620.2 214.2,619.9 218.7,619.7 223.2,619.7 227.8,619.8 232.3,620.1 236.9,620.5 241.6,621.0 246.3,621.6 251.1,622.3 255.9,623.0 260.9,623.9 265.9,624.9 271.1,625.9 276.4,627.0 281.9,627.9 282.1,627.4 277.2,624.6 272.2,622.3 267.1,620.4 262.1,618.8 257.1,617.5 252.1,616.4 247.1,615.6 242.1,615.1 237.3,614.9 232.4,614.9 227.7,615.2 223.0,615.7 218.4,616.4 213.9,617.4 209.4,618.6 205.1,620.0" fill="url(#spk)"/></g>
<g><polygon points="209.8,623.4 213.9,623.6 218.0,623.8 222.2,624.1 226.4,624.5 230.6,625.0 235.0,625.5 239.3,626.1 243.8,626.7 248.4,627.3 253.0,628.0 257.7,628.7 262.5,629.4 267.5,630.2 272.5,630.9 277.7,631.6 283.0,632.1 283.2,631.5 278.3,629.1 273.4,627.3 268.5,625.7 263.6,624.3 258.8,623.1 254.0,622.2 249.2,621.4 244.5,620.8 239.9,620.5 235.3,620.3 230.8,620.3 226.4,620.5 222.1,620.8 217.9,621.3 213.8,621.9 209.8,622.8" fill="#b88c6c" fill-opacity="0.92" stroke="#f2dcc8" stroke-width="0.8"/>
<ellipse cx="237.6" cy="623.1" rx="4.3" ry="1.4" transform="rotate(5 237.9 623.1)" fill="#5e3a28" fill-opacity="0.45"/>
<ellipse cx="264.0" cy="627.1" rx="3.1" ry="1.4" transform="rotate(12 264.3 627.1)" fill="#5e3a28" fill-opacity="0.45"/>
<ellipse cx="257.1" cy="625.7" rx="4.2" ry="0.9" transform="rotate(10 257.1 625.7)" fill="#5e3a28" fill-opacity="0.45"/>
<ellipse cx="267.0" cy="627.7" rx="5.6" ry="1.2" transform="rotate(13 267.0 627.7)" fill="#5e3a28" fill-opacity="0.45"/>
<ellipse cx="223.4" cy="622.5" rx="3.3" ry="1.4" transform="rotate(0 223.6 622.5)" fill="#fff6e0" fill-opacity="0.5"/>
<ellipse cx="251.5" cy="624.8" rx="3.1" ry="1.1" transform="rotate(9 251.9 624.8)" fill="#fff6e0" fill-opacity="0.5"/>
<ellipse cx="245.0" cy="623.9" rx="3.9" ry="1.1" transform="rotate(7 244.9 623.9)" fill="#fff6e0" fill-opacity="0.5"/>
<polygon points="209.8,623.4 213.9,623.6 218.0,623.8 222.2,624.1 226.4,624.5 230.6,625.0 235.0,625.5 239.3,626.1 243.8,626.7 248.4,627.3 253.0,628.0 257.7,628.7 262.5,629.4 267.5,630.2 272.5,630.9 277.7,631.6 283.0,632.1 283.2,631.5 278.3,629.1 273.4,627.3 268.5,625.7 263.6,624.3 258.8,623.1 254.0,622.2 249.2,621.4 244.5,620.8 239.9,620.5 235.3,620.3 230.8,620.3 226.4,620.5 222.1,620.8 217.9,621.3 213.8,621.9 209.8,622.8" fill="url(#spk)"/></g>
<g><polygon points="214.4,625.2 218.2,626.0 222.0,626.6 225.7,627.3 229.4,627.9 233.1,628.5 236.7,629.1 240.3,629.7 243.9,630.1 247.4,630.6 250.9,630.9 254.4,631.2 257.9,631.4 261.3,631.5 264.7,631.5 268.2,631.4 271.6,630.9 271.7,630.3 268.5,628.9 265.3,627.8 261.9,626.9 258.5,626.2 255.1,625.5 251.6,625.0 248.0,624.6 244.5,624.3 240.8,624.1 237.2,623.9 233.5,623.9 229.7,623.9 225.9,624.0 222.1,624.1 218.3,624.3 214.4,624.6" fill="url(#g23)" fill-opacity="0.92" stroke="#f2dcc8" stroke-width="0.8"/>
<ellipse cx="223.9" cy="625.5" rx="3.7" ry="0.8" transform="rotate(4 223.8 625.5)" fill="#5e3a28" fill-opacity="0.45"/>
<ellipse cx="244.8" cy="627.2" rx="2.7" ry="0.9" transform="rotate(6 244.4 627.2)" fill="#5e3a28" fill-opacity="0.45"/>
<ellipse cx="253.4" cy="628.2" rx="3.5" ry="1.2" transform="rotate(7 253.6 628.2)" fill="#5e3a28" fill-opacity="0.45"/>
<ellipse cx="235.6" cy="626.4" rx="4.3" ry="1.5" transform="rotate(5 235.6 626.4)" fill="#5e3a28" fill-opacity="0.45"/>
<ellipse cx="266.7" cy="630.0" rx="4.5" ry="1.4" transform="rotate(8 267.1 630.0)" fill="#fff6e0" fill-opacity="0.5"/>
<ellipse cx="262.3" cy="629.3" rx="4.7" ry="1.3" transform="rotate(8 262.1 629.3)" fill="#fff6e0" fill-opacity="0.5"/>
<ellipse cx="239.9" cy="626.8" rx="5.3" ry="1.4" transform="rotate(5 240.1 626.8)" fill="#fff6e0" fill-opacity="0.5"/>
<polygon points="214.4,625.2 218.2,626.0 222.0,626.6 225.7,627.3 229.4,627.9 233.1,628.5 236.7,629.1 240.3,629.7 243.9,630.1 247.4,630.6 250.9,630.9 254.4,631.2 257.9,631.4 261.3,631.5 264.7,631.5 268.2,631.4 271.6,630.9 271.7,630.3 268.5,628.9 265.3,627.8 261.9,626.9 258.5,626.2 255.1,625.5 251.6,625.0 248.0,624.6 244.5,624.3 240.8,624.1 237.2,623.9 233.5,623.9 229.7,623.9 225.9,624.0 222.1,624.1 218.3,624.3 214.4,624.6" fill="url(#spk)"/></g>
<g><polygon points="214.5,650.4 219.0,648.3 223.3,646.5 227.7,644.8 232.0,643.4 236.4,642.1 240.7,641.0 245.0,640.0 249.3,639.3 253.6,638.6 257.9,638.1 262.3,637.7 266.8,637.5 271.3,637.3 275.8,637.3 280.5,637.3 285.4,637.1 285.5,636.5 280.9,634.7 276.2,633.5 271.5,632.7 266.8,632.2 262.1,632.0 257.4,632.2 252.8,632.7 248.2,633.5 243.7,634.6 239.2,636.0 234.8,637.7 230.5,639.6 226.3,641.8 222.2,644.2 218.1,646.9 214.2,649.9" fill="#b88c6c" fill-opacity="0.92" stroke="#f2dcc8" stroke-width="0.8"/>
<ellipse cx="276.0" cy="635.4" rx="3.6" ry="1.3" transform="rotate(6 275.9 635.4)" fill="#5e3a28" fill-opacity="0.45"/>
<ellipse cx="264.6" cy="634.8" rx="4.7" ry="1.1" transform="rotate(-1 264.6 634.8)" fill="#5e3a28" fill-opacity="0.45"/>
<ellipse cx="254.0" cy="635.5" rx="2.7" ry="1.0" transform="rotate(-7 254.0 635.5)" fill="#5e3a28" fill-opacity="0.45"/>
<ellipse cx="242.0" cy="638.0" rx="4.2" ry="1.1" transform="rotate(-15 241.6 638.0)" fill="#5e3a28" fill-opacity="0.45"/>
<ellipse cx="237.1" cy="639.3" rx="3.7" ry="0.9" transform="rotate(-18 237.3 639.3)" fill="#fff6e0" fill-opacity="0.5"/>
<ellipse cx="225.1" cy="644.3" rx="4.1" ry="1.1" transform="rotate(-26 224.8 644.3)" fill="#fff6e0" fill-opacity="0.5"/>
<ellipse cx="254.9" cy="635.4" rx="3.1" ry="0.9" transform="rotate(-7 255.0 635.4)" fill="#fff6e0" fill-opacity="0.5"/>
<polygon points="214.5,650.4 219.0,648.3 223.3,646.5 227.7,644.8 232.0,643.4 236.4,642.1 240.7,641.0 245.0,640.0 249.3,639.3 253.6,638.6 257.9,638.1 262.3,637.7 266.8,637.5 271.3,637.3 275.8,637.3 280.5,637.3 285.4,637.1 285.5,636.5 280.9,634.7 276.2,633.5 271.5,632.7 266.8,632.2 262.1,632.0 257.4,632.2 252.8,632.7 248.2,633.5 243.7,634.6 239.2,636.0 234.8,637.7 230.5,639.6 226.3,641.8 222.2,644.2 218.1,646.9 214.2,649.9" fill="url(#spk)"/></g>
<g><polygon points="212.2,652.2 217.5,650.8 222.8,649.6 228.0,648.4 233.2,647.5 238.3,646.7 243.4,646.0 248.5,645.5 253.6,645.0 258.6,644.7 263.7,644.5 268.7,644.4 273.8,644.4 278.9,644.4 284.0,644.5 289.2,644.7 294.5,644.7 294.6,644.1 289.6,642.2 284.5,640.8 279.3,639.8 274.1,639.1 268.8,638.7 263.6,638.6 258.3,638.7 253.1,639.2 247.8,639.9 242.6,640.9 237.4,642.1 232.2,643.5 227.1,645.2 222.0,647.1 217.0,649.3 212.0,651.7" fill="#b88c6c" fill-opacity="0.92" stroke="#f2dcc8" stroke-width="0.8"/>
<ellipse cx="243.5" cy="643.3" rx="5.0" ry="1.2" transform="rotate(-9 243.6 643.3)" fill="#5e3a28" fill-opacity="0.45"/>
<ellipse cx="283.9" cy="642.6" rx="5.7" ry="1.2" transform="rotate(7 284.0 642.6)" fill="#5e3a28" fill-opacity="0.45"/>
<ellipse cx="229.3" cy="646.3" rx="4.5" ry="1.5" transform="rotate(-15 229.5 646.3)" fill="#5e3a28" fill-opacity="0.45"/>
<ellipse cx="247.4" cy="642.8" rx="4.0" ry="1.4" transform="rotate(-8 247.1 642.8)" fill="#5e3a28" fill-opacity="0.45"/>
<ellipse cx="228.7" cy="646.5" rx="5.6" ry="1.0" transform="rotate(-15 228.8 646.5)" fill="#fff6e0" fill-opacity="0.5"/>
<ellipse cx="240.4" cy="643.8" rx="3.1" ry="1.0" transform="rotate(-10 240.8 643.8)" fill="#fff6e0" fill-opacity="0.5"/>
<ellipse cx="269.0" cy="641.5" rx="3.9" ry="1.0" transform="rotate(1 269.2 641.5)" fill="#fff6e0" fill-opacity="0.5"/>
<polygon points="212.2,652.2 217.5,650.8 222.8,649.6 228.0,648.4 233.2,647.5 238.3,646.7 243.4,646.0 248.5,645.5 253.6,645.0 258.6,644.7 263.7,644.5 268.7,644.4 273.8,644.4 278.9,644.4 284.0,644.5 289.2,644.7 294.5,644.7 294.6,644.1 289.6,642.2 284.5,640.8 279.3,639.8 274.1,639.1 268.8,638.7 263.6,638.6 258.3,638.7 253.1,639.2 247.8,639.9 242.6,640.9 237.4,642.1 232.2,643.5 227.1,645.2 222.0,647.1 217.0,649.3 212.0,651.7" fill="url(#spk)"/></g>
<g><polygon points="221.3,649.3 226.0,649.1 230.7,648.9 235.5,648.7 240.3,648.6 245.2,648.5 250.2,648.5 255.2,648.5 260.3,648.5 265.4,648.5 270.6,648.5 275.9,648.5 281.3,648.4 286.7,648.4 292.3,648.3 297.9,648.1 303.7,647.7 303.8,647.1 298.2,645.6 292.6,644.5 287.0,643.8 281.5,643.2 276.1,642.8 270.7,642.5 265.4,642.5 260.1,642.6 255.0,642.9 249.9,643.3 244.9,643.9 240.0,644.6 235.1,645.4 230.4,646.4 225.7,647.4 221.2,648.7" fill="#b88c6c" fill-opacity="0.92" stroke="#f2dcc8" stroke-width="0.8"/>
<ellipse cx="270.0" cy="645.5" rx="4.8" ry="0.9" transform="rotate(1 269.7 645.5)" fill="#5e3a28" fill-opacity="0.45"/>
<ellipse cx="278.7" cy="645.7" rx="4.6" ry="0.9" transform="rotate(2 278.4 645.7)" fill="#5e3a28" fill-opacity="0.45"/>
<ellipse cx="283.7" cy="645.9" rx="3.7" ry="0.9" transform="rotate(3 283.4 645.9)" fill="#5e3a28" fill-opacity="0.45"/>
<ellipse cx="243.7" cy="646.3" rx="5.6" ry="1.3" transform="rotate(-4 243.7 646.3)" fill="#5e3a28" fill-opacity="0.45"/>
<ellipse cx="290.9" cy="646.3" rx="3.6" ry="1.3" transform="rotate(4 291.1 646.3)" fill="#fff6e0" fill-opacity="0.5"/>
<ellipse cx="272.7" cy="645.5" rx="4.9" ry="1.0" transform="rotate(1 272.8 645.5)" fill="#fff6e0" fill-opacity="0.5"/>
<ellipse cx="235.8" cy="647.0" rx="2.7" ry="1.2" transform="rotate(-6 235.8 647.0)" fill="#fff6e0" fill-opacity="0.5"/>
<polygon points="221.3,649.3 226.0,649.1 230.7,648.9 235.5,648.7 240.3,648.6 245.2,648.5 250.2,648.5 255.2,648.5 260.3,648.5 265.4,648.5 270.6,648.5 275.9,648.5 281.3,648.4 286.7,648.4 292.3,648.3 297.9,648.1 303.7,647.7 303.8,647.1 298.2,645.6 292.6,644.5 287.0,643.8 281.5,643.2 276.1,642.8 270.7,642.5 265.4,642.5 260.1,642.6 255.0,642.9 249.9,643.3 244.9,643.9 240.0,644.6 235.1,645.4 230.4,646.4 225.7,647.4 221.2,648.7" fill="url(#spk)"/></g>
<g><polygon points="225.9,634.4 229.5,634.4 233.2,634.4 236.8,634.5 240.5,634.7 244.2,634.9 247.9,635.2 251.6,635.5 255.4,635.9 259.2,636.3 263.0,636.7 266.9,637.1 270.9,637.5 274.9,638.0 279.0,638.4 283.2,638.8 287.6,639.0 287.8,638.4 283.9,636.3 279.9,634.8 275.9,633.4 271.8,632.3 267.8,631.5 263.8,630.8 259.8,630.3 255.8,630.0 251.9,629.9 248.0,630.0 244.2,630.2 240.4,630.6 236.6,631.2 232.9,631.9 229.3,632.7 225.8,633.8" fill="#b88c6c" fill-opacity="0.92" stroke="#f2dcc8" stroke-width="0.8"/>
<ellipse cx="249.9" cy="632.6" rx="4.6" ry="1.0" transform="rotate(2 249.9 632.6)" fill="#5e3a28" fill-opacity="0.45"/>
<ellipse cx="255.6" cy="633.0" rx="5.7" ry="1.2" transform="rotate(4 256.0 633.0)" fill="#5e3a28" fill-opacity="0.45"/>
<ellipse cx="281.4" cy="637.1" rx="4.6" ry="1.3" transform="rotate(14 281.8 637.1)" fill="#5e3a28" fill-opacity="0.45"/>
<ellipse cx="249.4" cy="632.6" rx="3.0" ry="0.9" transform="rotate(2 249.7 632.6)" fill="#5e3a28" fill-opacity="0.45"/>
<ellipse cx="270.4" cy="634.8" rx="5.3" ry="1.1" transform="rotate(10 270.8 634.8)" fill="#fff6e0" fill-opacity="0.5"/>
<ellipse cx="259.7" cy="633.3" rx="4.4" ry="1.3" transform="rotate(6 259.6 633.3)" fill="#fff6e0" fill-opacity="0.5"/>
<ellipse cx="262.5" cy="633.6" rx="5.1" ry="1.0" transform="rotate(7 262.7 633.6)" fill="#fff6e0" fill-opacity="0.5"/>
<polygon points="225.9,634.4 229.5,634.4 233.2,634.4 236.8,634.5 240.5,634.7 244.2,634.9 247.9,635.2 251.6,635.5 255.4,635.9 259.2,636.3 263.0,636.7 266.9,637.1 270.9,637.5 274.9,638.0 279.0,638.4 283.2,638.8 287.6,639.0 287.8,638.4 283.9,636.3 279.9,634.8 275.9,633.4 271.8,632.3 267.8,631.5 263.8,630.8 259.8,630.3 255.8,630.0 251.9,629.9 248.0,630.0 244.2,630.2 240.4,630.6 236.6,631.2 232.9,631.9 229.3,632.7 225.8,633.8" fill="url(#spk)"/></g>
<g><polygon points="230.4,650.9 233.4,651.5 236.3,652.0 239.2,652.5 242.1,653.0 244.9,653.4 247.7,653.8 250.4,654.2 253.2,654.4 255.9,654.6 258.5,654.8 261.2,654.8 263.7,654.8 266.3,654.6 268.9,654.4 271.4,654.0 273.9,653.2 274.0,652.6 271.6,651.4 269.1,650.6 266.6,650.0 264.1,649.5 261.5,649.1 258.9,648.8 256.2,648.6 253.5,648.6 250.7,648.6 247.9,648.6 245.1,648.8 242.2,649.0 239.3,649.2 236.4,649.5 233.4,649.8 230.4,650.3" fill="url(#g24)" fill-opacity="0.92" stroke="#f2dcc8" stroke-width="0.8"/>
<ellipse cx="262.0" cy="652.0" rx="5.2" ry="1.0" transform="rotate(4 261.8 652.0)" fill="#5e3a28" fill-opacity="0.45"/>
<ellipse cx="264.1" cy="652.1" rx="4.1" ry="1.0" transform="rotate(4 263.7 652.1)" fill="#5e3a28" fill-opacity="0.45"/>
<ellipse cx="256.0" cy="651.6" rx="3.0" ry="0.8" transform="rotate(3 255.6 651.6)" fill="#5e3a28" fill-opacity="0.45"/>
<ellipse cx="254.2" cy="651.5" rx="5.2" ry="1.1" transform="rotate(3 254.0 651.5)" fill="#5e3a28" fill-opacity="0.45"/>
<ellipse cx="270.3" cy="652.6" rx="5.1" ry="0.9" transform="rotate(4 270.5 652.6)" fill="#fff6e0" fill-opacity="0.5"/>
<ellipse cx="238.2" cy="650.8" rx="2.7" ry="1.2" transform="rotate(2 238.5 650.8)" fill="#fff6e0" fill-opacity="0.5"/>
<ellipse cx="256.4" cy="651.7" rx="5.8" ry="1.1" transform="rotate(3 256.7 651.7)" fill="#fff6e0" fill-opacity="0.5"/>
<polygon points="230.4,650.9 233.4,651.5 236.3,652.0 239.2,652.5 242.1,653.0 244.9,653.4 247.7,653.8 250.4,654.2 253.2,654.4 255.9,654.6 258.5,654.8 261.2,654.8 263.7,654.8 266.3,654.6 268.9,654.4 271.4,654.0 273.9,653.2 274.0,652.6 271.6,651.4 269.1,650.6 266.6,650.0 264.1,649.5 261.5,649.1 258.9,648.8 256.2,648.6 253.5,648.6 250.7,648.6 247.9,648.6 245.1,648.8 242.2,649.0 239.3,649.2 236.4,649.5 233.4,649.8 230.4,650.3" fill="url(#spk)"/></g>
<g><polygon points="232.7,657.3 237.7,657.8 242.6,658.3 247.5,658.9 252.3,659.6 257.1,660.3 261.8,661.0 266.5,661.8 271.2,662.7 275.8,663.5 280.4,664.3 285.0,665.2 289.6,666.1 294.2,667.0 298.8,667.8 303.5,668.6 308.2,669.2 308.4,668.6 304.3,666.2 299.9,664.2 295.5,662.5 290.9,661.0 286.3,659.6 281.6,658.5 276.9,657.6 272.1,656.8 267.3,656.3 262.4,655.9 257.5,655.6 252.6,655.5 247.7,655.6 242.7,655.8 237.7,656.2 232.7,656.7" fill="#b88c6c" fill-opacity="0.92" stroke="#f2dcc8" stroke-width="0.8"/>
<ellipse cx="253.4" cy="657.7" rx="5.1" ry="1.5" transform="rotate(4 253.6 657.7)" fill="#5e3a28" fill-opacity="0.45"/>
<ellipse cx="254.0" cy="657.7" rx="5.2" ry="1.0" transform="rotate(5 254.4 657.7)" fill="#5e3a28" fill-opacity="0.45"/>
<ellipse cx="301.6" cy="666.7" rx="4.7" ry="1.1" transform="rotate(17 301.6 666.7)" fill="#5e3a28" fill-opacity="0.45"/>
<ellipse cx="291.4" cy="663.8" rx="3.6" ry="1.4" transform="rotate(14 291.5 663.8)" fill="#5e3a28" fill-opacity="0.45"/>
<ellipse cx="251.3" cy="657.5" rx="2.7" ry="1.3" transform="rotate(4 251.1 657.5)" fill="#fff6e0" fill-opacity="0.5"/>
<ellipse cx="268.9" cy="659.3" rx="2.7" ry="1.2" transform="rotate(8 268.6 659.3)" fill="#fff6e0" fill-opacity="0.5"/>
<ellipse cx="269.4" cy="659.4" rx="5.8" ry="1.3" transform="rotate(8 269.1 659.4)" fill="#fff6e0" fill-opacity="0.5"/>
<polygon points="232.7,657.3 237.7,657.8 242.6,658.3 247.5,658.9 252.3,659.6 257.1,660.3 261.8,661.0 266.5,661.8 271.2,662.7 275.8,663.5 280.4,664.3 285.0,665.2 289.6,666.1 294.2,667.0 298.8,667.8 303.5,668.6 308.2,669.2 308.4,668.6 304.3,666.2 299.9,664.2 295.5,662.5 290.9,661.0 286.3,659.6 281.6,658.5 276.9,657.6 272.1,656.8 267.3,656.3 262.4,655.9 257.5,655.6 252.6,655.5 247.7,655.6 242.7,655.8 237.7,656.2 232.7,656.7" fill="url(#spk)"/></g>
<g><polygon points="238.4,663.7 243.4,664.3 248.3,664.9 253.0,665.6 257.7,666.3 262.4,667.0 266.9,667.8 271.3,668.7 275.7,669.5 280.1,670.4 284.3,671.3 288.5,672.1 292.7,673.0 296.9,673.9 301.0,674.7 305.1,675.5 309.4,676.1 309.6,675.5 306.0,673.1 302.2,671.2 298.2,669.4 294.1,667.9 289.9,666.6 285.6,665.5 281.2,664.5 276.7,663.7 272.2,663.1 267.6,662.7 262.8,662.4 258.1,662.3 253.3,662.3 248.4,662.4 243.4,662.7 238.4,663.1" fill="#b88c6c" fill-opacity="0.92" stroke="#f2dcc8" stroke-width="0.8"/>
<ellipse cx="263.1" cy="664.8" rx="3.4" ry="1.1" transform="rotate(6 263.3 664.8)" fill="#5e3a28" fill-opacity="0.45"/>
<ellipse cx="263.5" cy="664.8" rx="5.2" ry="1.3" transform="rotate(6 263.8 664.8)" fill="#5e3a28" fill-opacity="0.45"/>
<ellipse cx="268.0" cy="665.3" rx="3.3" ry="1.2" transform="rotate(7 267.6 665.3)" fill="#5e3a28" fill-opacity="0.45"/>
<ellipse cx="259.8" cy="664.4" rx="5.5" ry="1.0" transform="rotate(5 259.5 664.4)" fill="#5e3a28" fill-opacity="0.45"/>
<ellipse cx="292.3" cy="670.1" rx="3.5" ry="1.0" transform="rotate(15 292.0 670.1)" fill="#fff6e0" fill-opacity="0.5"/>
<ellipse cx="278.2" cy="666.9" rx="3.1" ry="1.3" transform="rotate(10 277.9 666.9)" fill="#fff6e0" fill-opacity="0.5"/>
<ellipse cx="283.9" cy="668.1" rx="4.5" ry="1.4" transform="rotate(12 284.0 668.1)" fill="#fff6e0" fill-opacity="0.5"/>
<polygon points="238.4,663.7 243.4,664.3 248.3,664.9 253.0,665.6 257.7,666.3 262.4,667.0 266.9,667.8 271.3,668.7 275.7,669.5 280.1,670.4 284.3,671.3 288.5,672.1 292.7,673.0 296.9,673.9 301.0,674.7 305.1,675.5 309.4,676.1 309.6,675.5 306.0,673.1 302.2,671.2 298.2,669.4 294.1,667.9 289.9,666.6 285.6,665.5 281.2,664.5 276.7,663.7 272.2,663.1 267.6,662.7 262.8,662.4 258.1,662.3 253.3,662.3 248.4,662.4 243.4,662.7 238.4,663.1" fill="url(#spk)"/></g>
<g><polygon points="241.8,671.0 245.8,672.0 249.9,672.9 254.0,673.9 258.2,674.8 262.5,675.8 266.8,676.7 271.2,677.7 275.7,678.7 280.3,679.6 285.0,680.5 289.7,681.4 294.6,682.3 299.5,683.1 304.6,683.8 309.8,684.5 315.1,684.8 315.3,684.2 310.4,681.9 305.5,680.1 300.6,678.5 295.7,677.1 290.9,675.8 286.2,674.7 281.4,673.7 276.8,672.9 272.2,672.2 267.6,671.6 263.2,671.2 258.8,670.8 254.4,670.6 250.2,670.4 246.0,670.3 241.9,670.4" fill="#b88c6c" fill-opacity="0.92" stroke="#f2dcc8" stroke-width="0.8"/>
<ellipse cx="263.1" cy="673.5" rx="3.8" ry="1.4" transform="rotate(9 262.7 673.5)" fill="#5e3a28" fill-opacity="0.45"/>
<ellipse cx="300.0" cy="680.8" rx="5.5" ry="1.5" transform="rotate(13 300.2 680.8)" fill="#5e3a28" fill-opacity="0.45"/>
<ellipse cx="267.1" cy="674.2" rx="2.9" ry="1.5" transform="rotate(10 267.5 674.2)" fill="#5e3a28" fill-opacity="0.45"/>
<ellipse cx="252.5" cy="671.9" rx="3.0" ry="1.3" transform="rotate(7 252.2 671.9)" fill="#5e3a28" fill-opacity="0.45"/>
<ellipse cx="256.5" cy="672.6" rx="4.9" ry="0.9" transform="rotate(8 256.8 672.6)" fill="#fff6e0" fill-opacity="0.5"/>
<ellipse cx="270.2" cy="674.6" rx="5.0" ry="1.4" transform="rotate(10 269.8 674.6)" fill="#fff6e0" fill-opacity="0.5"/>
<ellipse cx="307.0" cy="682.5" rx="3.3" ry="1.4" transform="rotate(14 307.4 682.5)" fill="#fff6e0" fill-opacity="0.5"/>
<polygon points="241.8,671.0 245.8,672.0 249.9,672.9 254.0,673.9 258.2,674.8 262.5,675.8 266.8,676.7 271.2,677.7 275.7,678.7 280.3,679.6 285.0,680.5 289.7,681.4 294.6,682.3 299.5,683.1 304.6,683.8 309.8,684.5 315.1,684.8 315.3,684.2 310.4,681.9 305.5,680.1 300.6,678.5 295.7,677.1 290.9,675.8 286.2,674.7 281.4,673.7 276.8,672.9 272.2,672.2 267.6,671.6 263.2,671.2 258.8,670.8 254.4,670.6 250.2,670.4 246.0,670.3 241.9,670.4" fill="url(#spk)"/></g>
<g><polygon points="246.4,676.8 250.5,677.8 254.7,678.7 258.9,679.6 263.2,680.3 267.4,681.1 271.8,681.8 276.2,682.3 280.6,682.8 285.1,683.2 289.6,683.6 294.1,683.7 298.7,683.8 303.3,683.8 308.0,683.6 312.7,683.3 317.5,682.5 317.5,681.9 312.8,680.7 308.2,679.9 303.6,679.2 299.0,678.6 294.5,678.1 290.0,677.6 285.5,677.3 281.1,677.0 276.6,676.7 272.3,676.6 267.9,676.4 263.6,676.3 259.2,676.2 255.0,676.2 250.7,676.1 246.5,676.2" fill="#b88c6c" fill-opacity="0.92" stroke="#f2dcc8" stroke-width="0.8"/>
<ellipse cx="293.4" cy="680.9" rx="4.3" ry="1.0" transform="rotate(4 293.8 680.9)" fill="#5e3a28" fill-opacity="0.45"/>
<ellipse cx="279.2" cy="679.8" rx="2.6" ry="1.5" transform="rotate(5 279.5 679.8)" fill="#5e3a28" fill-opacity="0.45"/>
<ellipse cx="273.6" cy="679.3" rx="2.9" ry="1.2" transform="rotate(5 273.3 679.3)" fill="#5e3a28" fill-opacity="0.45"/>
<ellipse cx="263.6" cy="678.4" rx="3.1" ry="1.3" transform="rotate(6 263.7 678.4)" fill="#5e3a28" fill-opacity="0.45"/>
<ellipse cx="264.5" cy="678.4" rx="4.3" ry="0.9" transform="rotate(6 264.3 678.4)" fill="#fff6e0" fill-opacity="0.5"/>
<ellipse cx="275.3" cy="679.5" rx="5.7" ry="1.1" transform="rotate(5 275.3 679.5)" fill="#fff6e0" fill-opacity="0.5"/>
<ellipse cx="268.3" cy="678.8" rx="5.6" ry="1.3" transform="rotate(5 267.9 678.8)" fill="#fff6e0" fill-opacity="0.5"/>
<polygon points="246.4,676.8 250.5,677.8 254.7,678.7 258.9,679.6 263.2,680.3 267.4,681.1 271.8,681.8 276.2,682.3 280.6,682.8 285.1,683.2 289.6,683.6 294.1,683.7 298.7,683.8 303.3,683.8 308.0,683.6 312.7,683.3 317.5,682.5 317.5,681.9 312.8,680.7 308.2,679.9 303.6,679.2 299.0,678.6 294.5,678.1 290.0,677.6 285.5,677.3 281.1,677.0 276.6,676.7 272.3,676.6 267.9,676.4 263.6,676.3 259.2,676.2 255.0,676.2 250.7,676.1 246.5,676.2" fill="url(#spk)"/></g>
<g><polygon points="218.9,685.9 224.2,687.4 229.5,688.8 234.7,690.1 239.8,691.5 244.8,692.8 249.8,694.1 254.7,695.3 259.6,696.5 264.4,697.7 269.1,698.7 273.8,699.7 278.5,700.7 283.1,701.5 287.6,702.2 292.2,702.9 296.8,703.1 296.9,702.5 292.9,700.4 288.6,698.6 284.2,697.0 279.7,695.5 275.2,694.2 270.5,693.0 265.7,691.8 260.8,690.8 255.9,689.8 250.8,689.0 245.7,688.2 240.5,687.5 235.3,686.9 229.9,686.3 224.5,685.8 219.0,685.3" fill="#b88c6c" fill-opacity="0.92" stroke="#f2dcc8" stroke-width="0.8"/>
<ellipse cx="248.9" cy="691.3" rx="3.4" ry="0.9" transform="rotate(12 249.1 691.3)" fill="#5e3a28" fill-opacity="0.45"/>
<ellipse cx="234.6" cy="688.4" rx="3.9" ry="1.2" transform="rotate(11 234.6 688.4)" fill="#5e3a28" fill-opacity="0.45"/>
<ellipse cx="254.2" cy="692.5" rx="4.9" ry="1.3" transform="rotate(12 254.6 692.5)" fill="#5e3a28" fill-opacity="0.45"/>
<ellipse cx="265.6" cy="694.9" rx="4.9" ry="1.5" transform="rotate(13 265.5 694.9)" fill="#5e3a28" fill-opacity="0.45"/>
<ellipse cx="284.6" cy="699.4" rx="3.9" ry="1.0" transform="rotate(15 284.4 699.4)" fill="#fff6e0" fill-opacity="0.5"/>
<ellipse cx="258.5" cy="693.2" rx="3.9" ry="1.1" transform="rotate(12 258.1 693.2)" fill="#fff6e0" fill-opacity="0.5"/>
<ellipse cx="257.2" cy="693.1" rx="6.0" ry="0.8" transform="rotate(12 257.5 693.1)" fill="#fff6e0" fill-opacity="0.5"/>
<polygon points="218.9,685.9 224.2,687.4 229.5,688.8 234.7,690.1 239.8,691.5 244.8,692.8 249.8,694.1 254.7,695.3 259.6,696.5 264.4,697.7 269.1,698.7 273.8,699.7 278.5,700.7 283.1,701.5 287.6,702.2 292.2,702.9 296.8,703.1 296.9,702.5 292.9,700.4 288.6,698.6 284.2,697.0 279.7,695.5 275.2,694.2 270.5,693.0 265.7,691.8 260.8,690.8 255.9,689.8 250.8,689.0 245.7,688.2 240.5,687.5 235.3,686.9 229.9,686.3 224.5,685.8 219.0,685.3" fill="url(#spk)"/></g>
<g><polygon points="232.7,682.5 238.1,683.6 243.5,684.6 248.9,685.5 254.3,686.4 259.7,687.3 265.1,688.2 270.5,689.0 275.9,689.7 281.4,690.4 286.8,691.0 292.2,691.5 297.7,691.9 303.2,692.2 308.7,692.4 314.2,692.5 319.7,692.1 319.8,691.5 314.5,689.9 309.1,688.7 303.7,687.6 298.3,686.6 292.9,685.8 287.5,685.0 282.0,684.4 276.6,683.9 271.1,683.4 265.6,683.0 260.2,682.7 254.7,682.4 249.2,682.2 243.7,682.0 238.2,681.9 232.7,681.9" fill="#b88c6c" fill-opacity="0.92" stroke="#f2dcc8" stroke-width="0.8"/>
<ellipse cx="286.9" cy="687.9" rx="3.4" ry="1.2" transform="rotate(6 286.5 687.9)" fill="#5e3a28" fill-opacity="0.45"/>
<ellipse cx="270.8" cy="686.2" rx="3.2" ry="0.9" transform="rotate(6 271.0 686.2)" fill="#5e3a28" fill-opacity="0.45"/>
<ellipse cx="302.5" cy="689.7" rx="5.7" ry="0.8" transform="rotate(7 302.3 689.7)" fill="#5e3a28" fill-opacity="0.45"/>
<ellipse cx="292.2" cy="688.6" rx="4.8" ry="1.2" transform="rotate(7 292.3 688.6)" fill="#5e3a28" fill-opacity="0.45"/>
<ellipse cx="267.3" cy="685.8" rx="2.5" ry="1.3" transform="rotate(6 266.9 685.8)" fill="#fff6e0" fill-opacity="0.5"/>
<ellipse cx="303.0" cy="689.8" rx="4.6" ry="1.5" transform="rotate(7 303.0 689.8)" fill="#fff6e0" fill-opacity="0.5"/>
<ellipse cx="261.6" cy="685.2" rx="5.1" ry="1.1" transform="rotate(6 261.5 685.2)" fill="#fff6e0" fill-opacity="0.5"/>
<polygon points="232.7,682.5 238.1,683.6 243.5,684.6 248.9,685.5 254.3,686.4 259.7,687.3 265.1,688.2 270.5,689.0 275.9,689.7 281.4,690.4 286.8,691.0 292.2,691.5 297.7,691.9 303.2,692.2 308.7,692.4 314.2,692.5 319.7,692.1 319.8,691.5 314.5,689.9 309.1,688.7 303.7,687.6 298.3,686.6 292.9,685.8 287.5,685.0 282.0,684.4 276.6,683.9 271.1,683.4 265.6,683.0 260.2,682.7 254.7,682.4 249.2,682.2 243.7,682.0 238.2,681.9 232.7,681.9" fill="url(#spk)"/></g>
<g><polygon points="225.7,689.8 230.6,691.8 235.6,693.5 240.7,695.1 245.7,696.6 250.9,698.0 256.1,699.2 261.4,700.3 266.7,701.2 272.0,701.9 277.5,702.4 282.9,702.8 288.4,703.0 293.9,703.0 299.5,702.7 305.0,702.3 310.6,701.3 310.6,700.7 305.1,699.7 299.6,699.0 294.1,698.3 288.7,697.7 283.4,697.1 278.0,696.5 272.7,695.9 267.5,695.3 262.2,694.7 257.0,694.1 251.8,693.4 246.6,692.7 241.4,691.9 236.2,691.0 231.1,690.1 225.9,689.2" fill="#b88c6c" fill-opacity="0.92" stroke="#f2dcc8" stroke-width="0.8"/>
<ellipse cx="284.0" cy="700.0" rx="4.3" ry="1.2" transform="rotate(4 284.1 700.0)" fill="#5e3a28" fill-opacity="0.45"/>
<ellipse cx="281.6" cy="699.9" rx="4.7" ry="1.2" transform="rotate(5 281.7 699.9)" fill="#5e3a28" fill-opacity="0.45"/>
<ellipse cx="252.2" cy="695.8" rx="3.4" ry="1.4" transform="rotate(11 252.1 695.8)" fill="#5e3a28" fill-opacity="0.45"/>
<ellipse cx="268.5" cy="698.4" rx="4.3" ry="1.1" transform="rotate(7 268.3 698.4)" fill="#5e3a28" fill-opacity="0.45"/>
<ellipse cx="251.7" cy="695.8" rx="5.7" ry="1.2" transform="rotate(11 252.0 695.8)" fill="#fff6e0" fill-opacity="0.5"/>
<ellipse cx="271.6" cy="698.8" rx="5.3" ry="1.0" transform="rotate(7 271.6 698.8)" fill="#fff6e0" fill-opacity="0.5"/>
<ellipse cx="249.1" cy="695.2" rx="4.1" ry="1.3" transform="rotate(11 248.9 695.2)" fill="#fff6e0" fill-opacity="0.5"/>
<polygon points="225.7,689.8 230.6,691.8 235.6,693.5 240.7,695.1 245.7,696.6 250.9,698.0 256.1,699.2 261.4,700.3 266.7,701.2 272.0,701.9 277.5,702.4 282.9,702.8 288.4,703.0 293.9,703.0 299.5,702.7 305.0,702.3 310.6,701.3 310.6,700.7 305.1,699.7 299.6,699.0 294.1,698.3 288.7,697.7 283.4,697.1 278.0,696.5 272.7,695.9 267.5,695.3 262.2,694.7 257.0,694.1 251.8,693.4 246.6,692.7 241.4,691.9 236.2,691.0 231.1,690.1 225.9,689.2" fill="url(#spk)"/></g>
<g><polygon points="239.5,698.5 243.5,699.6 247.4,700.6 251.4,701.6 255.3,702.5 259.3,703.4 263.3,704.2 267.2,705.0 271.2,705.7 275.2,706.4 279.2,707.0 283.3,707.5 287.3,707.9 291.3,708.2 295.4,708.4 299.5,708.5 303.7,708.2 303.8,707.6 299.9,705.9 296.0,704.7 292.1,703.6 288.1,702.7 284.1,701.8 280.1,701.1 276.1,700.5 272.1,699.9 268.1,699.5 264.0,699.1 260.0,698.7 255.9,698.5 251.8,698.3 247.8,698.1 243.7,698.0 239.6,697.9" fill="#b88c6c" fill-opacity="0.92" stroke="#f2dcc8" stroke-width="0.8"/>
<ellipse cx="290.4" cy="705.7" rx="5.5" ry="0.8" transform="rotate(9 290.1 705.7)" fill="#5e3a28" fill-opacity="0.45"/>
<ellipse cx="268.3" cy="702.3" rx="5.4" ry="0.9" transform="rotate(8 268.0 702.3)" fill="#5e3a28" fill-opacity="0.45"/>
<ellipse cx="256.6" cy="700.6" rx="2.9" ry="1.1" transform="rotate(8 256.8 700.6)" fill="#5e3a28" fill-opacity="0.45"/>
<ellipse cx="288.9" cy="705.5" rx="4.1" ry="0.9" transform="rotate(9 288.9 705.5)" fill="#5e3a28" fill-opacity="0.45"/>
<ellipse cx="269.1" cy="702.4" rx="4.9" ry="1.1" transform="rotate(8 268.7 702.4)" fill="#fff6e0" fill-opacity="0.5"/>
<ellipse cx="273.1" cy="703.0" rx="5.2" ry="0.9" transform="rotate(9 272.8 703.0)" fill="#fff6e0" fill-opacity="0.5"/>
<ellipse cx="282.7" cy="704.5" rx="4.3" ry="1.0" transform="rotate(9 282.8 704.5)" fill="#fff6e0" fill-opacity="0.5"/>
<polygon points="239.5,698.5 243.5,699.6 247.4,700.6 251.4,701.6 255.3,702.5 259.3,703.4 263.3,704.2 267.2,705.0 271.2,705.7 275.2,706.4 279.2,707.0 283.3,707.5 287.3,707.9 291.3,708.2 295.4,708.4 299.5,708.5 303.7,708.2 303.8,707.6 299.9,705.9 296.0,704.7 292.1,703.6 288.1,702.7 284.1,701.8 280.1,701.1 276.1,700.5 272.1,699.9 268.1,699.5 264.0,699.1 260.0,698.7 255.9,698.5 251.8,698.3 247.8,698.1 243.7,698.0 239.6,697.9" fill="url(#spk)"/></g>
<g><polygon points="225.9,722.6 230.6,721.7 235.2,720.7 239.7,719.8 244.1,718.9 248.5,718.0 252.7,717.1 256.9,716.2 260.9,715.3 264.9,714.4 268.7,713.5 272.5,712.5 276.2,711.5 279.8,710.4 283.3,709.3 286.7,708.1 290.0,706.6 289.9,706.0 286.3,705.6 282.6,705.6 278.9,705.9 275.1,706.3 271.3,706.9 267.4,707.7 263.5,708.6 259.5,709.6 255.5,710.8 251.4,712.1 247.2,713.5 243.0,715.0 238.8,716.6 234.5,718.3 230.1,720.1 225.7,722.0" fill="url(#g25)" fill-opacity="0.92" stroke="#f2dcc8" stroke-width="0.8"/>
<ellipse cx="255.9" cy="713.5" rx="3.8" ry="0.8" transform="rotate(-15 256.0 713.5)" fill="#5e3a28" fill-opacity="0.45"/>
<ellipse cx="247.4" cy="715.9" rx="2.7" ry="0.9" transform="rotate(-16 247.3 715.9)" fill="#5e3a28" fill-opacity="0.45"/>
<ellipse cx="272.7" cy="709.5" rx="3.6" ry="1.0" transform="rotate(-12 272.8 709.5)" fill="#5e3a28" fill-opacity="0.45"/>
<ellipse cx="277.8" cy="708.4" rx="4.7" ry="1.4" transform="rotate(-11 278.2 708.4)" fill="#5e3a28" fill-opacity="0.45"/>
<ellipse cx="247.3" cy="715.9" rx="5.3" ry="1.2" transform="rotate(-16 247.4 715.9)" fill="#fff6e0" fill-opacity="0.5"/>
<ellipse cx="255.7" cy="713.5" rx="4.0" ry="1.1" transform="rotate(-15 256.1 713.5)" fill="#fff6e0" fill-opacity="0.5"/>
<ellipse cx="272.4" cy="709.6" rx="3.9" ry="1.3" transform="rotate(-12 272.6 709.6)" fill="#fff6e0" fill-opacity="0.5"/>
<polygon points="225.9,722.6 230.6,721.7 235.2,720.7 239.7,719.8 244.1,718.9 248.5,718.0 252.7,717.1 256.9,716.2 260.9,715.3 264.9,714.4 268.7,713.5 272.5,712.5 276.2,711.5 279.8,710.4 283.3,709.3 286.7,708.1 290.0,706.6 289.9,706.0 286.3,705.6 282.6,705.6 278.9,705.9 275.1,706.3 271.3,706.9 267.4,707.7 263.5,708.6 259.5,709.6 255.5,710.8 251.4,712.1 247.2,713.5 243.0,715.0 238.8,716.6 234.5,718.3 230.1,720.1 225.7,722.0" fill="url(#spk)"/></g>
<rect x="179.5" y="601.8" width="165.0" height="123.70000000000005" fill="none" stroke="#3a3a3a" stroke-width="1.6"/>
<text x="262.0" y="595.8" font-size="9" text-anchor="middle" fill="#111">FC-SA</text>
<line x1="330.0" y1="719.0" x2="337.0" y2="719.0" stroke="#222" stroke-width="1.5"/>
</svg>
</body></html>
